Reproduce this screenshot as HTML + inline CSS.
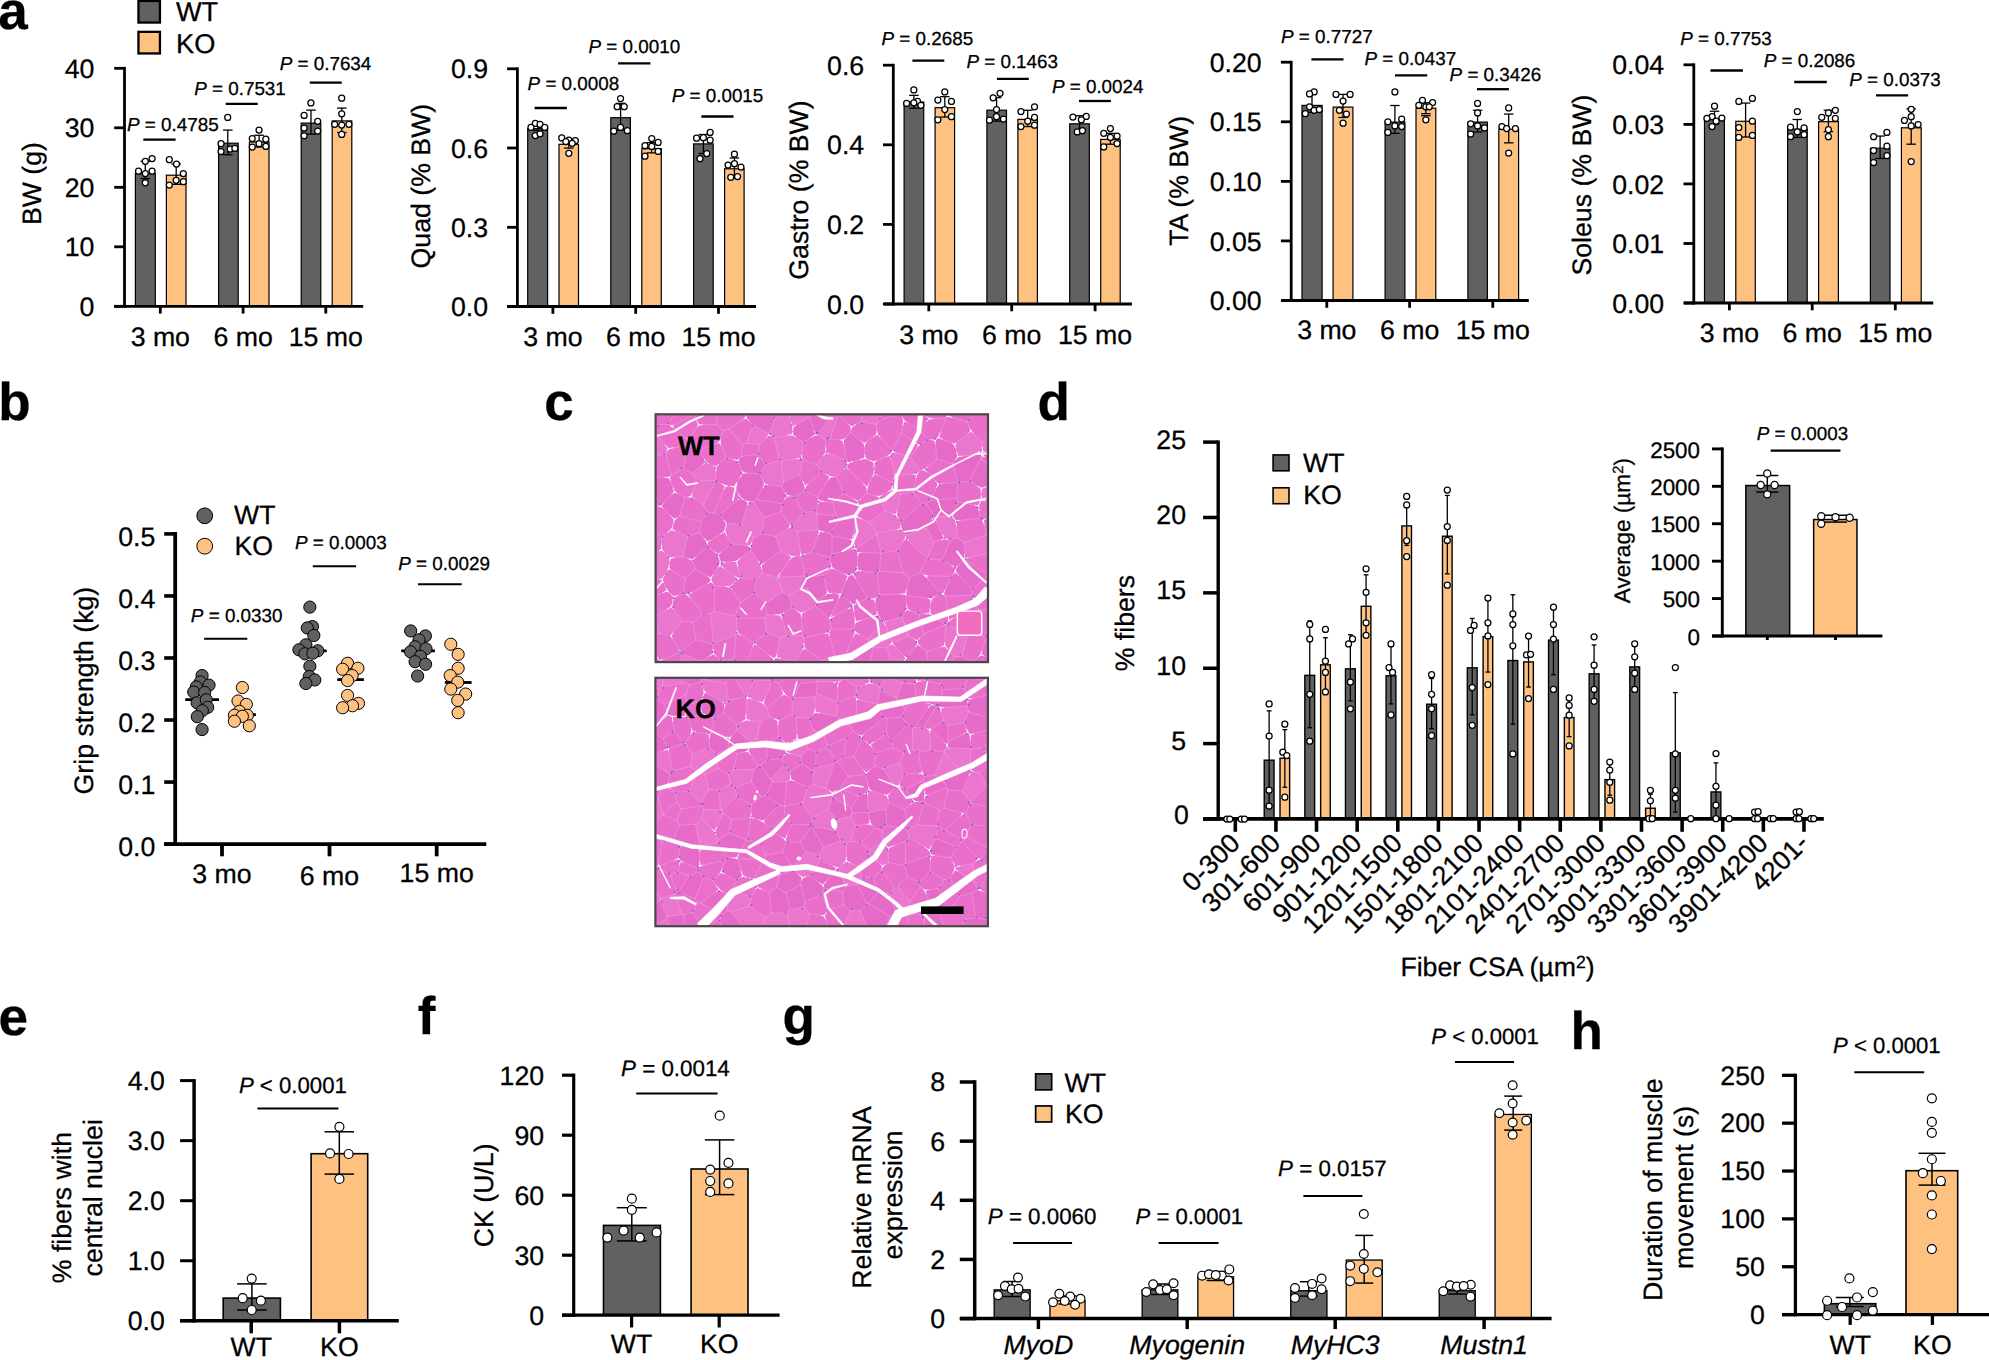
<!DOCTYPE html>
<html lang="en"><head><meta charset="utf-8"><title>Figure</title>
<style>html,body{margin:0;padding:0;background:#fff}svg{display:block}</style></head>
<body>
<svg width="1989" height="1360" viewBox="0 0 1989 1360" font-family='"Liberation Sans", Arial, Helvetica, sans-serif' fill="#000" text-rendering="geometricPrecision">
<style>text{stroke:#000;stroke-width:.28px}</style>
<rect x="135.4" y="173.5" width="19.9" height="132.7" fill="#616161" stroke="#000" stroke-width="1.2"/>
<rect x="166.4" y="175.2" width="19.6" height="131" fill="#ffc180" stroke="#000" stroke-width="1.2"/>
<rect x="218.6" y="143.2" width="19.6" height="163" fill="#616161" stroke="#000" stroke-width="1.2"/>
<rect x="249.4" y="142" width="19.6" height="164.2" fill="#ffc180" stroke="#000" stroke-width="1.2"/>
<rect x="301.2" y="123.1" width="19.6" height="183.1" fill="#616161" stroke="#000" stroke-width="1.2"/>
<rect x="332.2" y="120.9" width="19.6" height="185.3" fill="#ffc180" stroke="#000" stroke-width="1.2"/>
<line x1="124.5" y1="66.9" x2="124.5" y2="307.7" stroke="#000" stroke-width="2.8"/>
<line x1="114.4" y1="306.3" x2="363.2" y2="306.3" stroke="#000" stroke-width="2.8"/>
<line x1="114.2" y1="68.3" x2="124.5" y2="68.3" stroke="#000" stroke-width="2.8"/>
<text x="94.4" y="77.9" font-size="26.7" text-anchor="end">40</text>
<line x1="114.2" y1="127.8" x2="124.5" y2="127.8" stroke="#000" stroke-width="2.8"/>
<text x="94.4" y="137.4" font-size="26.7" text-anchor="end">30</text>
<line x1="114.2" y1="187.3" x2="124.5" y2="187.3" stroke="#000" stroke-width="2.8"/>
<text x="94.4" y="196.9" font-size="26.7" text-anchor="end">20</text>
<line x1="114.2" y1="246.8" x2="124.5" y2="246.8" stroke="#000" stroke-width="2.8"/>
<text x="94.4" y="256.4" font-size="26.7" text-anchor="end">10</text>
<line x1="114.2" y1="306.3" x2="124.5" y2="306.3" stroke="#000" stroke-width="2.8"/>
<text x="94.4" y="315.9" font-size="26.7" text-anchor="end">0</text>
<line x1="160.3" y1="306.3" x2="160.3" y2="313.6" stroke="#000" stroke-width="2.8"/>
<text x="160.3" y="345.5" font-size="26.7" text-anchor="middle">3 mo</text>
<line x1="243.1" y1="306.3" x2="243.1" y2="313.6" stroke="#000" stroke-width="2.8"/>
<text x="243.1" y="345.5" font-size="26.7" text-anchor="middle">6 mo</text>
<line x1="325.8" y1="306.3" x2="325.8" y2="313.6" stroke="#000" stroke-width="2.8"/>
<text x="325.8" y="345.5" font-size="26.7" text-anchor="middle">15 mo</text>
<line x1="145.3" y1="161.31" x2="145.3" y2="178.68" stroke="#000" stroke-width="1.3"/>
<line x1="140.55" y1="161.31" x2="150.05" y2="161.31" stroke="#000" stroke-width="1.3"/>
<line x1="140.55" y1="178.68" x2="150.05" y2="178.68" stroke="#000" stroke-width="1.3"/>
<line x1="176.2" y1="164.02" x2="176.2" y2="184.38" stroke="#000" stroke-width="1.3"/>
<line x1="171.45" y1="164.02" x2="180.95" y2="164.02" stroke="#000" stroke-width="1.3"/>
<line x1="171.45" y1="184.38" x2="180.95" y2="184.38" stroke="#000" stroke-width="1.3"/>
<line x1="227.8" y1="130.09" x2="227.8" y2="154.79" stroke="#000" stroke-width="1.3"/>
<line x1="223.05" y1="130.09" x2="232.55" y2="130.09" stroke="#000" stroke-width="1.3"/>
<line x1="223.05" y1="154.79" x2="232.55" y2="154.79" stroke="#000" stroke-width="1.3"/>
<line x1="259.1" y1="135.25" x2="259.1" y2="147.05" stroke="#000" stroke-width="1.3"/>
<line x1="254.35" y1="135.25" x2="263.85" y2="135.25" stroke="#000" stroke-width="1.3"/>
<line x1="254.35" y1="147.05" x2="263.85" y2="147.05" stroke="#000" stroke-width="1.3"/>
<line x1="311" y1="110.13" x2="311" y2="134.16" stroke="#000" stroke-width="1.3"/>
<line x1="306.25" y1="110.13" x2="315.75" y2="110.13" stroke="#000" stroke-width="1.3"/>
<line x1="306.25" y1="134.16" x2="315.75" y2="134.16" stroke="#000" stroke-width="1.3"/>
<line x1="341.8" y1="108.1" x2="341.8" y2="132.53" stroke="#000" stroke-width="1.3"/>
<line x1="337.05" y1="108.1" x2="346.55" y2="108.1" stroke="#000" stroke-width="1.3"/>
<line x1="337.05" y1="132.53" x2="346.55" y2="132.53" stroke="#000" stroke-width="1.3"/>
<circle cx="145.29" cy="161.31" r="3" fill="#fff" stroke="#000" stroke-width="1.25"/>
<circle cx="152.08" cy="158.59" r="3" fill="#fff" stroke="#000" stroke-width="1.25"/>
<circle cx="138.51" cy="171.22" r="3" fill="#fff" stroke="#000" stroke-width="1.25"/>
<circle cx="145.29" cy="173.52" r="3" fill="#fff" stroke="#000" stroke-width="1.25"/>
<circle cx="152.08" cy="171.22" r="3" fill="#fff" stroke="#000" stroke-width="1.25"/>
<circle cx="145.29" cy="182.75" r="3" fill="#fff" stroke="#000" stroke-width="1.25"/>
<circle cx="169.32" cy="159.68" r="3" fill="#fff" stroke="#000" stroke-width="1.25"/>
<circle cx="176.51" cy="164.02" r="3" fill="#fff" stroke="#000" stroke-width="1.25"/>
<circle cx="183.3" cy="173.52" r="3" fill="#fff" stroke="#000" stroke-width="1.25"/>
<circle cx="176.11" cy="180.31" r="3" fill="#fff" stroke="#000" stroke-width="1.25"/>
<circle cx="183.3" cy="181.67" r="3" fill="#fff" stroke="#000" stroke-width="1.25"/>
<circle cx="169.32" cy="185.06" r="3" fill="#fff" stroke="#000" stroke-width="1.25"/>
<circle cx="227.69" cy="117.46" r="3" fill="#fff" stroke="#000" stroke-width="1.25"/>
<circle cx="221.04" cy="143.66" r="3" fill="#fff" stroke="#000" stroke-width="1.25"/>
<circle cx="221.04" cy="151.53" r="3" fill="#fff" stroke="#000" stroke-width="1.25"/>
<circle cx="230.13" cy="149.09" r="3" fill="#fff" stroke="#000" stroke-width="1.25"/>
<circle cx="234.88" cy="148.41" r="3" fill="#fff" stroke="#000" stroke-width="1.25"/>
<circle cx="259.04" cy="130.09" r="3" fill="#fff" stroke="#000" stroke-width="1.25"/>
<circle cx="252.26" cy="138.5" r="3" fill="#fff" stroke="#000" stroke-width="1.25"/>
<circle cx="265.83" cy="139.18" r="3" fill="#fff" stroke="#000" stroke-width="1.25"/>
<circle cx="259.04" cy="143.66" r="3" fill="#fff" stroke="#000" stroke-width="1.25"/>
<circle cx="252.26" cy="147.05" r="3" fill="#fff" stroke="#000" stroke-width="1.25"/>
<circle cx="265.83" cy="146.38" r="3" fill="#fff" stroke="#000" stroke-width="1.25"/>
<circle cx="310.9" cy="102.94" r="3" fill="#fff" stroke="#000" stroke-width="1.25"/>
<circle cx="304.11" cy="115.43" r="3" fill="#fff" stroke="#000" stroke-width="1.25"/>
<circle cx="317.68" cy="121.26" r="3" fill="#fff" stroke="#000" stroke-width="1.25"/>
<circle cx="304.11" cy="128.05" r="3" fill="#fff" stroke="#000" stroke-width="1.25"/>
<circle cx="317.68" cy="131.04" r="3" fill="#fff" stroke="#000" stroke-width="1.25"/>
<circle cx="304.11" cy="135.79" r="3" fill="#fff" stroke="#000" stroke-width="1.25"/>
<circle cx="341.71" cy="98.19" r="3" fill="#fff" stroke="#000" stroke-width="1.25"/>
<circle cx="341.71" cy="113.8" r="3" fill="#fff" stroke="#000" stroke-width="1.25"/>
<circle cx="334.65" cy="124.25" r="3" fill="#fff" stroke="#000" stroke-width="1.25"/>
<circle cx="341.71" cy="125.06" r="3" fill="#fff" stroke="#000" stroke-width="1.25"/>
<circle cx="348.9" cy="124.25" r="3" fill="#fff" stroke="#000" stroke-width="1.25"/>
<circle cx="341.71" cy="134.43" r="3" fill="#fff" stroke="#000" stroke-width="1.25"/>
<text x="127" y="131" font-size="18.83"><tspan font-style="italic">P</tspan> = 0.4785</text>
<text x="194.2" y="95.2" font-size="18.83"><tspan font-style="italic">P</tspan> = 0.7531</text>
<text x="279.7" y="70" font-size="18.83"><tspan font-style="italic">P</tspan> = 0.7634</text>
<line x1="143.3" y1="139.6" x2="175.6" y2="139.6" stroke="#000" stroke-width="2.3"/>
<line x1="225.7" y1="103.9" x2="257.7" y2="103.9" stroke="#000" stroke-width="2.3"/>
<line x1="309.8" y1="82.7" x2="341.8" y2="82.7" stroke="#000" stroke-width="2.3"/>
<text x="40.9" y="183.6" font-size="26.7" text-anchor="middle" transform="rotate(-90 40.9 183.6)">BW (g)</text>
<rect x="527.7" y="128.6" width="19.9" height="177.8" fill="#616161" stroke="#000" stroke-width="1.2"/>
<rect x="559" y="144.3" width="19.5" height="162.1" fill="#ffc180" stroke="#000" stroke-width="1.2"/>
<rect x="610.8" y="117.7" width="19.6" height="188.7" fill="#616161" stroke="#000" stroke-width="1.2"/>
<rect x="641.8" y="148.7" width="19.5" height="157.7" fill="#ffc180" stroke="#000" stroke-width="1.2"/>
<rect x="693.6" y="143.9" width="19.6" height="162.5" fill="#616161" stroke="#000" stroke-width="1.2"/>
<rect x="724.6" y="168.8" width="19.5" height="137.6" fill="#ffc180" stroke="#000" stroke-width="1.2"/>
<line x1="517.4" y1="67.4" x2="517.4" y2="307.9" stroke="#000" stroke-width="2.8"/>
<line x1="507.2" y1="306.5" x2="756" y2="306.5" stroke="#000" stroke-width="2.8"/>
<line x1="507.1" y1="68.8" x2="517.4" y2="68.8" stroke="#000" stroke-width="2.8"/>
<text x="488.1" y="78.4" font-size="26.7" text-anchor="end">0.9</text>
<line x1="507.1" y1="148" x2="517.4" y2="148" stroke="#000" stroke-width="2.8"/>
<text x="488.1" y="157.6" font-size="26.7" text-anchor="end">0.6</text>
<line x1="507.1" y1="227.3" x2="517.4" y2="227.3" stroke="#000" stroke-width="2.8"/>
<text x="488.1" y="236.9" font-size="26.7" text-anchor="end">0.3</text>
<line x1="507.1" y1="306.5" x2="517.4" y2="306.5" stroke="#000" stroke-width="2.8"/>
<text x="488.1" y="316.1" font-size="26.7" text-anchor="end">0.0</text>
<line x1="552.9" y1="306.5" x2="552.9" y2="313.8" stroke="#000" stroke-width="2.8"/>
<text x="552.9" y="345.5" font-size="26.7" text-anchor="middle">3 mo</text>
<line x1="635.7" y1="306.5" x2="635.7" y2="313.8" stroke="#000" stroke-width="2.8"/>
<text x="635.7" y="345.5" font-size="26.7" text-anchor="middle">6 mo</text>
<line x1="718.5" y1="306.5" x2="718.5" y2="313.8" stroke="#000" stroke-width="2.8"/>
<text x="718.5" y="345.5" font-size="26.7" text-anchor="middle">15 mo</text>
<line x1="537.7" y1="125.02" x2="537.7" y2="130.45" stroke="#000" stroke-width="1.3"/>
<line x1="532.95" y1="125.02" x2="542.45" y2="125.02" stroke="#000" stroke-width="1.3"/>
<line x1="532.95" y1="130.45" x2="542.45" y2="130.45" stroke="#000" stroke-width="1.3"/>
<line x1="568.8" y1="139.27" x2="568.8" y2="148.09" stroke="#000" stroke-width="1.3"/>
<line x1="564.05" y1="139.27" x2="573.55" y2="139.27" stroke="#000" stroke-width="1.3"/>
<line x1="564.05" y1="148.09" x2="573.55" y2="148.09" stroke="#000" stroke-width="1.3"/>
<line x1="620.6" y1="103.3" x2="620.6" y2="129.77" stroke="#000" stroke-width="1.3"/>
<line x1="615.85" y1="103.3" x2="625.35" y2="103.3" stroke="#000" stroke-width="1.3"/>
<line x1="615.85" y1="129.77" x2="625.35" y2="129.77" stroke="#000" stroke-width="1.3"/>
<line x1="651.6" y1="142.66" x2="651.6" y2="152.85" stroke="#000" stroke-width="1.3"/>
<line x1="646.85" y1="142.66" x2="656.35" y2="142.66" stroke="#000" stroke-width="1.3"/>
<line x1="646.85" y1="152.85" x2="656.35" y2="152.85" stroke="#000" stroke-width="1.3"/>
<line x1="703.4" y1="134.52" x2="703.4" y2="153.52" stroke="#000" stroke-width="1.3"/>
<line x1="698.65" y1="134.52" x2="708.15" y2="134.52" stroke="#000" stroke-width="1.3"/>
<line x1="698.65" y1="153.52" x2="708.15" y2="153.52" stroke="#000" stroke-width="1.3"/>
<line x1="734.4" y1="158" x2="734.4" y2="177.96" stroke="#000" stroke-width="1.3"/>
<line x1="729.65" y1="158" x2="739.15" y2="158" stroke="#000" stroke-width="1.3"/>
<line x1="729.65" y1="177.96" x2="739.15" y2="177.96" stroke="#000" stroke-width="1.3"/>
<circle cx="535.29" cy="123.39" r="3" fill="#fff" stroke="#000" stroke-width="1.25"/>
<circle cx="540.04" cy="124.34" r="3" fill="#fff" stroke="#000" stroke-width="1.25"/>
<circle cx="530.95" cy="127.46" r="3" fill="#fff" stroke="#000" stroke-width="1.25"/>
<circle cx="544.79" cy="127.46" r="3" fill="#fff" stroke="#000" stroke-width="1.25"/>
<circle cx="535.29" cy="135.61" r="3" fill="#fff" stroke="#000" stroke-width="1.25"/>
<circle cx="540.04" cy="133.84" r="3" fill="#fff" stroke="#000" stroke-width="1.25"/>
<circle cx="561.76" cy="137.91" r="3" fill="#fff" stroke="#000" stroke-width="1.25"/>
<circle cx="568.96" cy="140.22" r="3" fill="#fff" stroke="#000" stroke-width="1.25"/>
<circle cx="575.34" cy="140.63" r="3" fill="#fff" stroke="#000" stroke-width="1.25"/>
<circle cx="565.83" cy="141.58" r="3" fill="#fff" stroke="#000" stroke-width="1.25"/>
<circle cx="572.21" cy="143.34" r="3" fill="#fff" stroke="#000" stroke-width="1.25"/>
<circle cx="568.82" cy="153.25" r="3" fill="#fff" stroke="#000" stroke-width="1.25"/>
<circle cx="620.54" cy="98.55" r="3" fill="#fff" stroke="#000" stroke-width="1.25"/>
<circle cx="617.14" cy="106.69" r="3" fill="#fff" stroke="#000" stroke-width="1.25"/>
<circle cx="624.2" cy="106.69" r="3" fill="#fff" stroke="#000" stroke-width="1.25"/>
<circle cx="620.54" cy="127.46" r="3" fill="#fff" stroke="#000" stroke-width="1.25"/>
<circle cx="613.75" cy="131.13" r="3" fill="#fff" stroke="#000" stroke-width="1.25"/>
<circle cx="627.32" cy="130.72" r="3" fill="#fff" stroke="#000" stroke-width="1.25"/>
<circle cx="651.76" cy="138.59" r="3" fill="#fff" stroke="#000" stroke-width="1.25"/>
<circle cx="658.14" cy="142.39" r="3" fill="#fff" stroke="#000" stroke-width="1.25"/>
<circle cx="644.97" cy="145.65" r="3" fill="#fff" stroke="#000" stroke-width="1.25"/>
<circle cx="651.76" cy="146.47" r="3" fill="#fff" stroke="#000" stroke-width="1.25"/>
<circle cx="658.14" cy="151.49" r="3" fill="#fff" stroke="#000" stroke-width="1.25"/>
<circle cx="644.97" cy="156.24" r="3" fill="#fff" stroke="#000" stroke-width="1.25"/>
<circle cx="710.13" cy="132.48" r="3" fill="#fff" stroke="#000" stroke-width="1.25"/>
<circle cx="696.55" cy="138.19" r="3" fill="#fff" stroke="#000" stroke-width="1.25"/>
<circle cx="703.34" cy="137.64" r="3" fill="#fff" stroke="#000" stroke-width="1.25"/>
<circle cx="710.13" cy="140.22" r="3" fill="#fff" stroke="#000" stroke-width="1.25"/>
<circle cx="706.73" cy="153.52" r="3" fill="#fff" stroke="#000" stroke-width="1.25"/>
<circle cx="699.95" cy="158.68" r="3" fill="#fff" stroke="#000" stroke-width="1.25"/>
<circle cx="734.42" cy="154.2" r="3" fill="#fff" stroke="#000" stroke-width="1.25"/>
<circle cx="728.04" cy="165.06" r="3" fill="#fff" stroke="#000" stroke-width="1.25"/>
<circle cx="734.42" cy="163.7" r="3" fill="#fff" stroke="#000" stroke-width="1.25"/>
<circle cx="740.94" cy="167.1" r="3" fill="#fff" stroke="#000" stroke-width="1.25"/>
<circle cx="730.76" cy="177.28" r="3" fill="#fff" stroke="#000" stroke-width="1.25"/>
<circle cx="737.55" cy="176.6" r="3" fill="#fff" stroke="#000" stroke-width="1.25"/>
<text x="527.6" y="90.4" font-size="18.83"><tspan font-style="italic">P</tspan> = 0.0008</text>
<text x="588.5" y="53.1" font-size="18.83"><tspan font-style="italic">P</tspan> = 0.0010</text>
<text x="671.7" y="102.3" font-size="18.83"><tspan font-style="italic">P</tspan> = 0.0015</text>
<line x1="534.6" y1="108" x2="566.9" y2="108" stroke="#000" stroke-width="2.3"/>
<line x1="618.1" y1="63.3" x2="650.4" y2="63.3" stroke="#000" stroke-width="2.3"/>
<line x1="701.3" y1="116.5" x2="733.5" y2="116.5" stroke="#000" stroke-width="2.3"/>
<text x="430.4" y="186.1" font-size="26.7" text-anchor="middle" transform="rotate(-90 430.4 186.1)">Quad (% BW)</text>
<rect x="904.1" y="102" width="19.6" height="201.9" fill="#616161" stroke="#000" stroke-width="1.2"/>
<rect x="935.1" y="107.7" width="19.5" height="196.2" fill="#ffc180" stroke="#000" stroke-width="1.2"/>
<rect x="986.9" y="110.2" width="19.6" height="193.7" fill="#616161" stroke="#000" stroke-width="1.2"/>
<rect x="1017.9" y="119.4" width="19.5" height="184.5" fill="#ffc180" stroke="#000" stroke-width="1.2"/>
<rect x="1069.7" y="123.8" width="19.6" height="180.1" fill="#616161" stroke="#000" stroke-width="1.2"/>
<rect x="1100.7" y="139.4" width="19.5" height="164.5" fill="#ffc180" stroke="#000" stroke-width="1.2"/>
<line x1="893.3" y1="63.8" x2="893.3" y2="305.4" stroke="#000" stroke-width="2.8"/>
<line x1="883.8" y1="304" x2="1131.9" y2="304" stroke="#000" stroke-width="2.8"/>
<line x1="883" y1="65.2" x2="893.3" y2="65.2" stroke="#000" stroke-width="2.8"/>
<text x="864.2" y="74.8" font-size="26.7" text-anchor="end">0.6</text>
<line x1="883" y1="144.8" x2="893.3" y2="144.8" stroke="#000" stroke-width="2.8"/>
<text x="864.2" y="154.4" font-size="26.7" text-anchor="end">0.4</text>
<line x1="883" y1="224.4" x2="893.3" y2="224.4" stroke="#000" stroke-width="2.8"/>
<text x="864.2" y="234" font-size="26.7" text-anchor="end">0.2</text>
<line x1="883" y1="304" x2="893.3" y2="304" stroke="#000" stroke-width="2.8"/>
<text x="864.2" y="313.6" font-size="26.7" text-anchor="end">0.0</text>
<line x1="928.8" y1="304" x2="928.8" y2="311.3" stroke="#000" stroke-width="2.8"/>
<text x="928.8" y="344.1" font-size="26.7" text-anchor="middle">3 mo</text>
<line x1="1011.7" y1="304" x2="1011.7" y2="311.3" stroke="#000" stroke-width="2.8"/>
<text x="1011.7" y="344.1" font-size="26.7" text-anchor="middle">6 mo</text>
<line x1="1095.1" y1="304" x2="1095.1" y2="311.3" stroke="#000" stroke-width="2.8"/>
<text x="1095.1" y="344.1" font-size="26.7" text-anchor="middle">15 mo</text>
<line x1="913.9" y1="95.34" x2="913.9" y2="108.23" stroke="#000" stroke-width="1.3"/>
<line x1="909.15" y1="95.34" x2="918.65" y2="95.34" stroke="#000" stroke-width="1.3"/>
<line x1="909.15" y1="108.23" x2="918.65" y2="108.23" stroke="#000" stroke-width="1.3"/>
<line x1="944.8" y1="96.69" x2="944.8" y2="117.05" stroke="#000" stroke-width="1.3"/>
<line x1="940.05" y1="96.69" x2="949.55" y2="96.69" stroke="#000" stroke-width="1.3"/>
<line x1="940.05" y1="117.05" x2="949.55" y2="117.05" stroke="#000" stroke-width="1.3"/>
<line x1="996.6" y1="97.64" x2="996.6" y2="121.13" stroke="#000" stroke-width="1.3"/>
<line x1="991.85" y1="97.64" x2="1001.35" y2="97.64" stroke="#000" stroke-width="1.3"/>
<line x1="991.85" y1="121.13" x2="1001.35" y2="121.13" stroke="#000" stroke-width="1.3"/>
<line x1="1027.7" y1="110.27" x2="1027.7" y2="126.56" stroke="#000" stroke-width="1.3"/>
<line x1="1022.95" y1="110.27" x2="1032.45" y2="110.27" stroke="#000" stroke-width="1.3"/>
<line x1="1022.95" y1="126.56" x2="1032.45" y2="126.56" stroke="#000" stroke-width="1.3"/>
<line x1="1079.5" y1="115.7" x2="1079.5" y2="131.99" stroke="#000" stroke-width="1.3"/>
<line x1="1074.75" y1="115.7" x2="1084.25" y2="115.7" stroke="#000" stroke-width="1.3"/>
<line x1="1074.75" y1="131.99" x2="1084.25" y2="131.99" stroke="#000" stroke-width="1.3"/>
<line x1="1110.4" y1="133.34" x2="1110.4" y2="144.2" stroke="#000" stroke-width="1.3"/>
<line x1="1105.65" y1="133.34" x2="1115.15" y2="133.34" stroke="#000" stroke-width="1.3"/>
<line x1="1105.65" y1="144.2" x2="1115.15" y2="144.2" stroke="#000" stroke-width="1.3"/>
<circle cx="913.84" cy="89.91" r="3" fill="#fff" stroke="#000" stroke-width="1.25"/>
<circle cx="906.65" cy="103.48" r="3" fill="#fff" stroke="#000" stroke-width="1.25"/>
<circle cx="917.51" cy="101.44" r="3" fill="#fff" stroke="#000" stroke-width="1.25"/>
<circle cx="913.84" cy="102.8" r="3" fill="#fff" stroke="#000" stroke-width="1.25"/>
<circle cx="920.9" cy="105.25" r="3" fill="#fff" stroke="#000" stroke-width="1.25"/>
<circle cx="944.79" cy="91.94" r="3" fill="#fff" stroke="#000" stroke-width="1.25"/>
<circle cx="937.87" cy="100.09" r="3" fill="#fff" stroke="#000" stroke-width="1.25"/>
<circle cx="951.44" cy="101.44" r="3" fill="#fff" stroke="#000" stroke-width="1.25"/>
<circle cx="944.79" cy="109.59" r="3" fill="#fff" stroke="#000" stroke-width="1.25"/>
<circle cx="937.87" cy="119.77" r="3" fill="#fff" stroke="#000" stroke-width="1.25"/>
<circle cx="951.44" cy="116.65" r="3" fill="#fff" stroke="#000" stroke-width="1.25"/>
<circle cx="1000.04" cy="93.3" r="3" fill="#fff" stroke="#000" stroke-width="1.25"/>
<circle cx="993.12" cy="97.78" r="3" fill="#fff" stroke="#000" stroke-width="1.25"/>
<circle cx="996.51" cy="109.59" r="3" fill="#fff" stroke="#000" stroke-width="1.25"/>
<circle cx="996.51" cy="116.65" r="3" fill="#fff" stroke="#000" stroke-width="1.25"/>
<circle cx="989.45" cy="120.18" r="3" fill="#fff" stroke="#000" stroke-width="1.25"/>
<circle cx="1003.43" cy="119.09" r="3" fill="#fff" stroke="#000" stroke-width="1.25"/>
<circle cx="1034.52" cy="106.87" r="3" fill="#fff" stroke="#000" stroke-width="1.25"/>
<circle cx="1020.94" cy="111.62" r="3" fill="#fff" stroke="#000" stroke-width="1.25"/>
<circle cx="1034.52" cy="117.46" r="3" fill="#fff" stroke="#000" stroke-width="1.25"/>
<circle cx="1027.73" cy="121.13" r="3" fill="#fff" stroke="#000" stroke-width="1.25"/>
<circle cx="1020.94" cy="126.56" r="3" fill="#fff" stroke="#000" stroke-width="1.25"/>
<circle cx="1034.52" cy="125.2" r="3" fill="#fff" stroke="#000" stroke-width="1.25"/>
<circle cx="1072.93" cy="117.05" r="3" fill="#fff" stroke="#000" stroke-width="1.25"/>
<circle cx="1086.23" cy="116.38" r="3" fill="#fff" stroke="#000" stroke-width="1.25"/>
<circle cx="1081.35" cy="119.77" r="3" fill="#fff" stroke="#000" stroke-width="1.25"/>
<circle cx="1077.28" cy="131.99" r="3" fill="#fff" stroke="#000" stroke-width="1.25"/>
<circle cx="1082.43" cy="130.63" r="3" fill="#fff" stroke="#000" stroke-width="1.25"/>
<circle cx="1110.4" cy="128.59" r="3" fill="#fff" stroke="#000" stroke-width="1.25"/>
<circle cx="1103.75" cy="133.34" r="3" fill="#fff" stroke="#000" stroke-width="1.25"/>
<circle cx="1117.05" cy="136.06" r="3" fill="#fff" stroke="#000" stroke-width="1.25"/>
<circle cx="1110.4" cy="137.42" r="3" fill="#fff" stroke="#000" stroke-width="1.25"/>
<circle cx="1117.05" cy="143.52" r="3" fill="#fff" stroke="#000" stroke-width="1.25"/>
<circle cx="1103.75" cy="146.92" r="3" fill="#fff" stroke="#000" stroke-width="1.25"/>
<text x="881.5" y="44.8" font-size="18.83"><tspan font-style="italic">P</tspan> = 0.2685</text>
<text x="966.4" y="68.2" font-size="18.83"><tspan font-style="italic">P</tspan> = 0.1463</text>
<text x="1051.9" y="93.3" font-size="18.83"><tspan font-style="italic">P</tspan> = 0.0024</text>
<line x1="912.4" y1="60.7" x2="944.3" y2="60.7" stroke="#000" stroke-width="2.3"/>
<line x1="996.9" y1="78.8" x2="1028.8" y2="78.8" stroke="#000" stroke-width="2.3"/>
<line x1="1079" y1="101" x2="1110.9" y2="101" stroke="#000" stroke-width="2.3"/>
<text x="807.8" y="190" font-size="26.7" text-anchor="middle" transform="rotate(-90 807.8 190)">Gastro (% BW)</text>
<rect x="1302" y="105.4" width="20.1" height="195" fill="#616161" stroke="#000" stroke-width="1.2"/>
<rect x="1333.1" y="107.1" width="19.8" height="193.3" fill="#ffc180" stroke="#000" stroke-width="1.2"/>
<rect x="1385.1" y="122.1" width="19.8" height="178.3" fill="#616161" stroke="#000" stroke-width="1.2"/>
<rect x="1416" y="108.2" width="19.8" height="192.2" fill="#ffc180" stroke="#000" stroke-width="1.2"/>
<rect x="1467.9" y="122.1" width="19.5" height="178.3" fill="#616161" stroke="#000" stroke-width="1.2"/>
<rect x="1498.8" y="129.2" width="19.8" height="171.2" fill="#ffc180" stroke="#000" stroke-width="1.2"/>
<line x1="1291.2" y1="60.8" x2="1291.2" y2="301.9" stroke="#000" stroke-width="2.8"/>
<line x1="1281.8" y1="300.5" x2="1528.8" y2="300.5" stroke="#000" stroke-width="2.8"/>
<line x1="1280.9" y1="62.2" x2="1291.2" y2="62.2" stroke="#000" stroke-width="2.8"/>
<text x="1261.7" y="71.8" font-size="26.7" text-anchor="end">0.20</text>
<line x1="1280.9" y1="121.8" x2="1291.2" y2="121.8" stroke="#000" stroke-width="2.8"/>
<text x="1261.7" y="131.4" font-size="26.7" text-anchor="end">0.15</text>
<line x1="1280.9" y1="181.4" x2="1291.2" y2="181.4" stroke="#000" stroke-width="2.8"/>
<text x="1261.7" y="191" font-size="26.7" text-anchor="end">0.10</text>
<line x1="1280.9" y1="240.9" x2="1291.2" y2="240.9" stroke="#000" stroke-width="2.8"/>
<text x="1261.7" y="250.5" font-size="26.7" text-anchor="end">0.05</text>
<line x1="1280.9" y1="300.5" x2="1291.2" y2="300.5" stroke="#000" stroke-width="2.8"/>
<text x="1261.7" y="310.1" font-size="26.7" text-anchor="end">0.00</text>
<line x1="1326.8" y1="300.5" x2="1326.8" y2="307.8" stroke="#000" stroke-width="2.8"/>
<text x="1326.8" y="338.9" font-size="26.7" text-anchor="middle">3 mo</text>
<line x1="1409.6" y1="300.5" x2="1409.6" y2="307.8" stroke="#000" stroke-width="2.8"/>
<text x="1409.6" y="338.9" font-size="26.7" text-anchor="middle">6 mo</text>
<line x1="1492.8" y1="300.5" x2="1492.8" y2="307.8" stroke="#000" stroke-width="2.8"/>
<text x="1492.8" y="338.9" font-size="26.7" text-anchor="middle">15 mo</text>
<line x1="1312" y1="93.98" x2="1312" y2="112.3" stroke="#000" stroke-width="1.3"/>
<line x1="1307.25" y1="93.98" x2="1316.75" y2="93.98" stroke="#000" stroke-width="1.3"/>
<line x1="1307.25" y1="112.3" x2="1316.75" y2="112.3" stroke="#000" stroke-width="1.3"/>
<line x1="1343" y1="94.39" x2="1343" y2="117.46" stroke="#000" stroke-width="1.3"/>
<line x1="1338.25" y1="94.39" x2="1347.75" y2="94.39" stroke="#000" stroke-width="1.3"/>
<line x1="1338.25" y1="117.46" x2="1347.75" y2="117.46" stroke="#000" stroke-width="1.3"/>
<line x1="1394.9" y1="105.52" x2="1394.9" y2="133.34" stroke="#000" stroke-width="1.3"/>
<line x1="1390.15" y1="105.52" x2="1399.65" y2="105.52" stroke="#000" stroke-width="1.3"/>
<line x1="1390.15" y1="133.34" x2="1399.65" y2="133.34" stroke="#000" stroke-width="1.3"/>
<line x1="1425.9" y1="102.8" x2="1425.9" y2="113.66" stroke="#000" stroke-width="1.3"/>
<line x1="1421.15" y1="102.8" x2="1430.65" y2="102.8" stroke="#000" stroke-width="1.3"/>
<line x1="1421.15" y1="113.66" x2="1430.65" y2="113.66" stroke="#000" stroke-width="1.3"/>
<line x1="1477.6" y1="110.27" x2="1477.6" y2="131.99" stroke="#000" stroke-width="1.3"/>
<line x1="1472.85" y1="110.27" x2="1482.35" y2="110.27" stroke="#000" stroke-width="1.3"/>
<line x1="1472.85" y1="131.99" x2="1482.35" y2="131.99" stroke="#000" stroke-width="1.3"/>
<line x1="1508.7" y1="114.07" x2="1508.7" y2="142.85" stroke="#000" stroke-width="1.3"/>
<line x1="1503.95" y1="114.07" x2="1513.45" y2="114.07" stroke="#000" stroke-width="1.3"/>
<line x1="1503.95" y1="142.85" x2="1513.45" y2="142.85" stroke="#000" stroke-width="1.3"/>
<circle cx="1314.14" cy="91.94" r="3" fill="#fff" stroke="#000" stroke-width="1.25"/>
<circle cx="1309.52" cy="93.98" r="3" fill="#fff" stroke="#000" stroke-width="1.25"/>
<circle cx="1309.52" cy="106.87" r="3" fill="#fff" stroke="#000" stroke-width="1.25"/>
<circle cx="1305.31" cy="113.66" r="3" fill="#fff" stroke="#000" stroke-width="1.25"/>
<circle cx="1314.14" cy="110.27" r="3" fill="#fff" stroke="#000" stroke-width="1.25"/>
<circle cx="1319.3" cy="109.59" r="3" fill="#fff" stroke="#000" stroke-width="1.25"/>
<circle cx="1335.99" cy="94.39" r="3" fill="#fff" stroke="#000" stroke-width="1.25"/>
<circle cx="1350.11" cy="94.39" r="3" fill="#fff" stroke="#000" stroke-width="1.25"/>
<circle cx="1343.05" cy="101.04" r="3" fill="#fff" stroke="#000" stroke-width="1.25"/>
<circle cx="1339.39" cy="110.27" r="3" fill="#fff" stroke="#000" stroke-width="1.25"/>
<circle cx="1346.44" cy="114.07" r="3" fill="#fff" stroke="#000" stroke-width="1.25"/>
<circle cx="1343.05" cy="123.16" r="3" fill="#fff" stroke="#000" stroke-width="1.25"/>
<circle cx="1394.9" cy="91.94" r="3" fill="#fff" stroke="#000" stroke-width="1.25"/>
<circle cx="1401.69" cy="119.09" r="3" fill="#fff" stroke="#000" stroke-width="1.25"/>
<circle cx="1387.85" cy="121.81" r="3" fill="#fff" stroke="#000" stroke-width="1.25"/>
<circle cx="1394.9" cy="125.88" r="3" fill="#fff" stroke="#000" stroke-width="1.25"/>
<circle cx="1401.69" cy="126.56" r="3" fill="#fff" stroke="#000" stroke-width="1.25"/>
<circle cx="1387.85" cy="132.39" r="3" fill="#fff" stroke="#000" stroke-width="1.25"/>
<circle cx="1422.46" cy="100.36" r="3" fill="#fff" stroke="#000" stroke-width="1.25"/>
<circle cx="1432.64" cy="102.53" r="3" fill="#fff" stroke="#000" stroke-width="1.25"/>
<circle cx="1418.79" cy="105.25" r="3" fill="#fff" stroke="#000" stroke-width="1.25"/>
<circle cx="1425.85" cy="106.87" r="3" fill="#fff" stroke="#000" stroke-width="1.25"/>
<circle cx="1429.25" cy="106.87" r="3" fill="#fff" stroke="#000" stroke-width="1.25"/>
<circle cx="1425.85" cy="119.77" r="3" fill="#fff" stroke="#000" stroke-width="1.25"/>
<circle cx="1477.57" cy="103.48" r="3" fill="#fff" stroke="#000" stroke-width="1.25"/>
<circle cx="1477.57" cy="112.98" r="3" fill="#fff" stroke="#000" stroke-width="1.25"/>
<circle cx="1470.65" cy="123.84" r="3" fill="#fff" stroke="#000" stroke-width="1.25"/>
<circle cx="1477.57" cy="125.88" r="3" fill="#fff" stroke="#000" stroke-width="1.25"/>
<circle cx="1484.49" cy="127.91" r="3" fill="#fff" stroke="#000" stroke-width="1.25"/>
<circle cx="1470.65" cy="134.02" r="3" fill="#fff" stroke="#000" stroke-width="1.25"/>
<circle cx="1508.65" cy="107.96" r="3" fill="#fff" stroke="#000" stroke-width="1.25"/>
<circle cx="1501.87" cy="126.56" r="3" fill="#fff" stroke="#000" stroke-width="1.25"/>
<circle cx="1506.62" cy="128.59" r="3" fill="#fff" stroke="#000" stroke-width="1.25"/>
<circle cx="1515.44" cy="128.59" r="3" fill="#fff" stroke="#000" stroke-width="1.25"/>
<circle cx="1508.65" cy="153.03" r="3" fill="#fff" stroke="#000" stroke-width="1.25"/>
<text x="1281" y="43.3" font-size="18.83"><tspan font-style="italic">P</tspan> = 0.7727</text>
<text x="1364.5" y="64.5" font-size="18.83"><tspan font-style="italic">P</tspan> = 0.0437</text>
<text x="1449.6" y="81.1" font-size="18.83"><tspan font-style="italic">P</tspan> = 0.3426</text>
<line x1="1311.4" y1="59.4" x2="1343.5" y2="59.4" stroke="#000" stroke-width="2.3"/>
<line x1="1395" y1="75.4" x2="1427.2" y2="75.4" stroke="#000" stroke-width="2.3"/>
<line x1="1477" y1="89.2" x2="1508.9" y2="89.2" stroke="#000" stroke-width="2.3"/>
<text x="1187.9" y="180.8" font-size="26.7" text-anchor="middle" transform="rotate(-90 1187.9 180.8)">TA (% BW)</text>
<line x1="1421.2" y1="115.7" x2="1430.6" y2="115.7" stroke="#000" stroke-width="1.3"/>
<rect x="1704.5" y="119" width="19.9" height="183.9" fill="#616161" stroke="#000" stroke-width="1.2"/>
<rect x="1735.8" y="121.3" width="19.5" height="181.6" fill="#ffc180" stroke="#000" stroke-width="1.2"/>
<rect x="1787.6" y="129.2" width="19.6" height="173.7" fill="#616161" stroke="#000" stroke-width="1.2"/>
<rect x="1818.6" y="121.7" width="19.8" height="181.2" fill="#ffc180" stroke="#000" stroke-width="1.2"/>
<rect x="1870.4" y="148.2" width="19.6" height="154.7" fill="#616161" stroke="#000" stroke-width="1.2"/>
<rect x="1901.4" y="127.8" width="19.8" height="175.1" fill="#ffc180" stroke="#000" stroke-width="1.2"/>
<line x1="1693.8" y1="63.4" x2="1693.8" y2="304.4" stroke="#000" stroke-width="2.8"/>
<line x1="1683.9" y1="303" x2="1933.2" y2="303" stroke="#000" stroke-width="2.8"/>
<line x1="1683.5" y1="64.8" x2="1693.8" y2="64.8" stroke="#000" stroke-width="2.8"/>
<text x="1664.2" y="74.4" font-size="26.7" text-anchor="end">0.04</text>
<line x1="1683.5" y1="124.4" x2="1693.8" y2="124.4" stroke="#000" stroke-width="2.8"/>
<text x="1664.2" y="134" font-size="26.7" text-anchor="end">0.03</text>
<line x1="1683.5" y1="183.9" x2="1693.8" y2="183.9" stroke="#000" stroke-width="2.8"/>
<text x="1664.2" y="193.5" font-size="26.7" text-anchor="end">0.02</text>
<line x1="1683.5" y1="243.5" x2="1693.8" y2="243.5" stroke="#000" stroke-width="2.8"/>
<text x="1664.2" y="253.1" font-size="26.7" text-anchor="end">0.01</text>
<line x1="1683.5" y1="303" x2="1693.8" y2="303" stroke="#000" stroke-width="2.8"/>
<text x="1664.2" y="312.6" font-size="26.7" text-anchor="end">0.00</text>
<line x1="1729.4" y1="303" x2="1729.4" y2="310.3" stroke="#000" stroke-width="2.8"/>
<text x="1729.4" y="342.2" font-size="26.7" text-anchor="middle">3 mo</text>
<line x1="1812.2" y1="303" x2="1812.2" y2="310.3" stroke="#000" stroke-width="2.8"/>
<text x="1812.2" y="342.2" font-size="26.7" text-anchor="middle">6 mo</text>
<line x1="1895.3" y1="303" x2="1895.3" y2="310.3" stroke="#000" stroke-width="2.8"/>
<text x="1895.3" y="342.2" font-size="26.7" text-anchor="middle">15 mo</text>
<line x1="1714.5" y1="111.22" x2="1714.5" y2="124.52" stroke="#000" stroke-width="1.3"/>
<line x1="1709.75" y1="111.22" x2="1719.25" y2="111.22" stroke="#000" stroke-width="1.3"/>
<line x1="1709.75" y1="124.52" x2="1719.25" y2="124.52" stroke="#000" stroke-width="1.3"/>
<line x1="1745.6" y1="103.07" x2="1745.6" y2="137.01" stroke="#000" stroke-width="1.3"/>
<line x1="1740.85" y1="103.07" x2="1750.35" y2="103.07" stroke="#000" stroke-width="1.3"/>
<line x1="1740.85" y1="137.01" x2="1750.35" y2="137.01" stroke="#000" stroke-width="1.3"/>
<line x1="1797.3" y1="119.5" x2="1797.3" y2="137.42" stroke="#000" stroke-width="1.3"/>
<line x1="1792.55" y1="119.5" x2="1802.05" y2="119.5" stroke="#000" stroke-width="1.3"/>
<line x1="1792.55" y1="137.42" x2="1802.05" y2="137.42" stroke="#000" stroke-width="1.3"/>
<line x1="1828.4" y1="110.27" x2="1828.4" y2="131.58" stroke="#000" stroke-width="1.3"/>
<line x1="1823.65" y1="110.27" x2="1833.15" y2="110.27" stroke="#000" stroke-width="1.3"/>
<line x1="1823.65" y1="131.58" x2="1833.15" y2="131.58" stroke="#000" stroke-width="1.3"/>
<line x1="1880.1" y1="136.06" x2="1880.1" y2="158.46" stroke="#000" stroke-width="1.3"/>
<line x1="1875.35" y1="136.06" x2="1884.85" y2="136.06" stroke="#000" stroke-width="1.3"/>
<line x1="1875.35" y1="158.46" x2="1884.85" y2="158.46" stroke="#000" stroke-width="1.3"/>
<line x1="1911.2" y1="108.91" x2="1911.2" y2="144.2" stroke="#000" stroke-width="1.3"/>
<line x1="1906.45" y1="108.91" x2="1915.95" y2="108.91" stroke="#000" stroke-width="1.3"/>
<line x1="1906.45" y1="144.2" x2="1915.95" y2="144.2" stroke="#000" stroke-width="1.3"/>
<circle cx="1714.52" cy="106.2" r="3" fill="#fff" stroke="#000" stroke-width="1.25"/>
<circle cx="1712.08" cy="116.65" r="3" fill="#fff" stroke="#000" stroke-width="1.25"/>
<circle cx="1706.92" cy="118.41" r="3" fill="#fff" stroke="#000" stroke-width="1.25"/>
<circle cx="1721.85" cy="118" r="3" fill="#fff" stroke="#000" stroke-width="1.25"/>
<circle cx="1716.15" cy="121.13" r="3" fill="#fff" stroke="#000" stroke-width="1.25"/>
<circle cx="1712.08" cy="126.56" r="3" fill="#fff" stroke="#000" stroke-width="1.25"/>
<circle cx="1738.82" cy="101.44" r="3" fill="#fff" stroke="#000" stroke-width="1.25"/>
<circle cx="1752.39" cy="98.46" r="3" fill="#fff" stroke="#000" stroke-width="1.25"/>
<circle cx="1752.39" cy="121.13" r="3" fill="#fff" stroke="#000" stroke-width="1.25"/>
<circle cx="1738.82" cy="127.51" r="3" fill="#fff" stroke="#000" stroke-width="1.25"/>
<circle cx="1738.82" cy="137.42" r="3" fill="#fff" stroke="#000" stroke-width="1.25"/>
<circle cx="1752.39" cy="135.38" r="3" fill="#fff" stroke="#000" stroke-width="1.25"/>
<circle cx="1797.32" cy="111.62" r="3" fill="#fff" stroke="#000" stroke-width="1.25"/>
<circle cx="1790.54" cy="127.23" r="3" fill="#fff" stroke="#000" stroke-width="1.25"/>
<circle cx="1804.11" cy="127.91" r="3" fill="#fff" stroke="#000" stroke-width="1.25"/>
<circle cx="1797.32" cy="131.99" r="3" fill="#fff" stroke="#000" stroke-width="1.25"/>
<circle cx="1804.11" cy="134.7" r="3" fill="#fff" stroke="#000" stroke-width="1.25"/>
<circle cx="1790.54" cy="136.74" r="3" fill="#fff" stroke="#000" stroke-width="1.25"/>
<circle cx="1835.33" cy="110.27" r="3" fill="#fff" stroke="#000" stroke-width="1.25"/>
<circle cx="1828.41" cy="112.98" r="3" fill="#fff" stroke="#000" stroke-width="1.25"/>
<circle cx="1821.76" cy="117.33" r="3" fill="#fff" stroke="#000" stroke-width="1.25"/>
<circle cx="1835.33" cy="118.41" r="3" fill="#fff" stroke="#000" stroke-width="1.25"/>
<circle cx="1828.41" cy="129.68" r="3" fill="#fff" stroke="#000" stroke-width="1.25"/>
<circle cx="1828.41" cy="136.74" r="3" fill="#fff" stroke="#000" stroke-width="1.25"/>
<circle cx="1886.91" cy="132.39" r="3" fill="#fff" stroke="#000" stroke-width="1.25"/>
<circle cx="1873.61" cy="136.74" r="3" fill="#fff" stroke="#000" stroke-width="1.25"/>
<circle cx="1886.91" cy="146.24" r="3" fill="#fff" stroke="#000" stroke-width="1.25"/>
<circle cx="1873.61" cy="150.58" r="3" fill="#fff" stroke="#000" stroke-width="1.25"/>
<circle cx="1886.91" cy="155.74" r="3" fill="#fff" stroke="#000" stroke-width="1.25"/>
<circle cx="1873.61" cy="162.53" r="3" fill="#fff" stroke="#000" stroke-width="1.25"/>
<circle cx="1911.21" cy="109.32" r="3" fill="#fff" stroke="#000" stroke-width="1.25"/>
<circle cx="1911.21" cy="116.65" r="3" fill="#fff" stroke="#000" stroke-width="1.25"/>
<circle cx="1904.42" cy="120.45" r="3" fill="#fff" stroke="#000" stroke-width="1.25"/>
<circle cx="1911.21" cy="125.88" r="3" fill="#fff" stroke="#000" stroke-width="1.25"/>
<circle cx="1918.13" cy="124.52" r="3" fill="#fff" stroke="#000" stroke-width="1.25"/>
<circle cx="1911.21" cy="161.58" r="3" fill="#fff" stroke="#000" stroke-width="1.25"/>
<text x="1680.2" y="45.4" font-size="18.83"><tspan font-style="italic">P</tspan> = 0.7753</text>
<text x="1763.7" y="66.6" font-size="18.83"><tspan font-style="italic">P</tspan> = 0.2086</text>
<text x="1849.2" y="85.8" font-size="18.83"><tspan font-style="italic">P</tspan> = 0.0373</text>
<line x1="1710.5" y1="70.5" x2="1742.9" y2="70.5" stroke="#000" stroke-width="2.3"/>
<line x1="1794.2" y1="82" x2="1826.8" y2="82" stroke="#000" stroke-width="2.3"/>
<line x1="1876" y1="95.3" x2="1908.2" y2="95.3" stroke="#000" stroke-width="2.3"/>
<text x="1591.3" y="185.1" font-size="26.7" text-anchor="middle" transform="rotate(-90 1591.3 185.1)">Soleus (% BW)</text>
<rect x="138.45" y="0.95" width="21.5" height="21.6" fill="#616161" stroke="#000" stroke-width="2.3"/>
<rect x="138.45" y="31.85" width="21.5" height="21.6" fill="#ffc180" stroke="#000" stroke-width="2.3"/>
<text x="175.9" y="21.1" font-size="27.2">WT</text>
<text x="176.1" y="52.8" font-size="27.2">KO</text>
<text x="-1.7" y="28.5" font-size="53" font-weight="bold">a</text>
<text x="-1.7" y="420" font-size="53" font-weight="bold">b</text>
<line x1="175.2" y1="532.1" x2="175.2" y2="846" stroke="#000" stroke-width="3.8"/>
<line x1="164.2" y1="844.1" x2="486.3" y2="844.1" stroke="#000" stroke-width="3.8"/>
<line x1="164.2" y1="533.9" x2="174.9" y2="533.9" stroke="#000" stroke-width="3.6"/>
<text x="155.3" y="545.7" font-size="26.7" text-anchor="end">0.5</text>
<line x1="164.2" y1="595.94" x2="174.9" y2="595.94" stroke="#000" stroke-width="3.6"/>
<text x="155.3" y="607.74" font-size="26.7" text-anchor="end">0.4</text>
<line x1="164.2" y1="657.98" x2="174.9" y2="657.98" stroke="#000" stroke-width="3.6"/>
<text x="155.3" y="669.78" font-size="26.7" text-anchor="end">0.3</text>
<line x1="164.2" y1="720.02" x2="174.9" y2="720.02" stroke="#000" stroke-width="3.6"/>
<text x="155.3" y="731.82" font-size="26.7" text-anchor="end">0.2</text>
<line x1="164.2" y1="782.06" x2="174.9" y2="782.06" stroke="#000" stroke-width="3.6"/>
<text x="155.3" y="793.86" font-size="26.7" text-anchor="end">0.1</text>
<line x1="164.2" y1="844.1" x2="174.9" y2="844.1" stroke="#000" stroke-width="3.6"/>
<text x="155.3" y="855.9" font-size="26.7" text-anchor="end">0.0</text>
<line x1="222" y1="844.1" x2="222" y2="856.3" stroke="#000" stroke-width="3.8"/>
<text x="222" y="882.7" font-size="26.7" text-anchor="middle">3 mo</text>
<line x1="329.5" y1="844.1" x2="329.5" y2="856.3" stroke="#000" stroke-width="3.8"/>
<text x="329.5" y="884.6" font-size="26.7" text-anchor="middle">6 mo</text>
<line x1="436.7" y1="844.1" x2="436.7" y2="856.3" stroke="#000" stroke-width="3.8"/>
<text x="436.7" y="882" font-size="26.7" text-anchor="middle">15 mo</text>
<line x1="185.2" y1="699.6" x2="219" y2="699.6" stroke="#000" stroke-width="2.8"/>
<circle cx="202.08" cy="675.59" r="6.1" fill="#616161" stroke="#000" stroke-width="1"/>
<circle cx="200.29" cy="681.94" r="6.1" fill="#616161" stroke="#000" stroke-width="1"/>
<circle cx="209.03" cy="685.12" r="6.1" fill="#616161" stroke="#000" stroke-width="1"/>
<circle cx="196.32" cy="686.9" r="6.1" fill="#616161" stroke="#000" stroke-width="1"/>
<circle cx="193.74" cy="692.06" r="6.1" fill="#616161" stroke="#000" stroke-width="1"/>
<circle cx="204.66" cy="692.46" r="6.1" fill="#616161" stroke="#000" stroke-width="1"/>
<circle cx="197.12" cy="702.78" r="6.1" fill="#616161" stroke="#000" stroke-width="1"/>
<circle cx="206.25" cy="699.81" r="6.1" fill="#616161" stroke="#000" stroke-width="1"/>
<circle cx="207.64" cy="707.35" r="6.1" fill="#616161" stroke="#000" stroke-width="1"/>
<circle cx="202.28" cy="710.72" r="6.1" fill="#616161" stroke="#000" stroke-width="1"/>
<circle cx="197.32" cy="716.68" r="6.1" fill="#616161" stroke="#000" stroke-width="1"/>
<circle cx="202.08" cy="729.58" r="6.1" fill="#616161" stroke="#000" stroke-width="1"/>
<line x1="228.9" y1="714.7" x2="255.9" y2="714.7" stroke="#000" stroke-width="2.8"/>
<circle cx="242.37" cy="687.5" r="6.1" fill="#ffc180" stroke="#000" stroke-width="1"/>
<circle cx="238.01" cy="701" r="6.1" fill="#ffc180" stroke="#000" stroke-width="1"/>
<circle cx="246.34" cy="704.37" r="6.1" fill="#ffc180" stroke="#000" stroke-width="1"/>
<circle cx="239.4" cy="711.32" r="6.1" fill="#ffc180" stroke="#000" stroke-width="1"/>
<circle cx="234.43" cy="715.29" r="6.1" fill="#ffc180" stroke="#000" stroke-width="1"/>
<circle cx="247.34" cy="715.29" r="6.1" fill="#ffc180" stroke="#000" stroke-width="1"/>
<circle cx="242.37" cy="716.28" r="6.1" fill="#ffc180" stroke="#000" stroke-width="1"/>
<circle cx="234.43" cy="721.24" r="6.1" fill="#ffc180" stroke="#000" stroke-width="1"/>
<circle cx="249.32" cy="725.81" r="6.1" fill="#ffc180" stroke="#000" stroke-width="1"/>
<line x1="293" y1="650.8" x2="326.7" y2="650.8" stroke="#000" stroke-width="2.8"/>
<circle cx="309.86" cy="607.11" r="6.1" fill="#616161" stroke="#000" stroke-width="1"/>
<circle cx="312.44" cy="626.56" r="6.1" fill="#616161" stroke="#000" stroke-width="1"/>
<circle cx="307.28" cy="627.95" r="6.1" fill="#616161" stroke="#000" stroke-width="1"/>
<circle cx="313.83" cy="635.49" r="6.1" fill="#616161" stroke="#000" stroke-width="1"/>
<circle cx="305.89" cy="644.82" r="6.1" fill="#616161" stroke="#000" stroke-width="1"/>
<circle cx="317.8" cy="650.78" r="6.1" fill="#616161" stroke="#000" stroke-width="1"/>
<circle cx="298.94" cy="649.79" r="6.1" fill="#616161" stroke="#000" stroke-width="1"/>
<circle cx="304.9" cy="653.76" r="6.1" fill="#616161" stroke="#000" stroke-width="1"/>
<circle cx="312.84" cy="653.16" r="6.1" fill="#616161" stroke="#000" stroke-width="1"/>
<circle cx="309.86" cy="666.26" r="6.1" fill="#616161" stroke="#000" stroke-width="1"/>
<circle cx="309.27" cy="676.58" r="6.1" fill="#616161" stroke="#000" stroke-width="1"/>
<circle cx="314.82" cy="679.96" r="6.1" fill="#616161" stroke="#000" stroke-width="1"/>
<circle cx="305.89" cy="683.53" r="6.1" fill="#616161" stroke="#000" stroke-width="1"/>
<line x1="337.3" y1="679.6" x2="363.9" y2="679.6" stroke="#000" stroke-width="2.8"/>
<circle cx="347.57" cy="663.28" r="6.1" fill="#ffc180" stroke="#000" stroke-width="1"/>
<circle cx="342.61" cy="669.24" r="6.1" fill="#ffc180" stroke="#000" stroke-width="1"/>
<circle cx="357.9" cy="668.25" r="6.1" fill="#ffc180" stroke="#000" stroke-width="1"/>
<circle cx="352.14" cy="675.59" r="6.1" fill="#ffc180" stroke="#000" stroke-width="1"/>
<circle cx="347.57" cy="680.55" r="6.1" fill="#ffc180" stroke="#000" stroke-width="1"/>
<circle cx="347.57" cy="695.44" r="6.1" fill="#ffc180" stroke="#000" stroke-width="1"/>
<circle cx="358.49" cy="703.38" r="6.1" fill="#ffc180" stroke="#000" stroke-width="1"/>
<circle cx="352.54" cy="705.76" r="6.1" fill="#ffc180" stroke="#000" stroke-width="1"/>
<circle cx="342.61" cy="707.75" r="6.1" fill="#ffc180" stroke="#000" stroke-width="1"/>
<line x1="401.2" y1="650.8" x2="434.9" y2="650.8" stroke="#000" stroke-width="2.8"/>
<circle cx="410.69" cy="630.93" r="6.1" fill="#616161" stroke="#000" stroke-width="1"/>
<circle cx="425.38" cy="635.89" r="6.1" fill="#616161" stroke="#000" stroke-width="1"/>
<circle cx="419.03" cy="639.86" r="6.1" fill="#616161" stroke="#000" stroke-width="1"/>
<circle cx="415.06" cy="646.81" r="6.1" fill="#616161" stroke="#000" stroke-width="1"/>
<circle cx="425.98" cy="648.79" r="6.1" fill="#616161" stroke="#000" stroke-width="1"/>
<circle cx="410.5" cy="651.77" r="6.1" fill="#616161" stroke="#000" stroke-width="1"/>
<circle cx="420.42" cy="656.34" r="6.1" fill="#616161" stroke="#000" stroke-width="1"/>
<circle cx="415.06" cy="661.7" r="6.1" fill="#616161" stroke="#000" stroke-width="1"/>
<circle cx="425.58" cy="664.28" r="6.1" fill="#616161" stroke="#000" stroke-width="1"/>
<circle cx="417.64" cy="675.99" r="6.1" fill="#616161" stroke="#000" stroke-width="1"/>
<line x1="444.8" y1="682.5" x2="471.6" y2="682.5" stroke="#000" stroke-width="2.8"/>
<circle cx="450.79" cy="644.23" r="6.1" fill="#ffc180" stroke="#000" stroke-width="1"/>
<circle cx="458.13" cy="654.35" r="6.1" fill="#ffc180" stroke="#000" stroke-width="1"/>
<circle cx="458.13" cy="668.25" r="6.1" fill="#ffc180" stroke="#000" stroke-width="1"/>
<circle cx="450.19" cy="675.59" r="6.1" fill="#ffc180" stroke="#000" stroke-width="1"/>
<circle cx="457.74" cy="682.14" r="6.1" fill="#ffc180" stroke="#000" stroke-width="1"/>
<circle cx="450.79" cy="689.09" r="6.1" fill="#ffc180" stroke="#000" stroke-width="1"/>
<circle cx="465.68" cy="694.05" r="6.1" fill="#ffc180" stroke="#000" stroke-width="1"/>
<circle cx="457.74" cy="700.4" r="6.1" fill="#ffc180" stroke="#000" stroke-width="1"/>
<circle cx="458.13" cy="712.71" r="6.1" fill="#ffc180" stroke="#000" stroke-width="1"/>
<text x="190.8" y="622" font-size="18.87"><tspan font-style="italic">P</tspan> = 0.0330</text>
<text x="295" y="549.2" font-size="18.87"><tspan font-style="italic">P</tspan> = 0.0003</text>
<text x="398.2" y="570.4" font-size="18.87"><tspan font-style="italic">P</tspan> = 0.0029</text>
<line x1="204.1" y1="638.7" x2="247.3" y2="638.7" stroke="#000" stroke-width="2"/>
<line x1="312.8" y1="566.2" x2="356.1" y2="566.2" stroke="#000" stroke-width="2"/>
<line x1="418" y1="584.3" x2="461.7" y2="584.3" stroke="#000" stroke-width="2"/>
<text x="92.7" y="690.6" font-size="26.7" text-anchor="middle" transform="rotate(-90 92.7 690.6)">Grip strength (kg)</text>
<circle cx="204.7" cy="515.8" r="7.9" fill="#616161" stroke="#000" stroke-width="1"/>
<circle cx="204.7" cy="546.2" r="7.9" fill="#ffc180" stroke="#000" stroke-width="1"/>
<text x="234" y="524.1" font-size="26.7">WT</text>
<text x="234.4" y="555.1" font-size="26.7">KO</text>
<text x="544.3" y="420.4" font-size="53" font-weight="bold">c</text>
<clipPath id="cpwt"><rect x="656.6" y="415.3" width="330.4" height="245.8"/></clipPath>
<rect x="655.6" y="414.3" width="332.4" height="247.8" fill="#e96fcb"/>
<g clip-path="url(#cpwt)">
<path d="M809.6 410.2L794.0 401.8L792.1 403.6L787.7 413.0L793.0 426.7L809.4 416.8ZM876.4 424.3L881.8 419.3L871.3 400.5L861.1 405.8L861.4 421.5ZM746.2 443.1L753.3 425.4L769.0 434.1L769.2 434.7L760.0 444.6ZM787.7 413.0L793.0 426.7L792.4 434.6L774.1 437.7L769.2 434.7L769.0 434.1L774.4 419.1ZM830.0 438.8L825.3 439.5L817.1 434.7L835.5 410.0L838.4 414.1ZM634.2 456.6L644.2 455.3L650.0 437.8L631.4 436.7L627.1 451.4ZM665.6 453.9L647.2 457.7L644.2 455.3L650.0 437.8L654.3 432.4L668.4 448.8ZM781.5 461.1L801.4 458.1L803.2 442.2L792.4 434.6L774.1 437.7L779.7 460.2ZM954.6 444.5L970.9 431.0L982.0 442.2L982.6 451.4L981.2 454.0L957.9 456.6ZM705.8 462.2L715.8 467.0L715.7 480.7L696.5 480.1L691.9 473.2ZM783.4 482.2L781.5 461.1L779.7 460.2L765.1 465.0L759.7 473.9L764.8 484.6L781.8 486.6ZM783.4 482.2L781.5 461.1L801.4 458.1L802.9 459.9L799.6 474.9ZM846.2 467.3L836.5 477.0L830.3 476.9L821.7 471.7L816.6 464.9L825.9 452.4L846.6 460.6L848.0 463.0ZM910.7 457.1L892.5 451.8L889.7 455.2L895.5 475.8L916.6 474.1L919.6 470.1ZM630.2 505.1L623.4 501.4L623.6 482.6L626.4 481.4L646.4 485.0L648.2 495.8ZM696.5 480.1L691.1 496.7L703.3 504.2L716.0 481.1L715.7 480.7ZM999.0 481.9L999.9 485.2L996.9 502.8L981.2 500.0L981.3 488.5ZM892.3 489.2L900.8 494.1L896.2 515.2L885.4 510.6L879.4 496.7ZM730.9 543.6L724.7 531.4L726.6 523.6L741.7 524.5L753.7 538.0L750.3 546.1ZM764.4 517.4L761.3 533.8L753.7 538.0L741.7 524.5L748.2 502.0L753.5 501.7ZM816.9 513.8L817.7 529.5L797.2 531.5L791.9 526.7L803.0 512.2L815.7 511.6ZM877.0 532.8L869.2 522.2L857.1 516.9L856.1 517.8L852.5 539.9L855.7 548.3L856.1 548.6L876.6 533.8ZM901.0 529.0L900.7 521.7L896.2 515.2L885.4 510.6L869.2 522.2L877.0 532.8ZM934.1 516.8L944.5 538.9L950.7 539.9L957.6 537.5L956.0 520.9L952.4 516.5L934.3 516.4ZM682.8 556.0L670.1 558.2L661.5 549.8L661.5 536.6L671.7 529.4L687.7 536.7ZM792.1 556.7L800.5 555.9L801.1 555.2L797.2 531.5L791.9 526.7L790.7 526.5L775.6 536.6L780.7 551.1ZM897.1 550.6L905.9 537.7L905.8 535.5L901.0 529.0L877.0 532.8L876.6 533.8L881.1 553.2L881.2 553.3ZM934.4 541.5L926.3 528.2L905.8 535.5L905.9 537.7L927.0 558.7ZM964.6 542.4L986.7 534.7L990.1 537.0L989.6 553.4L964.9 558.3ZM661.5 549.8L670.1 558.2L668.7 568.5L662.0 579.4L647.6 578.2L639.7 558.5ZM720.5 562.4L736.5 561.4L740.3 577.6L738.0 578.6L719.6 565.2ZM762.3 573.0L756.0 580.0L740.3 577.6L736.5 561.4L750.7 550.2L761.1 565.0ZM719.6 565.2L738.0 578.6L730.1 586.9L714.5 585.9L711.2 581.5L710.7 578.1ZM754.5 593.0L756.0 580.0L762.3 573.0L776.7 577.6L782.7 591.9L765.7 603.4ZM777.3 577.2L805.7 576.0L806.5 577.1L805.0 585.1L789.0 595.6L782.7 591.9L776.7 577.6ZM815.9 605.8L801.3 613.5L792.0 608.0L789.0 595.6L805.0 585.1L816.7 601.2ZM670.7 635.7L659.0 633.3L652.7 617.5L671.6 606.6L682.4 621.6ZM713.5 643.7L710.4 613.6L714.3 611.4L735.0 615.8L736.6 618.3L737.4 633.1L736.1 634.5ZM767.3 614.6L780.6 614.9L786.9 635.2L780.2 638.1L766.6 632.1L764.9 617.8ZM902.1 617.0L884.0 622.0L892.4 642.3L909.0 636.1ZM804.0 637.4L803.9 647.5L794.6 662.1L776.3 657.4L780.2 638.1L786.9 635.2L802.2 635.7ZM883.2 621.8L884.0 622.0L892.4 642.3L891.8 643.4L886.3 647.9L873.0 647.5L868.8 642.2L867.9 639.6ZM945.4 624.7L944.6 645.8L954.4 656.9L961.9 655.9L967.3 635.3L947.5 623.4L945.6 624.4ZM654.0 646.8L658.9 661.0L653.9 669.5L646.3 669.9L634.0 664.6L632.5 657.6ZM681.7 667.6L696.1 678.3L700.7 677.2L701.6 661.2L681.7 653.9ZM842.7 660.2L834.8 655.6L821.1 660.6L815.1 674.6L821.8 680.2L844.6 662.9L844.1 661.9ZM891.8 643.4L886.3 647.9L893.3 669.2L898.8 673.1L901.1 672.0L905.8 657.9ZM634.0 664.6L646.3 669.9L639.9 691.8L637.9 694.3L627.5 688.7L628.4 669.2ZM681.7 667.6L667.5 685.4L667.8 687.0L669.9 691.4L682.6 694.1L696.1 678.3ZM844.6 662.9L851.3 671.1L846.7 686.6L839.3 689.2L824.5 685.3L821.8 680.2Z" fill="#fff" fill-opacity="0.05"/>
<path d="M809.6 410.2L794.0 401.8L793.8 382.5L798.5 378.2L812.7 380.1L826.4 403.0ZM764.2 404.0L755.8 403.8L747.3 407.4L745.7 417.8L753.3 425.4L769.0 434.1L774.4 419.1ZM817.1 434.7L835.5 410.0L834.3 404.7L826.4 403.0L809.6 410.2L809.4 416.8L815.8 434.6ZM901.4 414.1L903.8 420.7L918.4 428.3L929.6 418.6L912.2 407.1L907.7 407.6L902.7 410.3ZM945.6 418.4L929.6 418.6L912.2 407.1L935.2 397.7L945.1 406.4L947.5 416.1ZM947.5 416.1L945.1 406.4L960.9 390.4L973.7 399.3L973.7 414.4L967.4 421.4ZM815.8 434.6L803.2 442.2L792.4 434.6L793.0 426.7L809.4 416.8ZM850.6 432.3L843.1 440.2L846.6 460.6L848.0 463.0L864.9 458.2L864.5 443.8ZM935.0 440.2L938.5 437.5L954.6 444.5L957.9 456.6L952.3 463.5L936.8 459.0ZM687.9 445.0L683.1 469.1L691.9 473.2L705.8 462.2L699.7 449.9ZM759.7 473.9L742.8 472.8L737.7 460.6L740.9 456.7L757.8 454.3L765.1 465.0ZM952.3 463.5L957.4 482.2L957.7 482.5L969.4 480.9L981.3 458.1L981.2 454.0L957.9 456.6ZM999.0 481.9L981.3 488.5L969.4 480.9L981.3 458.1L999.3 481.2ZM674.5 492.0L669.2 477.5L655.7 477.2L646.4 485.0L648.2 495.8L654.6 506.4L661.0 506.0ZM764.8 484.6L756.3 499.4L753.5 501.7L748.2 502.0L740.5 497.8L734.7 487.0L742.8 472.8L759.7 473.9ZM781.8 486.6L764.8 484.6L756.3 499.4L781.9 503.8L787.0 495.7ZM783.4 482.2L799.6 474.9L805.3 486.2L804.8 490.6L794.1 496.4L787.0 495.7L781.8 486.6ZM819.2 501.0L817.7 496.9L830.3 476.9L836.5 477.0L843.6 493.4L832.9 502.0ZM938.3 484.1L930.4 500.3L956.9 498.2L957.7 482.5L957.4 482.2ZM630.2 505.1L648.2 495.8L654.6 506.4L647.4 517.3L637.9 516.1ZM674.5 492.0L661.0 506.0L674.4 519.5L679.6 516.3L684.8 497.4ZM748.2 502.0L741.7 524.5L726.6 523.6L719.7 514.8L740.5 497.8ZM781.9 503.8L756.3 499.4L753.5 501.7L764.4 517.4L780.7 511.8ZM934.3 516.4L926.9 504.3L930.4 500.3L956.9 498.2L957.7 501.7L952.4 516.5ZM952.4 516.5L957.7 501.7L978.3 506.0L980.6 517.8L956.0 520.9ZM637.9 516.1L623.3 528.3L631.1 540.0L651.7 529.6L647.4 517.3ZM707.2 542.2L724.7 531.4L726.6 523.6L719.7 514.8L713.8 513.0L707.8 512.7L701.1 521.5L699.5 532.4ZM816.9 513.8L817.7 529.5L819.5 531.2L830.3 533.1L839.8 519.7L836.1 516.1ZM832.0 536.0L830.3 533.1L839.8 519.7L856.1 517.8L852.5 539.9ZM934.1 516.8L926.3 528.2L905.8 535.5L901.0 529.0L900.7 521.7L922.6 503.2L926.9 504.3L934.3 516.4ZM934.1 516.8L926.3 528.2L934.4 541.5L944.5 538.9ZM692.0 560.2L682.8 556.0L687.7 536.7L699.5 532.4L707.2 542.2L708.1 546.7ZM720.5 562.4L736.5 561.4L750.7 550.2L750.3 546.1L730.9 543.6L718.1 554.5ZM780.7 551.1L775.6 536.6L761.3 533.8L753.7 538.0L750.3 546.1L750.7 550.2L761.1 565.0ZM832.0 553.9L829.4 557.6L812.5 552.1L819.5 531.2L830.3 533.1L832.0 536.0ZM832.0 553.9L855.7 548.3L852.5 539.9L832.0 536.0ZM955.6 568.0L942.5 559.9L950.7 539.9L957.6 537.5L964.6 542.4L964.9 558.3L964.3 560.4ZM990.1 537.0L1001.1 535.9L1022.1 555.0L995.3 569.1L989.6 553.4ZM692.0 560.2L708.1 546.7L718.1 554.5L720.5 562.4L719.6 565.2L710.7 578.1L695.6 569.0ZM853.0 574.2L848.3 575.6L831.6 567.7L829.4 557.6L832.0 553.9L855.7 548.3L856.1 548.6L858.0 552.5L857.1 570.4ZM857.1 570.4L858.0 552.5L881.1 553.2L881.2 553.3L879.4 570.9L877.1 572.8ZM955.4 571.9L972.2 589.8L988.2 574.7L964.3 560.4L955.6 568.0ZM695.6 569.0L685.3 578.6L683.8 593.6L687.9 594.7L711.2 581.5L710.7 578.1ZM816.7 601.2L805.0 585.1L806.5 577.1L823.3 575.2L827.7 593.1ZM853.1 605.0L867.4 598.3L853.0 574.2L848.3 575.6L841.0 594.2ZM939.6 593.5L931.1 598.9L906.0 595.2L905.5 594.0L909.2 578.2L920.4 572.3L925.5 575.9ZM943.3 593.9L945.6 596.3L971.5 595.1L972.2 589.8L955.4 571.9L951.3 576.3ZM767.3 614.6L780.6 614.9L792.0 608.0L789.0 595.6L782.7 591.9L765.7 603.4ZM829.8 618.4L840.4 594.4L827.7 593.1L816.7 601.2L815.9 605.8L829.5 618.8ZM883.2 621.8L884.0 622.0L902.1 617.0L906.9 609.2L906.0 595.2L905.5 594.0L879.5 594.9L874.6 599.2L877.6 614.9ZM919.1 614.4L929.8 613.4L945.6 624.4L945.4 624.7L923.5 634.0ZM712.9 644.6L695.8 639.6L680.8 652.1L680.7 652.3L681.7 653.9L701.6 661.2L713.4 653.5ZM986.0 638.1L990.9 637.6L1004.7 641.2L1002.3 660.8L980.8 654.8ZM733.7 659.8L740.2 664.0L735.8 683.0L718.4 674.5L720.4 660.0ZM773.6 658.8L769.3 666.3L782.5 676.9L796.2 667.6L794.6 662.1L776.3 657.4ZM868.8 642.2L873.0 647.5L869.4 666.2L864.9 670.0L851.3 671.1L844.6 662.9L844.1 661.9ZM926.4 651.8L917.8 644.1L905.8 657.9L901.1 672.0L919.9 674.1L928.7 665.4ZM954.4 656.9L945.3 669.5L947.1 676.1L966.4 683.9L973.3 664.9L972.4 661.9L961.9 655.9ZM980.8 654.8L1002.3 660.8L1002.9 662.4L992.3 675.3L973.3 664.9L972.4 661.9ZM796.2 667.6L803.2 676.3L799.9 686.0L787.5 694.1L780.5 691.9L782.5 676.9ZM992.8 685.8L975.9 688.0L967.0 685.5L966.4 683.9L973.3 664.9L992.3 675.3ZM1017.2 682.4L996.9 690.7L992.8 685.8L992.3 675.3L1002.9 662.4L1022.2 671.2Z" fill="#b0208a" fill-opacity="0.045"/>
<path d="M656.9 424.8L655.3 427.0M656.9 424.8L654.0 413.9M656.9 424.8L668.0 424.0M681.8 403.3L668.0 424.0M698.7 424.8L693.4 414.5M698.7 424.8L716.5 424.6M716.5 424.6L717.5 400.8M687.9 439.7L671.8 426.3M687.9 439.7L698.7 424.8M671.8 426.3L693.4 414.5M668.0 424.0L671.8 426.3M658.9 661.0L653.9 669.5M658.9 661.0L654.0 646.8M659.0 633.3L652.7 617.5M659.0 633.3L654.2 639.0M659.0 633.3L670.7 635.7M652.7 617.5L671.6 606.6M671.6 606.6L682.4 621.6M682.4 621.6L670.7 635.7M658.9 661.0L680.7 652.3M680.7 652.3L680.8 652.1M670.7 635.7L680.8 652.1M671.6 606.6L673.9 596.9M673.9 596.9L667.2 590.8M667.2 590.8L643.8 601.3M667.2 590.8L662.0 579.4M662.0 579.4L647.6 578.2M683.8 593.6L673.9 596.9M683.8 593.6L685.3 578.6M662.0 579.4L668.7 568.5M685.3 578.6L668.7 568.5M723.1 430.2L729.2 429.3M723.1 430.2L716.5 424.6M747.3 407.4L745.7 417.8M745.7 417.8L729.2 429.3M801.1 555.2L797.2 531.5M801.1 555.2L812.5 552.1M797.2 531.5L817.7 529.5M817.7 529.5L819.5 531.2M812.5 552.1L819.5 531.2M983.1 520.4L1001.1 509.5M983.1 520.4L986.7 534.7M986.7 534.7L990.1 537.0M701.6 661.2L681.7 653.9M681.7 653.9L681.7 667.6M680.7 652.3L681.7 653.9M726.6 523.6L719.7 514.8M726.6 523.6L741.7 524.5M719.7 514.8L740.5 497.8M741.7 524.5L748.2 502.0M740.5 497.8L748.2 502.0M639.7 558.5L661.5 549.8M661.5 549.8L661.5 536.6M651.7 529.6L661.5 536.6M668.7 568.5L670.1 558.2M670.1 558.2L661.5 549.8M995.5 432.4L982.0 442.2M982.0 442.2L982.6 451.4M1003.3 455.2L982.6 451.4M774.4 419.1L764.2 404.0M774.4 419.1L787.7 413.0M769.0 434.1L753.3 425.4M769.0 434.1L774.4 419.1M745.7 417.8L753.3 425.4M793.0 426.7L787.7 413.0M793.0 426.7L792.4 434.6M792.4 434.6L774.1 437.7M769.0 434.1L769.2 434.7M769.2 434.7L774.1 437.7M760.0 444.6L757.8 454.3M760.0 444.6L746.2 443.1M757.8 454.3L740.9 456.7M740.9 456.7L742.6 444.7M746.2 443.1L742.6 444.7M769.2 434.7L760.0 444.6M753.3 425.4L746.2 443.1M723.1 430.2L719.8 442.3M725.6 457.9L719.8 442.3M725.6 457.9L737.7 460.6M729.2 429.3L742.6 444.7M737.7 460.6L740.9 456.7M734.7 487.0L740.5 497.8M734.7 487.0L725.5 485.7M719.7 514.8L713.8 513.0M713.8 513.0L725.5 485.7M687.9 439.7L687.9 444.9M654.3 432.4L668.4 448.8M687.9 444.9L668.4 448.8M647.2 457.7L665.6 453.9M668.4 448.8L665.6 453.9M707.8 512.7L713.8 513.0M707.8 512.7L703.3 504.2M725.5 485.7L716.0 481.1M716.0 481.1L703.3 504.2M682.4 621.6L692.8 622.1M680.8 652.1L695.8 639.6M692.8 622.1L695.8 639.6M683.8 593.6L687.9 594.7M687.9 594.7L703.0 614.1M692.8 622.1L703.0 614.1M687.9 594.7L711.2 581.5M711.2 581.5L714.5 585.9M714.3 611.4L714.5 585.9M714.3 611.4L710.4 613.6M703.0 614.1L710.4 613.6M832.9 502.0L819.2 501.0M832.9 502.0L836.1 516.1M836.1 516.1L816.9 513.8M819.2 501.0L815.7 511.6M815.7 511.6L816.9 513.8M817.7 496.9L830.3 476.9M817.7 496.9L819.2 501.0M830.3 476.9L836.5 477.0M836.5 477.0L843.6 493.4M843.6 493.4L832.9 502.0M857.1 516.9L858.1 501.4M857.1 516.9L856.1 517.8M856.1 517.8L839.8 519.7M839.8 519.7L836.1 516.1M843.6 493.4L858.1 501.4M839.8 519.7L830.3 533.1M817.7 529.5L816.9 513.8M819.5 531.2L830.3 533.1M803.0 512.2L791.9 526.7M803.0 512.2L815.7 511.6M797.2 531.5L791.9 526.7M753.5 501.7L764.4 517.4M753.5 501.7L756.3 499.4M756.3 499.4L781.9 503.8M764.4 517.4L780.7 511.8M780.7 511.8L781.9 503.8M753.7 538.0L761.3 533.8M753.7 538.0L741.7 524.5M761.3 533.8L764.4 517.4M748.2 502.0L753.5 501.7M790.7 526.5L780.7 511.8M790.7 526.5L775.6 536.6M775.6 536.6L761.3 533.8M900.7 521.7L922.6 503.2M900.7 521.7L896.2 515.2M896.2 515.2L900.8 494.1M922.6 503.2L912.8 492.6M900.8 494.1L912.8 492.6M918.4 428.3L929.6 418.6M918.4 428.3L903.8 420.7M903.8 420.7L901.4 414.1M912.2 407.1L929.6 418.6M852.5 539.9L832.0 536.0M852.5 539.9L855.7 548.3M855.7 548.3L832.0 553.9M832.0 536.0L832.0 553.9M856.1 517.8L852.5 539.9M830.3 533.1L832.0 536.0M812.5 552.1L829.4 557.6M829.4 557.6L832.0 553.9M989.6 553.4L964.9 558.3M986.7 534.7L964.6 542.4M964.9 558.3L964.6 542.4M1002.3 660.8L980.8 654.8M972.4 661.9L980.8 654.8M990.9 637.6L986.0 638.1M980.8 654.8L986.0 638.1M671.5 474.7L665.6 453.9M671.5 474.7L669.2 477.5M669.2 477.5L655.7 477.2M670.1 558.2L682.8 556.0M671.7 529.4L687.7 536.7M671.7 529.4L661.5 536.6M687.7 536.7L682.8 556.0M726.6 523.6L724.7 531.4M701.1 521.5L699.5 532.4M701.1 521.5L707.8 512.7M724.7 531.4L707.2 542.2M699.5 532.4L707.2 542.2M973.7 414.4L967.4 421.4M945.1 406.4L947.5 416.1M967.4 421.4L947.5 416.1M982.0 442.2L970.9 431.0M967.4 421.4L970.9 431.0M929.6 418.6L945.6 418.4M947.5 416.1L945.6 418.4M983.1 520.4L980.6 517.8M980.6 517.8L978.3 506.0M978.3 506.0L981.2 500.0M996.9 502.8L981.2 500.0M835.5 410.0L817.1 434.7M809.4 416.8L809.6 410.2M809.4 416.8L815.8 434.6M815.8 434.6L817.1 434.7M793.0 426.7L809.4 416.8M792.4 434.6L803.2 442.2M803.2 442.2L815.8 434.6M803.2 442.2L801.4 458.1M816.6 464.9L825.9 452.4M816.6 464.9L802.9 459.9M801.4 458.1L802.9 459.9M825.3 439.5L825.9 452.4M825.3 439.5L817.1 434.7M774.1 437.7L779.7 460.2M757.8 454.3L765.1 465.0M779.7 460.2L765.1 465.0M801.4 458.1L781.5 461.1M779.7 460.2L781.5 461.1M737.7 460.6L742.8 472.8M742.8 472.8L759.7 473.9M765.1 465.0L759.7 473.9M734.7 487.0L742.8 472.8M756.3 499.4L764.8 484.6M759.7 473.9L764.8 484.6M799.6 474.9L783.4 482.2M799.6 474.9L805.3 486.2M804.8 490.6L805.3 486.2M804.8 490.6L794.1 496.4M794.1 496.4L787.0 495.7M787.0 495.7L781.8 486.6M781.8 486.6L783.4 482.2M802.9 459.9L799.6 474.9M781.5 461.1L783.4 482.2M821.7 471.7L816.6 464.9M821.7 471.7L805.3 486.2M817.7 496.9L804.8 490.6M830.3 476.9L821.7 471.7M803.0 512.2L794.1 496.4M790.7 526.5L791.9 526.7M781.9 503.8L787.0 495.7M764.8 484.6L781.8 486.6M725.6 457.9L715.8 467.0M716.0 481.1L715.7 480.7M715.8 467.0L715.7 480.7M691.1 496.7L696.5 480.1M691.1 496.7L703.3 504.2M715.7 480.7L696.5 480.1M825.9 452.4L846.6 460.6M846.6 460.6L848.0 463.0M836.5 477.0L846.2 467.3M848.0 463.0L846.2 467.3M753.7 538.0L750.3 546.1M724.7 531.4L730.9 543.6M750.3 546.1L730.9 543.6M825.3 439.5L830.0 438.8M838.4 414.1L830.0 438.8M846.6 460.6L843.1 440.2M843.1 440.2L830.0 438.8M861.4 421.5L851.5 426.9M861.4 421.5L876.4 424.3M864.5 443.8L877.0 434.1M864.5 443.8L850.6 432.3M850.6 432.3L851.5 426.9M876.4 424.3L877.0 434.1M861.1 405.8L861.4 421.5M838.4 414.1L851.5 426.9M881.8 419.3L871.3 400.5M881.8 419.3L876.4 424.3M889.7 455.2L892.5 451.8M889.7 455.2L873.9 462.1M892.3 450.3L892.5 451.8M892.3 450.3L877.0 434.1M864.9 458.2L873.9 462.1M864.9 458.2L864.5 443.8M848.0 463.0L864.9 458.2M843.1 440.2L850.6 432.3M903.8 420.7L901.5 432.6M901.5 432.6L892.3 450.3M881.8 419.3L901.4 414.1M869.4 666.2L873.0 647.5M893.3 669.2L886.3 647.9M873.0 647.5L886.3 647.9M901.1 672.0L905.8 657.9M886.3 647.9L891.8 643.4M905.8 657.9L891.8 643.4M905.8 657.9L917.8 644.1M917.8 644.1L926.4 651.8M928.7 665.4L926.4 651.8M856.1 548.6L858.0 552.5M856.1 548.6L876.6 533.8M858.0 552.5L881.1 553.2M881.1 553.2L876.6 533.8M857.1 516.9L869.2 522.2M869.2 522.2L877.0 532.8M856.1 548.6L855.7 548.3M876.6 533.8L877.0 532.8M869.2 522.2L885.4 510.6M900.7 521.7L901.0 529.0M896.2 515.2L885.4 510.6M877.0 532.8L901.0 529.0M926.3 528.2L905.8 535.5M926.3 528.2L934.4 541.5M905.8 535.5L905.9 537.7M905.9 537.7L927.0 558.7M927.0 558.7L934.4 541.5M957.6 537.5L950.7 539.9M957.6 537.5L956.0 520.9M956.0 520.9L952.4 516.5M944.5 538.9L950.7 539.9M944.5 538.9L934.1 516.8M952.4 516.5L934.3 516.4M934.3 516.4L934.1 516.8M980.6 517.8L956.0 520.9M964.6 542.4L957.6 537.5M957.7 501.7L978.3 506.0M957.7 501.7L952.4 516.5M926.3 528.2L934.1 516.8M934.4 541.5L944.5 538.9M956.9 498.2L957.7 501.7M956.9 498.2L930.4 500.3M930.4 500.3L926.9 504.3M926.9 504.3L934.3 516.4M922.6 503.2L926.9 504.3M901.0 529.0L905.8 535.5M991.0 610.2L978.8 609.6M986.0 638.1L977.1 632.5M977.1 632.5L978.8 609.6M661.0 506.0L674.5 492.0M661.0 506.0L674.4 519.5M679.6 516.3L674.4 519.5M679.6 516.3L684.8 497.4M684.8 497.4L674.5 492.0M669.2 477.5L674.5 492.0M654.6 506.4L661.0 506.0M671.7 529.4L674.4 519.5M701.1 521.5L679.6 516.3M687.7 536.7L699.5 532.4M691.1 496.7L684.8 497.4M956.9 498.2L957.7 482.5M957.7 482.5L957.4 482.2M930.4 500.3L938.3 484.1M957.4 482.2L938.3 484.1M981.3 458.1L999.3 481.2M981.3 458.1L969.4 480.9M969.4 480.9L981.3 488.5M981.3 488.5L999.0 481.9M982.6 451.4L981.2 454.0M981.2 454.0L981.3 458.1M957.7 482.5L969.4 480.9M981.2 500.0L981.3 488.5M683.1 469.1L687.9 445.0M683.1 469.1L691.9 473.2M691.9 473.2L705.8 462.2M705.8 462.2L699.7 449.9M699.7 449.9L687.9 445.0M687.9 444.9L687.9 445.0M671.5 474.7L683.1 469.1M696.5 480.1L691.9 473.2M715.8 467.0L705.8 462.2M719.8 442.3L699.7 449.9M867.0 493.9L867.0 487.3M867.0 493.9L879.4 496.7M867.0 487.3L874.4 473.5M874.4 473.5L891.9 482.5M879.4 496.7L892.3 489.2M891.9 482.5L892.3 489.2M858.1 501.4L867.0 493.9M846.2 467.3L867.0 487.3M885.4 510.6L879.4 496.7M873.9 462.1L874.4 473.5M889.7 455.2L895.5 475.8M895.5 475.8L891.9 482.5M900.8 494.1L892.3 489.2M895.5 475.8L916.6 474.1M912.8 492.6L916.6 474.1M766.6 632.1L780.2 638.1M766.6 632.1L754.3 642.9M754.3 642.9L754.4 643.4M754.4 643.4L773.6 658.8M780.2 638.1L776.3 657.4M776.3 657.4L773.6 658.8M769.3 666.3L773.6 658.8M746.9 662.2L754.4 643.4M794.6 662.1L776.3 657.4M761.1 565.0L762.3 573.0M761.1 565.0L780.7 551.1M762.3 573.0L776.7 577.6M780.7 551.1L792.1 556.7M792.1 556.7L777.3 577.2M776.7 577.6L777.3 577.2M740.3 577.6L736.5 561.4M740.3 577.6L756.0 580.0M756.0 580.0L762.3 573.0M750.7 550.2L736.5 561.4M750.7 550.2L761.1 565.0M775.6 536.6L780.7 551.1M750.3 546.1L750.7 550.2M801.1 555.2L800.5 555.9M800.5 555.9L792.1 556.7M800.5 555.9L805.7 576.0M805.7 576.0L777.3 577.2M789.0 595.6L782.7 591.9M789.0 595.6L805.0 585.1M782.7 591.9L776.7 577.6M806.5 577.1L805.0 585.1M806.5 577.1L805.7 576.0M765.7 603.4L754.5 593.0M765.7 603.4L767.3 614.6M764.9 617.8L767.3 614.6M764.9 617.8L736.6 618.3M754.5 593.0L740.4 602.6M740.4 602.6L735.0 615.8M735.0 615.8L736.6 618.3M756.0 580.0L754.5 593.0M782.7 591.9L765.7 603.4M792.0 608.0L789.0 595.6M792.0 608.0L780.6 614.9M780.6 614.9L767.3 614.6M786.9 635.2L780.2 638.1M786.9 635.2L780.6 614.9M766.6 632.1L764.9 617.8M737.4 633.1L754.3 642.9M737.4 633.1L736.6 618.3M738.0 578.6L730.1 586.9M738.0 578.6L740.3 577.6M730.1 586.9L740.4 602.6M714.3 611.4L735.0 615.8M730.1 586.9L714.5 585.9M708.1 546.7L692.0 560.2M708.1 546.7L718.1 554.5M718.1 554.5L720.5 562.4M710.7 578.1L719.6 565.2M710.7 578.1L695.6 569.0M719.6 565.2L720.5 562.4M695.6 569.0L692.0 560.2M707.2 542.2L708.1 546.7M682.8 556.0L692.0 560.2M730.9 543.6L718.1 554.5M736.5 561.4L720.5 562.4M738.0 578.6L719.6 565.2M711.2 581.5L710.7 578.1M685.3 578.6L695.6 569.0M815.1 674.6L821.1 660.6M794.6 662.1L803.9 647.5M821.1 660.6L803.9 647.5M821.1 660.6L834.8 655.6M834.8 655.6L842.7 660.2M844.1 661.9L842.7 660.2M873.0 647.5L868.8 642.2M844.1 661.9L868.8 642.2M829.4 557.6L831.6 567.7M806.5 577.1L823.3 575.2M831.6 567.7L823.3 575.2M879.4 570.9L903.0 573.0M879.4 570.9L881.2 553.3M903.0 573.0L897.1 550.6M881.2 553.3L897.1 550.6M881.1 553.2L881.2 553.3M905.9 537.7L897.1 550.6M858.0 552.5L857.1 570.4M879.4 570.9L877.1 572.8M877.1 572.8L857.1 570.4M848.3 575.6L831.6 567.7M848.3 575.6L853.0 574.2M857.1 570.4L853.0 574.2M909.2 578.2L903.0 573.0M909.2 578.2L905.5 594.0M877.1 572.8L879.5 594.9M905.5 594.0L879.5 594.9M867.4 598.3L853.0 574.2M867.4 598.3L874.6 599.2M874.6 599.2L879.5 594.9M944.6 645.8L954.4 656.9M944.6 645.8L945.4 624.7M967.3 635.3L947.5 623.4M967.3 635.3L961.9 655.9M961.9 655.9L954.4 656.9M947.5 623.4L945.6 624.4M945.6 624.4L945.4 624.7M926.4 651.8L944.6 645.8M945.3 669.5L954.4 656.9M972.4 661.9L961.9 655.9M977.1 632.5L967.3 635.3M917.0 641.0L909.0 636.1M917.0 641.0L923.5 634.0M923.5 634.0L919.1 614.4M909.0 636.1L902.1 617.0M902.1 617.0L906.9 609.2M919.1 614.4L906.9 609.2M917.8 644.1L917.0 641.0M892.4 642.3L891.8 643.4M892.4 642.3L909.0 636.1M945.4 624.7L923.5 634.0M929.8 613.4L919.1 614.4M929.8 613.4L945.6 624.4M892.4 642.3L884.0 622.0M884.0 622.0L902.1 617.0M931.1 598.9L906.0 595.2M931.1 598.9L929.8 613.4M906.0 595.2L906.9 609.2M927.0 558.7L927.0 558.8M950.7 539.9L942.5 559.9M942.5 559.9L927.0 558.8M909.2 578.2L920.4 572.3M920.4 572.3L927.0 558.8M964.3 560.4L955.6 568.0M964.3 560.4L988.2 574.7M988.2 574.7L972.2 589.8M972.2 589.8L955.4 571.9M955.6 568.0L955.4 571.9M964.9 558.3L964.3 560.4M942.5 559.9L955.6 568.0M974.7 606.0L948.9 620.6M974.7 606.0L973.0 599.0M973.0 599.0L971.5 595.1M971.5 595.1L945.6 596.3M945.6 596.3L948.9 620.6M978.8 609.6L974.7 606.0M947.5 623.4L948.9 620.6M995.7 592.0L973.0 599.0M972.2 589.8L971.5 595.1M981.2 454.0L957.9 456.6M970.9 431.0L954.6 444.5M957.9 456.6L954.6 444.5M957.4 482.2L952.3 463.5M957.9 456.6L952.3 463.5M945.6 418.4L938.5 437.5M954.6 444.5L938.5 437.5M919.6 470.1L924.8 469.8M919.6 470.1L910.7 457.1M924.8 469.8L936.8 459.0M910.7 457.1L918.7 445.1M936.8 459.0L935.0 440.2M918.7 445.1L927.3 439.3M927.3 439.3L935.0 440.2M916.6 474.1L919.6 470.1M938.3 484.1L924.8 469.8M892.5 451.8L910.7 457.1M952.3 463.5L936.8 459.0M901.5 432.6L918.7 445.1M938.5 437.5L935.0 440.2M918.4 428.3L927.3 439.3M720.4 660.0L733.7 659.8M720.4 660.0L713.4 653.5M733.7 659.8L736.1 634.5M736.1 634.5L713.5 643.7M713.4 653.5L712.9 644.6M712.9 644.6L713.5 643.7M718.4 674.5L720.4 660.0M740.2 664.0L733.7 659.8M701.6 661.2L713.4 653.5M737.4 633.1L736.1 634.5M710.4 613.6L713.5 643.7M695.8 639.6L712.9 644.6M786.9 635.2L802.2 635.7M803.9 647.5L804.0 637.4M802.2 635.7L804.0 637.4M792.0 608.0L801.3 613.5M802.2 635.7L801.3 613.5M834.8 655.6L828.5 632.7M804.0 637.4L828.5 632.7M842.7 660.2L855.5 632.4M868.8 642.2L867.9 639.6M867.9 639.6L855.5 632.4M884.0 622.0L883.2 621.8M867.9 639.6L883.2 621.8M906.0 595.2L905.5 594.0M874.6 599.2L877.6 614.9M877.6 614.9L883.2 621.8M925.5 575.9L951.3 576.3M925.5 575.9L939.6 593.5M951.3 576.3L943.3 593.9M939.6 593.5L943.3 593.9M920.4 572.3L925.5 575.9M955.4 571.9L951.3 576.3M931.1 598.9L939.6 593.5M945.6 596.3L943.3 593.9M848.3 575.6L841.0 594.2M867.4 598.3L853.1 605.0M841.0 594.2L853.1 605.0M823.3 575.2L827.7 593.1M841.0 594.2L840.4 594.4M827.7 593.1L840.4 594.4M805.0 585.1L816.7 601.2M827.7 593.1L816.7 601.2M801.3 613.5L815.9 605.8M816.7 601.2L815.9 605.8M855.7 622.0L853.1 629.3M855.7 622.0L852.9 606.4M852.9 606.4L829.8 618.4M853.1 629.3L831.1 629.1M831.1 629.1L829.5 618.8M829.5 618.8L829.8 618.4M877.6 614.9L855.7 622.0M855.5 632.4L853.1 629.3M853.1 605.0L852.9 606.4M840.4 594.4L829.8 618.4M828.5 632.7L831.1 629.1M815.9 605.8L829.5 618.8" fill="none" stroke="#f9bdf0" stroke-opacity="0.4" stroke-width="0.9" stroke-linecap="round"/>
<path d="M687.9 439.7h0M658.9 661.0h0M671.6 606.6h0M673.9 596.9h0M983.1 520.4h0M793.0 426.7h0M792.4 434.6h0M857.1 516.9h0M671.8 426.3h0M698.7 424.8h0M734.7 487.0h0M769.2 434.7h0M719.8 442.3h0M687.9 594.7h0M801.1 555.2h0M790.7 526.5h0M903.8 420.7h0M670.7 635.7h0M680.8 652.1h0M667.2 590.8h0M662.0 579.4h0M668.7 568.5h0M670.1 558.2h0M978.3 506.0h0M745.7 417.8h0M737.7 460.6h0M742.8 472.8h0M929.6 418.6h0M830.3 476.9h0M738.0 578.6h0M711.2 581.5h0M896.2 515.2h0M889.7 455.2h0M819.5 531.2h0M858.0 552.5h0M726.6 523.6h0M740.5 497.8h0M748.2 502.0h0M671.7 529.4h0M661.5 549.8h0M724.7 531.4h0M982.6 451.4h0M981.2 454.0h0M801.4 458.1h0M725.5 485.7h0M668.4 448.8h0M691.1 496.7h0M825.9 452.4h0M858.1 501.4h0M730.1 586.9h0M819.2 501.0h0M895.5 475.8h0M916.6 474.1h0M892.5 451.8h0M852.5 539.9h0M855.7 548.3h0M931.1 598.9h0M964.9 558.3h0M980.8 654.8h0M669.2 477.5h0M707.2 542.2h0M970.9 431.0h0M947.5 416.1h0M981.2 500.0h0M815.8 434.6h0M764.8 484.6h0M805.3 486.2h0M787.0 495.7h0M715.8 467.0h0M848.0 463.0h0M846.2 467.3h0M864.9 458.2h0M873.9 462.1h0M780.6 614.9h0M750.3 546.1h0M736.5 561.4h0M843.1 440.2h0M864.5 443.8h0M851.5 426.9h0M877.0 434.1h0M905.8 657.9h0M917.8 644.1h0M891.8 643.4h0M929.8 613.4h0M901.0 529.0h0M905.9 537.7h0M956.0 520.9h0M944.5 538.9h0M952.4 516.5h0M934.1 516.8h0M661.0 506.0h0M674.4 519.5h0M674.5 492.0h0M938.3 484.1h0M981.3 488.5h0M705.8 462.2h0M687.9 445.0h0M867.0 487.3h0M874.4 473.5h0M879.4 496.7h0M892.3 489.2h0M737.4 633.1h0M754.4 643.4h0M776.3 657.4h0M773.6 658.8h0M761.1 565.0h0M792.1 556.7h0M777.3 577.2h0M718.1 554.5h0M710.7 578.1h0M719.6 565.2h0M720.5 562.4h0M692.0 560.2h0M803.9 647.5h0M848.3 575.6h0M831.6 567.7h0M857.1 570.4h0M853.0 574.2h0M905.5 594.0h0M884.0 622.0h0M874.6 599.2h0M944.6 645.8h0M917.0 641.0h0M906.9 609.2h0M955.6 568.0h0M955.4 571.9h0M973.0 599.0h0M948.9 620.6h0M957.9 456.6h0M954.6 444.5h0M938.5 437.5h0M924.8 469.8h0M918.7 445.1h0M935.0 440.2h0M713.4 653.5h0M801.3 613.5h0M828.5 632.7h0M877.6 614.9h0M855.5 632.4h0M925.5 575.9h0M943.3 593.9h0M853.1 605.0h0M827.7 593.1h0M840.4 594.4h0M855.7 622.0h0M852.9 606.4h0M829.8 618.4h0" fill="none" stroke="#fff" stroke-opacity="0.9" stroke-width="1.9" stroke-linecap="round"/>
<path d="M687.9 439.7l-1.7 -1.4M687.9 439.7l2.8 -3.8M687.9 439.7l-0.0 2.3M658.9 661.0l-2.1 3.6M658.9 661.0l-1.2 -3.5M658.9 661.0l3.6 -1.4M671.6 606.6l-4.2 2.4M671.6 606.6l1.7 2.4M671.6 606.6l0.9 -3.5M673.9 596.9l-1.1 4.3M673.9 596.9l-2.8 -2.5M673.9 596.9l3.5 -1.2M983.1 520.4l2.1 -1.3M983.1 520.4l1.0 3.9M983.1 520.4l-1.2 -1.2M793.0 426.7l-1.4 -3.7M793.0 426.7l-0.3 3.5M793.0 426.7l2.5 -1.5M792.4 434.6l0.2 -2.1M792.4 434.6l-4.2 0.7M792.4 434.6l3.0 2.1M857.1 516.9l0.1 -2.4M857.1 516.9l-0.5 0.4M857.1 516.9l4.2 1.8M671.8 426.3l1.6 1.3M671.8 426.3l1.8 -1.0M671.8 426.3l-1.7 -1.0M698.7 424.8l-2.0 -4.0M698.7 424.8l3.7 -0.0M698.7 424.8l-1.4 2.0M734.7 487.0l1.4 2.6M734.7 487.0l-4.2 -0.6M734.7 487.0l1.4 -2.5M769.2 434.7l-0.1 -0.3M769.2 434.7l2.2 1.4M769.2 434.7l-2.1 2.2M719.8 442.3l0.7 -2.6M719.8 442.3l0.8 2.2M719.8 442.3l-2.4 0.9M687.9 594.7l-1.8 -0.5M687.9 594.7l2.4 3.0M687.9 594.7l3.9 -2.2M801.1 555.2l-0.4 -2.2M801.1 555.2l4.4 -1.2M801.1 555.2l-0.2 0.3M790.7 526.5l-1.2 -1.8M790.7 526.5l-1.9 1.2M790.7 526.5l0.5 0.1M903.8 420.7l2.5 1.3M903.8 420.7l-1.1 -2.9M903.8 420.7l-0.9 4.5M670.7 635.7l-2.3 -0.5M670.7 635.7l1.9 -2.3M670.7 635.7l1.3 2.2M680.8 652.1l-0.0 0.1M680.8 652.1l-1.1 -1.8M680.8 652.1l1.6 -1.3M667.2 590.8l1.6 1.4M667.2 590.8l-3.9 1.7M667.2 590.8l-1.1 -2.5M662.0 579.4l1.4 3.1M662.0 579.4l-2.5 -0.2M662.0 579.4l2.3 -3.8M668.7 568.5l-1.2 1.9M668.7 568.5l1.8 1.1M668.7 568.5l0.5 -3.6M670.1 558.2l-0.4 3.1M670.1 558.2l-2.4 -2.3M670.1 558.2l3.9 -0.7M978.3 506.0l0.9 4.6M978.3 506.0l1.3 -2.7M978.3 506.0l-3.3 -0.7M745.7 417.8l0.6 -3.7M745.7 417.8l-2.0 1.4M745.7 417.8l2.7 2.7M737.7 460.6l-4.0 -0.9M737.7 460.6l1.4 -1.7M737.7 460.6l1.0 2.3M742.8 472.8l-0.8 -1.9M742.8 472.8l3.0 0.2M742.8 472.8l-2.3 4.0M929.6 418.6l-3.1 2.7M929.6 418.6l-2.8 -1.9M929.6 418.6l3.3 -0.0M830.3 476.9l-1.8 2.9M830.3 476.9l2.8 0.0M830.3 476.9l-3.8 -2.3M738.0 578.6l-2.7 2.8M738.0 578.6l1.1 -0.4M738.0 578.6l-2.6 -1.9M711.2 581.5l-2.9 1.6M711.2 581.5l1.5 2.0M711.2 581.5l-0.2 -1.5M896.2 515.2l2.0 2.9M896.2 515.2l0.8 -3.5M896.2 515.2l-2.8 -1.2M889.7 455.2l1.2 -1.5M889.7 455.2l-2.3 1.0M889.7 455.2l0.8 2.7M819.5 531.2l-0.8 -0.8M819.5 531.2l-1.2 3.5M819.5 531.2l4.2 0.8M858.0 552.5l-0.9 -1.7M858.0 552.5l2.4 0.1M858.0 552.5l-0.2 3.2M726.6 523.6l-2.6 -3.3M726.6 523.6l2.4 0.1M726.6 523.6l-0.8 3.5M740.5 497.8l-2.0 1.6M740.5 497.8l3.4 1.9M740.5 497.8l-2.0 -3.8M748.2 502.0l-0.8 2.8M748.2 502.0l-2.4 -1.3M748.2 502.0l2.4 -0.1M671.7 529.4l3.2 1.5M671.7 529.4l-3.9 2.7M671.7 529.4l1.0 -3.7M661.5 549.8l-2.2 0.9M661.5 549.8l0.0 -4.9M661.5 549.8l2.5 2.4M724.7 531.4l0.8 -3.5M724.7 531.4l-4.2 2.6M724.7 531.4l2.0 4.1M982.6 451.4l-0.3 -4.2M982.6 451.4l2.1 0.4M982.6 451.4l-0.6 1.1M981.2 454.0l0.6 -1.1M981.2 454.0l0.0 1.9M981.2 454.0l-4.2 0.5M801.4 458.1l0.4 -3.1M801.4 458.1l0.7 0.8M801.4 458.1l-4.3 0.6M725.5 485.7l2.1 0.3M725.5 485.7l-1.6 3.7M725.5 485.7l-3.4 -1.6M668.4 448.8l-3.0 -3.5M668.4 448.8l4.7 -1.0M668.4 448.8l-1.3 2.3M691.1 496.7l1.0 -3.2M691.1 496.7l2.6 1.6M691.1 496.7l-2.8 0.3M825.9 452.4l-2.2 3.0M825.9 452.4l-0.2 -4.7M825.9 452.4l3.2 1.2M858.1 501.4l-0.2 3.4M858.1 501.4l-3.8 -2.1M858.1 501.4l2.4 -2.0M730.1 586.9l2.7 -2.8M730.1 586.9l1.4 2.0M730.1 586.9l-4.3 -0.3M819.2 501.0l4.7 0.4M819.2 501.0l-0.9 2.7M819.2 501.0l-0.7 -1.8M895.5 475.8l-0.6 -2.1M895.5 475.8l-1.6 3.0M895.5 475.8l2.5 -0.2M916.6 474.1l-3.1 0.3M916.6 474.1l-0.7 3.5M916.6 474.1l1.4 -1.8M892.5 451.8l-1.2 1.5M892.5 451.8l-0.1 -0.7M892.5 451.8l2.6 0.7M852.5 539.9l-2.0 -0.4M852.5 539.9l0.8 2.1M852.5 539.9l0.7 -4.4M855.7 548.3l-1.5 -3.8M855.7 548.3l-3.6 0.8M855.7 548.3l0.2 0.2M931.1 598.9l-3.0 -0.4M931.1 598.9l-0.3 3.5M931.1 598.9l3.6 -2.3M964.9 558.3l3.0 -0.6M964.9 558.3l-0.1 -3.4M964.9 558.3l-0.3 0.9M980.8 654.8l2.6 0.7M980.8 654.8l-2.1 1.7M980.8 654.8l1.0 -3.3M669.2 477.5l1.1 -1.2M669.2 477.5l-4.3 -0.1M669.2 477.5l1.1 3.0M707.2 542.2l3.0 -1.9M707.2 542.2l-2.7 -3.5M707.2 542.2l0.4 2.0M970.9 431.0l2.1 2.1M970.9 431.0l-0.7 -1.9M970.9 431.0l-2.1 1.8M947.5 416.1l-1.0 -3.9M947.5 416.1l4.4 1.2M947.5 416.1l-0.9 1.0M981.2 500.0l-1.3 2.7M981.2 500.0l3.7 0.7M981.2 500.0l0.0 -4.1M815.8 434.6l-1.1 -3.0M815.8 434.6l0.6 0.1M815.8 434.6l-4.0 2.4M764.8 484.6l-1.8 3.1M764.8 484.6l-0.9 -1.9M764.8 484.6l3.0 0.4M805.3 486.2l-2.2 -4.4M805.3 486.2l-0.2 2.0M805.3 486.2l2.2 -2.0M787.0 495.7l3.2 0.3M787.0 495.7l-1.7 -3.0M787.0 495.7l-2.3 3.7M715.8 467.0l2.7 -2.4M715.8 467.0l-0.0 3.9M715.8 467.0l-2.3 -1.1M848.0 463.0l-0.6 -1.1M848.0 463.0l-0.8 1.9M848.0 463.0l4.6 -1.3M846.2 467.3l-2.1 2.1M846.2 467.3l0.8 -1.9M846.2 467.3l2.2 2.1M864.9 458.2l2.2 0.9M864.9 458.2l-0.1 -3.6M864.9 458.2l-4.8 1.3M873.9 462.1l2.5 -1.1M873.9 462.1l-4.0 -1.7M873.9 462.1l0.2 4.7M780.6 614.9l2.8 -1.7M780.6 614.9l-4.8 -0.1M780.6 614.9l1.2 3.8M750.3 546.1l1.5 -3.5M750.3 546.1l-2.7 -0.4M750.3 546.1l0.2 1.8M736.5 561.4l1.1 4.8M736.5 561.4l3.8 -3.0M736.5 561.4l-2.8 0.2M843.1 440.2l0.6 3.8M843.1 440.2l-2.4 -0.2M843.1 440.2l2.1 -2.2M864.5 443.8l2.4 -1.9M864.5 443.8l-2.7 -2.2M864.5 443.8l0.1 2.7M851.5 426.9l4.1 -2.2M851.5 426.9l-0.4 2.4M851.5 426.9l-2.3 -2.3M877.0 434.1l-3.3 2.6M877.0 434.1l-0.2 -2.6M877.0 434.1l2.8 3.0M905.8 657.9l-1.2 3.6M905.8 657.9l-1.5 -1.6M905.8 657.9l1.7 -1.9M917.8 644.1l-2.5 2.8M917.8 644.1l2.3 2.1M917.8 644.1l-0.3 -1.4M891.8 643.4l-1.9 1.5M891.8 643.4l2.3 2.4M891.8 643.4l0.3 -0.5M929.8 613.4l-4.7 0.5M929.8 613.4l2.6 1.8M929.8 613.4l0.4 -4.2M901.0 529.0l-0.2 -3.3M901.0 529.0l-3.4 0.5M901.0 529.0l1.6 2.1M905.9 537.7l-0.0 -1.0M905.9 537.7l2.6 2.6M905.9 537.7l-2.1 3.1M956.0 520.9l0.4 4.3M956.0 520.9l-1.6 -2.0M956.0 520.9l2.9 -0.4M944.5 538.9l2.8 0.5M944.5 538.9l-1.8 -3.9M944.5 538.9l-3.1 0.8M952.4 516.5l1.6 2.0M952.4 516.5l-2.3 -0.0M952.4 516.5l1.0 -2.9M934.1 516.8l1.5 3.3M934.1 516.8l0.1 -0.2M934.1 516.8l-2.3 3.3M661.0 506.0l2.1 -2.2M661.0 506.0l1.9 1.9M661.0 506.0l-2.9 0.2M674.4 519.5l-3.3 -3.3M674.4 519.5l2.3 -1.4M674.4 519.5l-1.1 3.9M674.5 492.0l-2.2 2.2M674.5 492.0l2.4 1.3M674.5 492.0l-1.5 -4.1M938.3 484.1l-1.8 3.7M938.3 484.1l3.4 -0.3M938.3 484.1l-2.3 -2.4M981.3 488.5l-3.7 -2.4M981.3 488.5l4.5 -1.7M981.3 488.5l-0.0 3.7M705.8 462.2l-2.8 2.2M705.8 462.2l-1.4 -2.8M705.8 462.2l2.3 1.1M687.9 445.0l-0.7 3.5M687.9 445.0l3.5 1.5M687.9 445.0l-0.0 -0.1M867.0 487.3l-0.0 2.7M867.0 487.3l1.5 -2.9M867.0 487.3l-3.6 -3.5M874.4 473.5l-1.7 3.2M874.4 473.5l2.5 1.3M874.4 473.5l-0.1 -2.8M879.4 496.7l-2.9 -0.7M879.4 496.7l2.0 -1.2M879.4 496.7l1.6 3.8M892.3 489.2l-3.8 2.2M892.3 489.2l-0.2 -3.1M892.3 489.2l2.9 1.6M737.4 633.1l3.4 2.0M737.4 633.1l-0.1 -2.4M737.4 633.1l-0.6 0.6M754.4 643.4l-0.0 -0.2M754.4 643.4l2.0 1.6M754.4 643.4l-1.1 2.8M776.3 657.4l0.6 -2.9M776.3 657.4l-1.2 0.6M776.3 657.4l4.1 1.1M773.6 658.8l-3.9 -3.1M773.6 658.8l1.2 -0.6M773.6 658.8l-1.8 3.1M761.1 565.0l0.6 3.6M761.1 565.0l3.3 -2.3M761.1 565.0l-2.6 -3.7M792.1 556.7l-3.0 -1.5M792.1 556.7l-2.4 3.3M792.1 556.7l2.6 -0.3M777.3 577.2l2.9 -4.0M777.3 577.2l-0.3 0.2M777.3 577.2l2.0 -0.1M718.1 554.5l-3.5 -2.7M718.1 554.5l1.1 3.5M718.1 554.5l2.2 -1.9M710.7 578.1l1.9 -2.8M710.7 578.1l-2.5 -1.5M710.7 578.1l0.2 1.5M719.6 565.2l-1.4 2.0M719.6 565.2l0.4 -1.3M719.6 565.2l4.0 2.9M720.5 562.4l-1.1 -3.5M720.5 562.4l-0.4 1.3M720.5 562.4l4.5 -0.3M692.0 560.2l3.1 -2.6M692.0 560.2l0.8 2.0M692.0 560.2l-3.1 -1.4M803.9 647.5l-1.7 2.7M803.9 647.5l1.8 1.4M803.9 647.5l0.0 -4.1M848.3 575.6l-3.4 -1.6M848.3 575.6l2.1 -0.6M848.3 575.6l-1.7 4.4M831.6 567.7l-0.8 -3.8M831.6 567.7l-2.8 2.5M831.6 567.7l2.7 1.3M857.1 570.4l0.2 -3.9M857.1 570.4l4.1 0.5M857.1 570.4l-1.8 1.7M853.0 574.2l-2.1 0.6M853.0 574.2l1.8 -1.7M853.0 574.2l2.2 3.6M905.5 594.0l1.0 -4.0M905.5 594.0l-4.5 0.1M905.5 594.0l0.2 0.5M884.0 622.0l1.2 2.8M884.0 622.0l2.0 -0.6M884.0 622.0l-0.4 -0.1M874.6 599.2l-3.2 -0.4M874.6 599.2l2.0 -1.8M874.6 599.2l0.5 2.8M944.6 645.8l3.3 3.7M944.6 645.8l0.1 -2.9M944.6 645.8l-3.1 1.0M917.0 641.0l-2.5 -1.5M917.0 641.0l2.6 -2.8M917.0 641.0l0.3 1.4M906.9 609.2l-1.2 2.0M906.9 609.2l3.0 1.3M906.9 609.2l-0.2 -3.8M955.6 568.0l2.1 -1.8M955.6 568.0l-0.1 1.8M955.6 568.0l-3.8 -2.3M955.4 571.9l2.9 3.1M955.4 571.9l0.1 -1.8M955.4 571.9l-1.8 1.9M973.0 599.0l0.6 2.8M973.0 599.0l-0.7 -1.7M973.0 599.0l4.3 -1.3M948.9 620.6l3.9 -2.2M948.9 620.6l-0.5 -3.8M948.9 620.6l-0.6 1.2M957.9 456.6l4.6 -0.5M957.9 456.6l-1.1 -4.0M957.9 456.6l-2.5 3.1M954.6 444.5l1.7 -1.4M954.6 444.5l0.8 3.0M954.6 444.5l-2.2 -0.9M938.5 437.5l1.6 -4.4M938.5 437.5l3.7 1.6M938.5 437.5l-1.5 1.2M924.8 469.8l-2.3 0.1M924.8 469.8l2.6 -2.4M924.8 469.8l1.8 1.9M918.7 445.1l-1.2 1.8M918.7 445.1l2.1 -1.5M918.7 445.1l-2.2 -1.6M935.0 440.2l0.3 3.0M935.0 440.2l-3.2 -0.4M935.0 440.2l1.5 -1.2M713.4 653.5l2.9 2.7M713.4 653.5l-0.3 -4.0M713.4 653.5l-3.5 2.3M801.3 613.5l-4.1 -2.4M801.3 613.5l0.1 2.9M801.3 613.5l2.8 -1.5M828.5 632.7l0.7 2.6M828.5 632.7l-3.0 0.6M828.5 632.7l1.1 -1.6M877.6 614.9l-0.6 -3.3M877.6 614.9l1.8 2.3M877.6 614.9l-3.4 1.1M855.5 632.4l-1.8 3.8M855.5 632.4l3.5 2.0M855.5 632.4l-1.1 -1.4M925.5 575.9l2.2 0.0M925.5 575.9l1.7 2.1M925.5 575.9l-1.8 -1.3M943.3 593.9l1.7 -3.8M943.3 593.9l-1.7 -0.2M943.3 593.9l1.0 1.1M853.1 605.0l2.7 -1.3M853.1 605.0l-2.8 -2.5M853.1 605.0l-0.1 0.6M827.7 593.1l-0.5 -2.0M827.7 593.1l4.0 0.4M827.7 593.1l-2.1 1.6M840.4 594.4l0.3 -0.1M840.4 594.4l-2.4 -0.2M840.4 594.4l-1.6 3.7M855.7 622.0l-0.7 1.9M855.7 622.0l-0.8 -4.2M855.7 622.0l4.7 -1.5M852.9 606.4l0.9 4.7M852.9 606.4l-4.3 2.2M852.9 606.4l0.1 -0.6M829.8 618.4l4.3 -2.2M829.8 618.4l-0.2 0.2M829.8 618.4l1.5 -3.3" fill="none" stroke="#fff" stroke-opacity="0.8" stroke-width="1.0" stroke-linecap="round"/>
<path d="M683.4 593.3h0M658.4 425.8h0M688.5 438.6h0M658.6 660.9h0M673.2 607.2h0M673.7 597.9h0M982.1 518.9h0M792.0 425.4h0M668.3 423.1h0M682.3 651.2h0M735.6 487.5h0M770.2 433.9h0M804.6 442.7h0M773.4 436.1h0M726.8 458.6h0M688.6 593.5h0M802.5 555.1h0M792.0 527.5h0M804.0 513.3h0M792.1 525.7h0M854.7 518.9h0M900.9 520.4h0M669.2 635.3h0M682.1 653.4h0M668.5 557.0h0M959.4 482.5h0M956.0 503.0h0M980.8 518.0h0M977.6 507.5h0M752.5 425.7h0M737.7 461.9h0M741.6 473.5h0M821.5 471.7h0M736.4 579.5h0M763.0 532.4h0M840.6 519.0h0M894.8 516.1h0M890.9 456.5h0M813.7 551.9h0M831.9 532.4h0M856.0 547.0h0M858.1 551.4h0M827.8 559.3h0M680.4 652.3h0M727.8 523.9h0M720.3 514.5h0M740.3 524.7h0M740.2 497.9h0M749.5 502.9h0M662.3 536.5h0M980.4 455.0h0M773.6 417.9h0M800.5 458.2h0M801.3 459.8h0M758.3 453.8h0M706.9 513.4h0M689.4 446.3h0M664.3 454.1h0M716.0 481.9h0M692.2 498.4h0M826.9 438.7h0M826.3 452.1h0M845.3 460.9h0M844.3 492.4h0M858.8 501.4h0M730.8 587.2h0M713.0 587.5h0M703.9 613.6h0M741.2 576.3h0M835.7 517.5h0M818.9 501.8h0M814.7 510.9h0M783.0 504.8h0M929.1 499.5h0M922.8 504.6h0M912.2 494.3h0M916.1 472.6h0M890.9 450.5h0M880.1 418.9h0M853.9 538.6h0M833.1 555.2h0M931.0 597.1h0M965.8 556.6h0M986.4 636.8h0M688.5 535.7h0M969.2 420.0h0M817.6 432.8h0M816.1 433.2h0M780.0 459.8h0M766.1 463.6h0M760.1 473.0h0M765.8 485.8h0M806.1 490.2h0M794.4 498.0h0M785.8 496.0h0M715.2 467.5h0M716.4 481.0h0M697.6 480.1h0M846.5 464.7h0M845.5 467.5h0M793.4 607.1h0M788.3 636.3h0M782.4 615.0h0M754.7 579.8h0M751.4 545.9h0M749.5 549.1h0M730.5 544.5h0M828.6 437.7h0M861.8 423.2h0M807.1 576.2h0M805.5 586.1h0M871.5 645.9h0M907.3 656.1h0M900.7 530.2h0M906.8 537.9h0M928.2 558.9h0M956.7 521.6h0M944.3 538.7h0M950.5 538.9h0M951.6 516.4h0M934.1 516.7h0M932.8 515.9h0M978.5 633.8h0M660.8 504.5h0M959.1 482.5h0M940.0 484.1h0M970.0 481.0h0M681.5 468.3h0M705.7 462.5h0M875.3 473.2h0M881.1 498.2h0M891.7 484.1h0M736.8 633.0h0M766.2 633.5h0M754.5 642.8h0M771.9 659.7h0M806.3 574.4h0M760.4 564.0h0M777.3 577.1h0M765.0 604.0h0M754.1 592.5h0M738.4 616.7h0M707.7 547.2h0M717.5 554.5h0M718.0 564.3h0M721.7 562.7h0M692.5 560.8h0M819.9 662.2h0M803.1 646.9h0M844.3 660.9h0M849.1 574.4h0M830.3 566.1h0M823.5 576.6h0M877.8 569.9h0M882.9 551.7h0M897.9 551.3h0M868.6 598.9h0M875.8 573.2h0M856.0 569.0h0M854.2 573.5h0M884.4 622.1h0M878.8 595.8h0M960.3 655.1h0M948.8 623.9h0M945.1 622.9h0M916.2 641.7h0M900.6 615.5h0M918.3 612.9h0M905.7 608.9h0M943.6 560.2h0M965.4 559.1h0M973.3 588.6h0M955.2 567.7h0M975.3 605.1h0M972.0 598.7h0M972.6 596.1h0M926.1 469.4h0M909.0 455.7h0M920.3 443.7h0M926.7 440.0h0M934.9 439.0h0M720.9 660.1h0M735.0 660.4h0M712.8 652.3h0M713.5 643.2h0M805.0 635.7h0M828.2 631.9h0M877.9 616.3h0M882.0 620.9h0M951.1 577.5h0M939.8 593.8h0M842.5 595.4h0M851.8 606.3h0M817.1 604.8h0M851.5 607.0h0M853.1 630.5h0M831.2 620.0h0" fill="none" stroke="#6f58c6" stroke-opacity="0.8" stroke-width="1.9" stroke-linecap="round"/>
<path d="M655.8 436.6L674.5 432.0L690.2 422.3L703.6 416.1L703.3 415.3L689.4 420.9L673.9 430.6L655.6 435.8ZM816.2 415.0L824.0 419.0L833.0 419.3L833.1 418.0L824.6 416.7L816.7 413.8ZM918.5 413.5L916.9 431.7L905.7 455.0L895.6 475.8L893.9 490.6L896.9 490.9L898.0 476.5L908.4 456.3L920.7 432.8L923.0 414.0ZM894.4 489.6L884.4 498.2L860.8 505.1L854.0 515.0L829.0 521.2L829.3 522.6L855.4 517.1L862.5 507.5L885.8 500.8L896.4 491.9ZM861.8 506.0L845.9 500.8L828.2 498.2L828.1 498.9L845.6 502.1L861.6 506.7ZM895.4 491.3L916.2 490.1L932.0 477.9L955.1 464.9L954.6 463.9L930.9 476.3L915.5 488.2L895.3 490.2ZM955.0 464.7L976.4 454.2L987.9 454.0L987.9 453.4L976.1 453.2L954.7 464.2ZM854.2 516.1L856.6 531.6L850.9 545.2L841.6 551.2L842.0 551.9L852.2 546.2L858.2 531.7L855.1 516.0ZM800.7 589.6L809.1 593.8L817.1 603.0L833.1 600.3L833.0 599.4L817.8 601.4L810.2 592.3L801.1 588.7ZM801.1 589.3L807.1 578.8L828.3 568.9L828.1 568.4L806.4 578.1L800.6 589.0ZM829.7 663.6L852.7 659.4L881.0 641.3L918.7 626.0L957.7 612.6L978.2 605.1L991.5 593.3L985.2 586.9L974.3 599.3L955.8 607.4L916.9 621.3L878.6 636.4L850.4 653.3L828.6 657.7ZM880.3 638.8L878.1 619.9L861.0 606.1L856.8 599.6L856.0 600.1L859.6 607.3L876.5 620.8L879.3 638.9ZM956.3 551.5L967.7 567.5L986.0 583.2L986.8 582.3L969.3 566.0L957.3 550.8ZM940.9 510.6L949.0 517.3L966.8 503.2L986.1 499.0L985.9 498.1L966.2 501.7L949.0 515.7L941.5 509.9ZM941.4 510.1L937.6 498.2L917.9 490.5L917.7 491.0L936.9 498.9L940.9 510.3ZM904.2 532.0L918.0 530.2L933.8 522.3L941.4 510.4L940.9 510.1L933.0 521.5L917.6 529.2L904.1 531.4ZM736.2 482.9L732.3 500.4L733.1 500.6L737.0 483.0ZM750.8 531.5L745.9 542.2L746.7 542.6L751.6 531.8ZM724.8 643.6L722.5 656.7L723.4 656.8L725.8 643.8ZM956.4 635.7L950.2 648.2L944.7 660.5L945.5 660.8L951.6 648.9L957.2 636.1ZM679.8 477.3L686.7 485.5L697.7 483.3L697.6 482.6L687.1 484.3L680.3 476.9ZM757.7 457.5L754.8 465.3L755.4 465.5L758.4 457.7ZM740.2 607.9L746.1 614.7L746.6 614.2L740.8 607.4ZM761.2 609.8L766.1 602.0L765.5 601.6L760.6 609.4ZM657.0 588.5L662.9 581.6L662.2 581.1L656.4 587.9ZM787.9 625.3L792.9 634.5L801.0 631.3L800.8 630.7L793.3 633.4L788.5 625.0ZM977.9 452.1L983.7 457.0L984.4 456.3L978.5 451.4Z" fill="#fff" stroke="#fff" stroke-width="0.8" stroke-linejoin="round"/>
<rect x="957.35" y="611.16" width="24.36" height="24.16" rx="3" fill="#f46cbe" stroke="#fff" stroke-width="1.4"/>
</g>
<rect x="655.6" y="414.3" width="332.4" height="247.8" fill="none" stroke="#484848" stroke-width="2.2"/>
<clipPath id="cpko"><rect x="656.4" y="678.8" width="330.5" height="246.4"/></clipPath>
<rect x="655.4" y="677.8" width="332.5" height="248.4" fill="#e96fcb"/>
<g clip-path="url(#cpko)">
<path d="M716.2 663.4L727.5 653.0L741.1 657.8L745.0 664.8L744.9 665.6L733.0 674.8L732.6 674.9ZM877.2 651.9L869.7 648.8L855.6 652.5L854.7 659.4L865.5 668.2L879.7 659.9ZM642.8 668.1L636.0 666.9L630.6 671.9L627.3 682.0L630.6 685.6L650.0 681.0ZM663.3 664.5L662.5 686.9L659.8 690.2L650.0 681.0L642.8 668.1L660.4 662.1ZM683.4 682.8L662.5 686.9L663.3 664.5L674.8 663.7ZM745.9 696.4L733.0 674.8L744.9 665.6L753.7 681.1L746.4 696.5ZM837.8 682.6L820.3 681.2L834.3 664.0L836.6 664.1L845.2 668.8L844.2 678.7ZM844.2 678.7L845.2 668.8L854.7 659.4L865.5 668.2L870.1 682.7L857.0 687.4ZM989.6 681.5L992.7 685.8L1002.0 685.3L1013.4 675.7L1012.4 668.6L1011.5 667.7L993.1 664.3ZM725.0 703.6L704.5 691.9L700.2 682.3L702.1 679.0L725.8 683.0L728.6 700.3ZM746.4 696.5L753.7 681.1L771.3 680.1L772.3 681.1L763.1 702.8L747.3 697.4ZM855.3 696.4L856.8 699.5L877.5 704.4L880.4 690.1L879.5 685.7L870.1 682.7L857.0 687.4ZM888.7 677.0L879.5 685.7L880.4 690.1L896.3 697.9L903.1 683.1ZM992.9 704.9L1005.1 701.8L1009.0 696.4L1002.0 685.3L992.7 685.8L989.3 694.7ZM769.6 716.5L760.5 722.0L745.8 719.7L747.3 697.4L763.1 702.8L766.9 707.9ZM814.9 696.8L815.1 712.2L808.9 717.8L795.9 717.0L792.0 715.1L792.4 699.7L794.6 698.0ZM837.1 701.7L816.6 693.8L814.9 696.8L815.1 712.2L836.6 715.9L837.6 702.5ZM943.4 720.9L940.3 707.8L966.9 706.2L969.2 711.9L963.8 722.5L948.1 725.3ZM736.6 724.9L736.5 730.4L750.4 741.6L756.8 738.7L760.5 722.0L745.8 719.7ZM785.9 752.5L800.9 756.2L808.2 748.9L804.9 741.2L797.3 739.0L785.8 743.6ZM912.4 728.3L914.6 727.7L923.3 727.6L929.8 729.5L930.8 749.9L917.9 752.2L912.9 749.6ZM992.9 732.5L983.2 748.4L991.7 760.1L1007.5 747.2L1004.5 739.1ZM669.9 773.8L652.7 764.1L648.4 755.7L668.2 748.8L672.6 771.0ZM697.4 772.3L690.9 766.0L692.4 754.1L709.2 748.0L717.4 754.1L717.7 768.6L704.9 774.2ZM944.4 752.7L958.0 768.3L944.6 782.6L934.5 775.6ZM944.1 751.7L944.4 752.7L958.0 768.3L970.2 770.3L970.7 748.9L970.4 748.5L946.8 748.0ZM701.1 803.1L708.8 789.2L704.9 774.2L697.4 772.3L688.8 791.5ZM734.6 788.3L751.3 781.4L753.9 769.5L734.0 769.9L728.4 774.0L730.3 783.7ZM784.7 764.0L790.3 771.3L790.6 779.4L786.8 781.7L772.2 782.1L770.7 779.0ZM813.2 784.7L825.9 788.3L833.9 764.0L815.5 767.7L813.2 770.7ZM899.7 762.9L903.7 774.2L898.6 786.0L894.6 787.5L883.6 768.7ZM987.1 785.9L987.0 786.1L970.5 801.5L962.6 791.0L970.9 771.0L979.4 772.7ZM734.6 788.3L736.7 796.4L721.8 810.2L720.6 809.8L718.9 790.3L730.3 783.7ZM832.3 792.8L825.9 788.3L813.2 784.7L808.0 787.5L802.3 802.7L812.7 817.6L827.8 809.7L832.7 796.9ZM886.0 809.2L868.4 812.4L867.9 812.0L867.5 792.3L869.3 790.1L887.4 795.5L889.1 802.7ZM1003.0 784.3L1005.8 786.5L1006.5 799.5L994.4 807.4L987.0 786.1L987.1 785.9ZM663.1 813.8L658.1 798.2L641.7 809.4L641.7 821.7L650.6 824.9L663.2 814.7ZM714.6 831.6L723.4 812.8L721.8 810.2L720.6 809.8L704.0 809.5L701.2 818.1ZM837.6 820.0L827.8 809.7L812.7 817.6L811.2 824.8L811.6 826.1L836.0 830.7ZM717.0 842.8L700.2 846.9L695.4 824.2L701.2 818.1L714.6 831.6L717.9 840.7ZM855.1 825.9L851.0 841.3L846.7 843.3L840.8 840.8L836.0 830.7L837.6 820.0L851.1 816.0ZM938.1 828.5L935.5 838.4L929.4 850.1L908.8 837.0L908.0 829.2L917.0 825.0L936.5 825.7ZM1009.8 846.7L1009.3 848.0L987.2 848.9L986.4 846.8L987.6 826.3L995.3 823.0L1008.3 828.6ZM819.2 855.1L823.4 847.2L840.8 840.8L846.7 843.3L846.3 860.8L838.1 867.9L836.9 867.9L820.6 860.2ZM888.4 847.7L888.3 862.6L882.8 866.1L869.7 856.0L868.8 849.7L883.1 842.9ZM819.2 855.1L805.8 851.8L792.4 867.1L792.5 869.3L802.3 877.5L810.4 876.1L820.6 860.2ZM846.3 860.8L857.5 866.3L862.9 877.5L857.3 884.3L845.8 886.8L838.1 867.9ZM955.4 866.6L973.0 863.8L974.2 882.2L954.9 869.5ZM652.5 884.4L661.1 898.9L660.4 900.7L643.3 908.8L637.0 901.8L642.8 885.6ZM674.3 893.8L661.1 898.9L660.4 900.7L667.1 916.8L682.7 914.2ZM726.4 893.9L727.8 910.7L731.4 911.7L749.7 906.1L750.6 897.0L731.4 890.0ZM896.8 886.3L895.1 886.8L889.9 893.3L895.5 912.8L907.7 912.4L907.7 912.4L910.0 901.3ZM750.6 934.4L748.9 934.9L731.4 911.7L749.7 906.1L765.4 917.8L762.7 927.0ZM765.7 929.9L789.4 936.3L790.8 927.0L786.2 912.8L771.3 913.2L765.4 917.8L762.7 927.0ZM803.4 907.0L790.2 909.7L786.2 912.8L790.8 927.0L807.2 925.4L809.7 914.0ZM850.6 910.8L859.8 910.7L869.0 930.1L867.2 932.1L843.8 927.3ZM986.4 919.7L991.3 929.1L1003.7 924.1L1009.3 907.7L993.3 899.3ZM829.0 928.5L825.3 934.9L825.3 939.9L831.1 946.1L848.5 944.9L843.3 927.8ZM869.0 930.1L867.2 932.1L863.4 940.4L874.6 953.9L885.3 949.9L890.3 939.2L884.7 929.5ZM950.4 931.4L962.4 928.1L966.2 934.3L965.6 945.9L958.1 948.0L951.0 941.6Z" fill="#fff" fill-opacity="0.05"/>
<path d="M702.7 675.0L687.1 653.9L674.8 663.7L683.4 682.8L689.4 685.0L700.2 682.3L702.1 679.0ZM753.7 681.1L771.3 680.1L770.1 668.2L760.7 659.6L745.0 664.8L744.9 665.6ZM790.3 675.9L791.7 671.6L778.7 662.0L770.1 668.2L771.3 680.1L772.3 681.1L778.5 682.7ZM933.9 663.1L925.1 680.5L940.4 683.8L945.6 667.0L943.5 661.4L937.6 660.5ZM816.6 693.8L817.3 681.6L799.2 683.9L794.6 698.0L814.9 696.8ZM914.6 684.5L916.0 698.6L905.0 708.6L896.3 697.9L903.1 683.1ZM937.9 705.3L943.2 689.5L964.1 688.5L968.3 699.2L966.9 706.2L940.3 707.8ZM667.9 714.6L652.4 729.8L651.5 730.0L644.2 719.4L650.0 699.0L657.8 697.1L664.0 704.6ZM687.1 704.9L685.1 716.5L672.2 716.5L667.9 714.6L664.0 704.6L685.2 695.3ZM725.0 703.6L704.5 691.9L701.8 700.4L701.5 713.6L714.3 718.5L723.5 713.2ZM887.0 718.5L884.3 717.5L878.2 709.4L877.5 704.4L880.4 690.1L896.3 697.9L905.0 708.6L901.8 716.9ZM914.6 727.7L930.6 704.6L937.0 705.3L923.3 727.6ZM966.9 706.2L968.3 699.2L989.3 694.7L992.9 704.9L990.9 717.8L990.3 718.6L969.2 711.9ZM990.9 717.8L992.9 704.9L1005.1 701.8L1010.7 715.0ZM836.6 715.9L815.1 712.2L808.9 717.8L813.6 730.4L823.9 734.5L838.7 719.0ZM884.3 717.5L878.2 709.4L856.3 715.3L849.5 724.1L853.0 731.3L861.1 736.3ZM907.6 724.3L901.8 716.9L887.0 718.5L886.5 733.7L891.8 741.1ZM947.2 745.0L930.6 729.3L943.4 720.9L948.1 725.3L948.1 742.1ZM963.8 722.5L967.7 732.1L970.3 734.7L990.7 729.0L990.3 718.6L969.2 711.9ZM990.7 729.0L990.3 718.6L990.9 717.8L1010.7 715.0L1020.0 717.0L1011.5 732.3L1004.5 739.1L992.9 732.5ZM663.1 738.6L652.4 729.8L651.5 730.0L644.4 736.8L647.4 755.1L648.4 755.7L668.2 748.8L668.3 748.7ZM674.1 731.5L663.1 738.6L668.3 748.7L683.9 743.4ZM717.4 754.1L709.2 748.0L709.5 734.2L710.9 732.8L729.6 738.0L728.4 747.8ZM737.0 753.5L748.0 751.2L750.4 741.6L736.5 730.4L729.6 738.0L728.4 747.8ZM782.1 758.5L785.9 752.5L785.8 743.6L778.9 736.7L766.5 743.0L767.2 760.1ZM947.2 745.0L946.8 748.0L970.4 748.5L970.3 734.7L967.7 732.1L948.1 742.1ZM782.1 758.5L767.2 760.1L760.7 765.5L770.7 779.0L784.7 764.0ZM802.0 764.1L813.2 770.7L815.5 767.7L815.9 751.7L808.2 748.9L800.9 756.2ZM667.1 786.8L669.9 773.8L652.7 764.1L642.8 781.2L645.2 785.2L660.2 790.4ZM760.7 765.5L758.3 765.6L753.9 769.5L751.3 781.4L760.8 796.5L765.9 795.4L772.2 782.1L770.7 779.0ZM802.0 764.1L813.2 770.7L813.2 784.7L808.0 787.5L790.6 779.4L790.3 771.3ZM837.1 761.8L836.7 761.7L833.9 764.0L825.9 788.3L832.3 792.8L839.9 788.5L848.2 776.3ZM874.6 766.0L866.0 773.3L865.5 774.5L869.3 790.1L887.4 795.5L894.6 787.5L883.6 768.7ZM934.5 775.6L944.6 782.6L946.3 787.7L925.2 795.9L923.3 780.6L924.8 776.4ZM962.6 791.0L948.0 789.9L946.3 787.7L944.6 782.6L958.0 768.3L970.2 770.3L970.9 771.0ZM660.2 790.4L645.2 785.2L635.5 796.5L636.4 802.8L641.7 809.4L658.1 798.2ZM772.2 782.1L786.8 781.7L784.5 806.0L784.5 806.0L779.0 804.8L765.9 795.4ZM867.9 812.0L867.5 792.3L858.7 795.9L851.0 808.3L852.2 813.2ZM925.2 795.9L923.3 780.6L905.8 789.1L914.1 801.4L923.6 801.8ZM751.1 817.2L751.4 805.0L760.8 796.5L765.9 795.4L779.0 804.8L763.0 821.3ZM851.1 816.0L852.2 813.2L851.0 808.3L832.7 796.9L827.8 809.7L837.6 820.0ZM881.7 829.3L875.0 828.3L870.3 823.8L868.4 812.4L886.0 809.2L886.8 825.7ZM886.8 825.7L886.0 809.2L889.1 802.7L904.6 809.5L907.9 829.2ZM700.2 846.9L699.9 847.1L680.5 845.8L673.4 839.3L679.3 825.1L695.4 824.2ZM811.6 826.2L811.6 826.1L836.0 830.7L840.8 840.8L823.4 847.2ZM629.8 856.0L636.7 863.0L644.3 862.7L646.4 844.5L635.5 842.8L630.4 849.0ZM680.3 861.0L698.6 868.6L699.7 865.8L699.9 847.1L680.5 845.8L678.5 858.6ZM727.6 857.1L717.0 842.8L717.9 840.7L729.0 833.0L746.5 840.1L736.6 858.2ZM786.4 842.0L800.6 842.2L805.8 851.8L792.4 867.1L782.2 852.0ZM819.2 855.1L823.4 847.2L811.6 826.2L800.6 842.2L805.8 851.8ZM935.5 838.4L956.8 847.1L950.9 857.7L930.8 855.0L930.8 855.0L929.4 850.1ZM981.0 858.9L990.4 868.4L999.3 868.8L1010.2 854.2L1009.3 848.0L987.2 848.9ZM657.6 867.0L657.5 866.9L644.3 862.7L636.7 863.0L629.3 879.7L642.8 885.6L652.5 884.4L657.7 867.4ZM721.2 872.2L724.6 860.7L727.6 857.1L736.6 858.2L737.1 858.7L742.7 876.0L736.9 880.8ZM776.6 874.5L764.3 859.1L765.9 855.3L782.2 852.0L792.4 867.1L792.5 869.3L779.3 876.2ZM820.6 860.2L836.9 867.9L822.9 885.3L810.4 876.1ZM918.8 882.3L908.1 877.0L904.4 865.4L905.4 864.0L930.8 855.0L930.8 855.0L929.8 871.6ZM698.6 871.7L703.4 877.9L695.2 898.7L678.4 891.4L689.2 876.1ZM779.3 876.2L792.5 869.3L802.3 877.5L800.7 884.7L785.7 892.4L776.6 887.3ZM810.4 876.1L822.9 885.3L824.1 888.3L821.6 894.2L805.1 902.2L800.7 884.7L802.3 877.5ZM822.9 885.3L824.1 888.3L842.4 891.6L845.8 886.8L838.1 867.9L836.9 867.9ZM872.9 877.7L862.9 877.5L857.3 884.3L867.2 903.8L868.6 903.5L878.2 892.6ZM950.3 878.4L954.9 869.5L974.2 882.2L977.8 889.7L972.0 892.8L960.2 895.9ZM719.2 889.6L700.8 902.9L722.4 914.6L727.8 910.7L726.4 893.9ZM776.6 887.3L785.7 892.4L790.2 909.7L786.2 912.8L771.3 913.2L769.6 892.1ZM805.1 902.2L800.7 884.7L785.7 892.4L790.2 909.7L803.4 907.0ZM843.8 905.2L842.4 891.6L845.8 886.8L857.3 884.3L867.2 903.8L859.8 910.7L850.6 910.8ZM889.9 893.3L895.5 912.8L890.2 916.6L868.6 903.5L878.2 892.6ZM924.9 890.4L932.9 911.6L939.3 911.8L947.0 906.6L938.0 888.7ZM976.0 917.8L986.4 919.7L993.3 899.3L992.7 897.4L979.7 889.8L977.8 889.7L972.0 892.8ZM666.2 919.9L646.4 927.6L645.9 927.5L642.7 910.6L643.3 908.8L660.4 900.7L667.1 916.8ZM684.5 914.7L682.7 914.2L667.1 916.8L666.2 919.9L673.8 937.7L682.1 934.2ZM692.9 912.4L701.5 926.7L698.0 935.4L682.1 934.2L684.5 914.7ZM741.6 942.5L748.9 934.9L731.4 911.7L727.8 910.7L722.4 914.6L719.6 920.3L723.0 932.6ZM868.6 903.5L890.2 916.6L884.7 929.5L869.0 930.1L859.8 910.7L867.2 903.8ZM924.5 915.9L932.9 911.6L939.3 911.8L944.9 928.6L932.8 938.8L924.5 928.4ZM966.2 934.3L990.7 933.6L991.3 929.1L986.4 919.7L976.0 917.8L965.4 919.4L962.4 928.1ZM825.3 934.9L808.6 930.4L802.6 940.4L811.5 949.7L825.3 939.9Z" fill="#b0208a" fill-opacity="0.045"/>
<path d="M643.3 908.8L660.4 900.7M646.4 927.6L666.2 919.9M660.4 900.7L667.1 916.8M667.1 916.8L666.2 919.9M673.8 937.7L666.2 919.9M970.2 770.3L970.9 771.0M970.2 770.3L958.0 768.3M948.0 789.9L946.3 787.7M948.0 789.9L962.6 791.0M946.3 787.7L944.6 782.6M958.0 768.3L944.6 782.6M970.9 771.0L962.6 791.0M991.3 929.1L986.4 919.7M993.3 899.3L986.4 919.7M825.9 788.3L833.9 764.0M825.9 788.3L813.2 784.7M815.5 767.7L833.9 764.0M815.5 767.7L813.2 770.7M813.2 770.7L813.2 784.7M791.7 824.1L785.1 815.8M791.7 824.1L811.2 824.8M802.3 802.7L784.5 806.0M802.3 802.7L812.7 817.6M785.1 815.8L784.5 806.0M812.7 817.6L811.2 824.8M784.5 806.0L784.5 806.0M786.8 781.7L784.5 806.0M786.8 781.7L790.6 779.4M790.6 779.4L808.0 787.5M808.0 787.5L802.3 802.7M659.8 690.2L662.5 686.9M659.8 690.2L650.0 681.0M662.5 686.9L663.3 664.5M650.0 699.0L657.8 697.1M657.8 697.1L659.8 690.2M991.7 760.1L983.2 748.4M983.2 748.4L992.9 732.5M970.7 748.9L983.2 748.4M970.7 748.9L970.4 748.5M970.4 748.5L970.3 734.7M970.3 734.7L990.7 729.0M905.8 789.1L923.3 780.6M905.8 789.1L914.1 801.4M923.3 780.6L925.2 795.9M914.1 801.4L923.6 801.8M923.6 801.8L925.2 795.9M948.0 789.9L943.8 808.0M946.3 787.7L925.2 795.9M939.5 810.4L943.8 808.0M939.5 810.4L924.1 802.5M924.1 802.5L923.6 801.8M944.6 782.6L934.5 775.6M923.3 780.6L924.8 776.4M924.8 776.4L934.5 775.6M958.0 768.3L944.4 752.7M934.5 775.6L944.4 752.7M970.5 803.0L994.2 807.8M970.5 803.0L970.5 801.5M970.5 801.5L987.0 786.1M991.2 762.9L979.4 772.7M979.4 772.7L987.1 785.9M970.7 748.9L970.2 770.3M970.9 771.0L979.4 772.7M962.6 791.0L970.5 801.5M986.4 846.8L987.6 826.3M986.4 846.8L965.6 836.2M987.6 826.3L971.6 824.8M965.6 836.2L971.6 824.8M970.5 803.0L965.9 813.8M971.6 824.8L965.9 813.8M943.8 808.0L963.3 813.7M965.9 813.8L963.3 813.7M990.4 868.4L981.0 858.9M987.2 848.9L981.0 858.9M992.7 897.4L979.7 889.8M979.7 889.8L990.4 868.4M986.4 919.7L976.0 917.8M979.7 889.8L977.8 889.7M977.8 889.7L972.0 892.8M972.0 892.8L976.0 917.8M851.0 808.3L858.7 795.9M851.0 808.3L832.7 796.9M858.7 795.9L839.9 788.5M839.9 788.5L832.3 792.8M832.7 796.9L832.3 792.8M825.9 788.3L832.3 792.8M827.8 809.7L812.7 817.6M827.8 809.7L832.7 796.9M813.2 784.7L808.0 787.5M815.5 767.7L815.9 751.7M833.9 764.0L836.7 761.7M815.9 751.7L826.9 747.3M836.7 761.7L826.9 747.3M709.5 734.2L709.2 748.0M709.5 734.2L692.2 731.6M709.2 748.0L692.4 754.1M692.2 731.6L685.2 743.6M685.2 743.6L692.4 754.1M710.9 732.8L714.3 718.5M710.9 732.8L709.5 734.2M688.9 718.7L701.5 713.6M688.9 718.7L692.2 731.6M714.3 718.5L701.5 713.6M771.3 680.1L770.1 668.2M771.3 680.1L753.7 681.1M744.9 665.6L753.7 681.1M790.6 779.4L790.3 771.3M813.2 770.7L802.0 764.1M790.3 771.3L802.0 764.1M808.2 748.9L815.9 751.7M808.2 748.9L800.9 756.2M800.9 756.2L802.0 764.1M736.5 730.4L729.6 738.0M736.5 730.4L750.4 741.6M729.6 738.0L728.4 747.8M748.0 751.2L750.4 741.6M748.0 751.2L737.0 753.5M728.4 747.8L737.0 753.5M710.9 732.8L729.6 738.0M709.2 748.0L717.4 754.1M728.4 747.8L717.4 754.1M786.8 781.7L772.2 782.1M779.0 804.8L784.5 806.0M779.0 804.8L765.9 795.4M765.9 795.4L772.2 782.1M808.2 748.9L804.9 741.2M800.9 756.2L785.9 752.5M797.3 739.0L804.9 741.2M797.3 739.0L785.8 743.6M785.8 743.6L785.9 752.5M690.9 766.0L697.4 772.3M690.9 766.0L692.4 754.1M717.4 754.1L717.7 768.6M717.7 768.6L704.9 774.2M704.9 774.2L697.4 772.3M660.4 900.7L661.1 898.9M661.1 898.9L674.3 893.8M667.1 916.8L682.7 914.2M682.7 914.2L674.3 893.8M867.5 792.3L858.7 795.9M867.5 792.3L867.9 812.0M851.0 808.3L852.2 813.2M852.2 813.2L867.9 812.0M862.9 877.5L857.5 866.3M862.9 877.5L857.3 884.3M857.3 884.3L845.8 886.8M845.8 886.8L838.1 867.9M857.5 866.3L846.3 860.8M838.1 867.9L846.3 860.8M884.7 929.5L890.2 916.6M890.2 916.6L868.6 903.5M869.0 930.1L859.8 910.7M859.8 910.7L867.2 903.8M867.2 903.8L868.6 903.5M898.6 786.0L905.8 789.1M898.6 786.0L894.6 787.5M894.6 787.5L887.4 795.5M887.4 795.5L889.1 802.7M914.1 801.4L904.6 809.5M904.6 809.5L889.1 802.7M867.5 792.3L869.3 790.1M869.3 790.1L887.4 795.5M867.9 812.0L868.4 812.4M868.4 812.4L886.0 809.2M889.1 802.7L886.0 809.2M965.4 919.4L976.0 917.8M965.4 919.4L962.4 928.1M842.4 891.6L824.1 888.3M842.4 891.6L845.8 886.8M824.1 888.3L822.9 885.3M838.1 867.9L836.9 867.9M836.9 867.9L822.9 885.3M779.0 804.8L763.0 821.3M785.1 815.8L770.9 829.5M770.9 829.5L763.0 821.3M751.4 805.0L760.8 796.5M751.4 805.0L751.1 817.2M765.9 795.4L760.8 796.5M763.0 821.3L751.1 817.2M751.4 805.0L736.7 796.4M736.7 796.4L721.8 810.2M721.8 810.2L723.4 812.8M731.2 819.8L723.4 812.8M731.2 819.8L750.8 817.5M750.8 817.5L751.1 817.2M648.4 755.7L668.2 748.8M652.7 764.1L669.9 773.8M668.2 748.8L672.6 771.0M672.6 771.0L669.9 773.8M657.8 697.1L664.0 704.6M652.4 729.8L667.9 714.6M664.0 704.6L667.9 714.6M688.9 718.7L685.1 716.5M701.5 713.6L701.8 700.4M685.1 716.5L687.1 704.9M701.8 700.4L687.1 704.9M685.1 716.5L672.2 716.5M672.2 716.5L667.9 714.6M664.0 704.6L685.2 695.3M685.2 695.3L687.1 704.9M668.3 748.7L663.1 738.6M668.3 748.7L683.9 743.4M663.1 738.6L674.1 731.5M683.9 743.4L674.1 731.5M652.4 729.8L663.1 738.6M668.2 748.8L668.3 748.7M690.9 766.0L672.6 771.0M685.2 743.6L683.9 743.4M672.2 716.5L674.1 731.5M662.5 686.9L683.4 682.8M674.8 663.7L683.4 682.8M685.2 695.3L689.4 685.0M683.4 682.8L689.4 685.0M704.5 691.9L701.8 700.4M704.5 691.9L700.2 682.3M689.4 685.0L700.2 682.3M725.8 683.0L732.6 674.9M725.8 683.0L702.1 679.0M702.1 679.0L702.7 675.0M700.2 682.3L702.1 679.0M827.2 746.3L826.9 747.3M827.2 746.3L823.9 734.5M804.9 741.2L813.6 730.4M823.9 734.5L813.6 730.4M898.6 786.0L903.7 774.2M924.8 776.4L922.3 773.5M903.7 774.2L922.3 773.5M986.4 846.8L987.2 848.9M869.3 790.1L865.5 774.5M839.9 788.5L848.2 776.3M848.2 776.3L865.5 774.5M836.7 761.7L837.1 761.8M848.2 776.3L837.1 761.8M989.3 694.7L968.3 699.2M989.6 681.5L968.7 676.4M968.3 699.2L964.1 688.5M964.1 688.5L968.7 676.4M970.3 734.7L967.7 732.1M990.3 718.6L969.2 711.9M967.7 732.1L963.8 722.5M969.2 711.9L963.8 722.5M968.3 699.2L966.9 706.2M969.2 711.9L966.9 706.2M840.8 840.8L836.0 830.7M840.8 840.8L846.7 843.3M851.0 841.3L855.1 825.9M851.0 841.3L846.7 843.3M836.0 830.7L837.6 820.0M837.6 820.0L851.1 816.0M851.1 816.0L855.1 825.9M827.8 809.7L837.6 820.0M811.2 824.8L811.6 826.1M811.6 826.1L836.0 830.7M852.2 813.2L851.1 816.0M870.3 823.8L868.4 812.4M870.3 823.8L855.1 825.9M747.3 697.4L746.4 696.5M747.3 697.4L745.8 719.7M723.5 713.2L725.0 703.6M723.5 713.2L736.6 724.9M728.6 700.3L745.9 696.4M728.6 700.3L725.0 703.6M746.4 696.5L745.9 696.4M745.8 719.7L736.6 724.9M763.1 702.8L747.3 697.4M763.1 702.8L772.3 681.1M772.3 681.1L771.3 680.1M753.7 681.1L746.4 696.5M714.3 718.5L723.5 713.2M704.5 691.9L725.0 703.6M736.5 730.4L736.6 724.9M733.0 674.8L745.9 696.4M725.8 683.0L728.6 700.3M760.5 722.0L756.8 738.7M760.5 722.0L745.8 719.7M756.8 738.7L750.4 741.6M753.9 769.5L751.3 781.4M753.9 769.5L734.0 769.9M751.3 781.4L734.6 788.3M728.4 774.0L734.0 769.9M728.4 774.0L730.3 783.7M730.3 783.7L734.6 788.3M748.0 751.2L758.3 765.6M737.0 753.5L734.0 769.9M758.3 765.6L753.9 769.5M760.8 796.5L751.3 781.4M736.7 796.4L734.6 788.3M717.7 768.6L728.4 774.0M718.9 790.3L730.3 783.7M718.9 790.3L708.8 789.2M708.8 789.2L704.9 774.2M721.8 810.2L720.6 809.8M720.6 809.8L718.9 790.3M770.7 779.0L760.7 765.5M770.7 779.0L784.7 764.0M760.7 765.5L767.2 760.1M767.2 760.1L782.1 758.5M784.7 764.0L782.1 758.5M772.2 782.1L770.7 779.0M758.3 765.6L760.7 765.5M790.3 771.3L784.7 764.0M756.8 738.7L766.5 743.0M766.5 743.0L767.2 760.1M766.5 743.0L778.9 736.7M785.8 743.6L778.9 736.7M785.9 752.5L782.1 758.5M797.3 739.0L795.9 717.0M813.6 730.4L808.9 717.8M795.9 717.0L808.9 717.8M645.2 785.2L660.2 790.4M641.7 809.4L658.1 798.2M658.1 798.2L660.2 790.4M669.9 773.8L667.1 786.8M660.2 790.4L667.1 786.8M708.8 789.2L701.1 803.1M697.4 772.3L688.8 791.5M688.8 791.5L701.1 803.1M667.1 786.8L675.3 792.2M688.8 791.5L675.3 792.2M720.6 809.8L704.0 809.5M704.0 809.5L701.6 805.7M701.6 805.7L701.1 803.1M661.1 898.9L652.5 884.4M650.6 824.9L658.1 838.3M658.1 838.3L646.4 844.5M658.1 838.3L662.6 841.1M662.6 841.1L657.5 866.9M657.5 866.9L644.3 862.7M727.8 910.7L722.4 914.6M727.8 910.7L731.4 911.7M731.4 911.7L748.9 934.9M722.4 914.6L719.6 920.3M719.6 920.3L723.0 932.6M731.4 911.7L749.7 906.1M749.7 906.1L765.4 917.8M765.4 917.8L762.7 927.0M786.2 912.8L771.3 913.2M786.2 912.8L790.8 927.0M765.4 917.8L771.3 913.2M786.2 912.8L790.2 909.7M807.2 925.4L809.7 914.0M790.2 909.7L803.4 907.0M809.7 914.0L803.4 907.0M800.7 884.7L805.1 902.2M800.7 884.7L785.7 892.4M785.7 892.4L790.2 909.7M803.4 907.0L805.1 902.2M878.2 892.6L889.9 893.3M878.2 892.6L872.9 877.7M872.9 877.7L881.2 870.5M881.2 870.5L895.1 886.8M889.9 893.3L895.1 886.8M890.2 916.6L895.5 912.8M868.6 903.5L878.2 892.6M895.5 912.8L889.9 893.3M862.9 877.5L872.9 877.7M857.3 884.3L867.2 903.8M869.7 856.0L882.8 866.1M869.7 856.0L857.5 866.3M882.8 866.1L881.2 870.5M870.3 823.8L875.0 828.3M851.0 841.3L861.0 842.8M875.0 828.3L861.0 842.8M869.7 856.0L868.8 849.7M846.3 860.8L846.7 843.3M861.0 842.8L868.8 849.7M811.6 826.1L811.6 826.2M840.8 840.8L823.4 847.2M823.4 847.2L811.6 826.2M802.3 877.5L810.4 876.1M802.3 877.5L792.5 869.3M810.4 876.1L820.6 860.2M792.5 869.3L792.4 867.1M792.4 867.1L805.8 851.8M805.8 851.8L819.2 855.1M820.6 860.2L819.2 855.1M824.1 888.3L821.6 894.2M822.9 885.3L810.4 876.1M800.7 884.7L802.3 877.5M821.6 894.2L805.1 902.2M836.9 867.9L820.6 860.2M823.4 847.2L819.2 855.1M811.6 826.2L800.6 842.2M800.6 842.2L805.8 851.8M771.1 830.4L760.6 844.4M771.1 830.4L785.2 839.4M782.2 852.0L786.4 842.0M782.2 852.0L765.9 855.3M765.9 855.3L760.6 844.4M785.2 839.4L786.4 842.0M770.9 829.5L771.1 830.4M750.8 817.5L747.1 839.8M747.1 839.8L760.6 844.4M791.7 824.1L785.2 839.4M800.6 842.2L786.4 842.0M792.4 867.1L782.2 852.0M731.2 819.8L729.0 833.0M747.1 839.8L746.5 840.1M746.5 840.1L729.0 833.0M823.9 734.5L838.7 719.0M815.1 712.2L808.9 717.8M815.1 712.2L836.6 715.9M838.7 719.0L836.6 715.9M974.2 882.2L973.0 863.8M974.2 882.2L954.9 869.5M973.0 863.8L955.4 866.6M954.9 869.5L955.4 866.6M977.8 889.7L974.2 882.2M981.0 858.9L978.5 859.1M978.5 859.1L973.0 863.8M843.8 927.3L850.6 910.8M850.6 910.8L843.8 905.2M843.8 905.2L828.8 909.7M829.0 928.5L824.2 915.8M824.2 915.8L828.8 909.7M859.8 910.7L850.6 910.8M842.4 891.6L843.8 905.2M821.6 894.2L828.8 909.7M809.7 914.0L824.2 915.8M924.5 928.4L924.5 915.9M924.5 915.9L907.7 912.4M908.1 925.5L907.7 912.4M907.7 912.4L907.7 912.4M944.9 928.6L939.3 911.8M939.3 911.8L932.9 911.6M932.9 911.6L924.5 915.9M895.5 912.8L907.7 912.4M772.3 681.1L778.5 682.7M778.5 682.7L790.3 675.9M701.2 818.1L695.4 824.2M701.2 818.1L714.6 831.6M695.4 824.2L700.2 846.9M700.2 846.9L717.0 842.8M714.6 831.6L717.9 840.7M717.9 840.7L717.0 842.8M723.4 812.8L714.6 831.6M704.0 809.5L701.2 818.1M699.9 847.1L700.2 846.9M699.9 847.1L680.5 845.8M679.3 825.1L695.4 824.2M679.3 825.1L673.4 839.3M673.4 839.3L680.5 845.8M729.0 833.0L717.9 840.7M681.0 809.0L677.0 801.5M681.0 809.0L677.0 820.6M677.0 801.5L663.1 813.8M677.0 820.6L663.2 814.7M663.2 814.7L663.1 813.8M675.3 792.2L677.0 801.5M701.6 805.7L681.0 809.0M679.3 825.1L677.0 820.6M658.1 798.2L663.1 813.8M650.6 824.9L663.2 814.7M662.6 841.1L673.4 839.3M701.5 926.7L692.9 912.4M682.1 934.2L684.5 914.7M684.5 914.7L692.9 912.4M719.6 920.3L701.5 926.7M722.4 914.6L700.8 902.9M700.8 902.9L697.3 902.6M697.3 902.6L692.9 912.4M682.7 914.2L684.5 914.7M674.3 893.8L677.0 891.6M695.2 898.7L678.4 891.4M695.2 898.7L697.3 902.6M677.0 891.6L678.4 891.4M746.5 840.1L736.6 858.2M717.0 842.8L727.6 857.1M736.6 858.2L727.6 857.1M699.7 865.8L724.6 860.7M699.7 865.8L699.9 847.1M724.6 860.7L727.6 857.1M895.1 886.8L896.8 886.3M907.7 912.4L910.0 901.3M910.0 901.3L896.8 886.3M972.0 892.8L960.2 895.9M965.4 919.4L954.3 904.7M954.3 904.7L960.2 895.9M939.3 911.8L947.0 906.6M954.3 904.7L947.0 906.6M954.9 869.5L950.3 878.4M960.2 895.9L950.3 878.4M904.6 809.5L907.9 829.2M886.0 809.2L886.8 825.7M907.9 829.2L886.8 825.7M875.0 828.3L881.7 829.3M886.8 825.7L881.7 829.3M868.8 849.7L883.1 842.9M881.7 829.3L883.1 842.9M882.8 866.1L888.3 862.6M888.3 862.6L888.4 847.7M883.1 842.9L888.4 847.7M856.3 715.3L878.2 709.4M856.3 715.3L856.8 699.5M878.2 709.4L877.5 704.4M856.8 699.5L877.5 704.4M813.9 669.8L817.5 681.4M834.3 664.0L820.3 681.2M817.5 681.4L820.3 681.2M827.2 746.3L846.5 738.0M837.1 761.8L843.1 757.9M846.5 738.0L843.1 757.9M838.7 719.0L849.5 724.1M849.5 724.1L853.0 731.3M846.5 738.0L853.0 731.3M964.1 688.5L943.2 689.5M966.9 706.2L940.3 707.8M943.2 689.5L937.9 705.3M940.3 707.8L937.9 705.3M944.4 752.7L944.1 751.7M922.3 773.5L917.9 752.2M917.9 752.2L930.8 749.9M930.8 749.9L944.1 751.7M970.4 748.5L946.8 748.0M946.8 748.0L944.1 751.7M784.0 693.8L792.4 699.7M784.0 693.8L766.9 707.9M792.4 699.7L792.0 715.1M792.0 715.1L777.8 720.4M777.8 720.4L769.6 716.5M766.9 707.9L769.6 716.5M763.1 702.8L766.9 707.9M778.5 682.7L784.0 693.8M778.9 736.7L777.8 720.4M795.9 717.0L792.0 715.1M760.5 722.0L769.6 716.5M799.2 683.9L794.6 698.0M799.2 683.9L817.3 681.6M794.6 698.0L814.9 696.8M817.3 681.6L816.6 693.8M814.9 696.8L816.6 693.8M790.3 675.9L799.2 683.9M792.4 699.7L794.6 698.0M817.5 681.4L817.3 681.6M815.1 712.2L814.9 696.8M703.4 877.9L695.2 898.7M703.4 877.9L698.6 871.7M678.4 891.4L689.2 876.1M689.2 876.1L698.6 871.7M750.6 897.0L756.8 887.2M750.6 897.0L749.7 906.1M771.3 913.2L769.6 892.1M756.8 887.2L769.6 892.1M785.7 892.4L776.6 887.3M769.6 892.1L776.6 887.3M792.5 869.3L779.3 876.2M776.6 887.3L779.3 876.2M765.9 855.3L764.3 859.1M764.3 859.1L776.6 874.5M779.3 876.2L776.6 874.5M742.7 876.0L737.1 858.7M742.7 876.0L753.4 879.2M753.4 879.2L753.8 878.8M753.8 878.8L763.9 859.3M763.9 859.3L737.1 858.7M756.8 887.2L753.4 879.2M776.6 874.5L753.8 878.8M764.3 859.1L763.9 859.3M736.6 858.2L737.1 858.7M731.4 890.0L736.9 880.8M731.4 890.0L726.4 893.9M736.9 880.8L721.2 872.2M726.4 893.9L719.2 889.6M719.2 889.6L712.9 880.8M712.9 880.8L721.2 872.2M750.6 897.0L731.4 890.0M742.7 876.0L736.9 880.8M727.8 910.7L726.4 893.9M724.6 860.7L721.2 872.2M700.8 902.9L719.2 889.6M703.4 877.9L712.9 880.8M699.7 865.8L698.6 868.6M698.6 868.6L698.6 871.7M896.8 886.3L908.1 877.0M888.3 862.6L904.4 865.4M908.1 877.0L904.4 865.4M905.8 841.3L888.4 847.7M905.8 841.3L905.4 864.0M904.4 865.4L905.4 864.0M944.3 879.4L938.0 888.7M944.3 879.4L929.8 871.6M938.0 888.7L924.9 890.4M929.8 871.6L918.8 882.3M918.8 882.3L920.3 887.1M924.9 890.4L920.3 887.1M947.0 906.6L938.0 888.7M950.3 878.4L944.3 879.4M955.4 866.6L950.9 857.7M950.9 857.7L930.8 855.0M930.8 855.0L929.8 871.6M932.9 911.6L924.9 890.4M908.1 877.0L918.8 882.3M905.4 864.0L930.8 855.0M930.8 855.0L930.8 855.0M910.0 901.3L920.3 887.1M978.5 859.1L961.6 841.4M950.9 857.7L956.8 847.1M956.8 847.1L961.6 841.4M965.6 836.2L961.8 840.3M963.3 813.7L945.4 829.9M961.8 840.3L945.4 829.9M961.8 840.3L961.6 841.4M929.4 850.1L935.5 838.4M929.4 850.1L908.8 837.0M917.0 825.0L908.0 829.2M917.0 825.0L936.5 825.7M935.5 838.4L938.1 828.5M908.0 829.2L908.8 837.0M936.5 825.7L938.1 828.5M930.8 855.0L929.4 850.1M956.8 847.1L935.5 838.4M905.8 841.3L908.8 837.0M924.1 802.5L917.0 825.0M907.9 829.2L908.0 829.2M939.5 810.4L936.5 825.7M945.4 829.9L938.1 828.5M857.0 687.4L855.3 696.4M857.0 687.4L844.2 678.7M855.3 696.4L837.6 702.5M844.2 678.7L837.8 682.6M837.8 682.6L837.1 701.7M837.6 702.5L837.1 701.7M856.8 699.5L855.3 696.4M870.1 682.7L879.5 685.7M870.1 682.7L857.0 687.4M877.5 704.4L880.4 690.1M880.4 690.1L879.5 685.7M865.5 668.2L870.1 682.7M836.6 715.9L837.6 702.5M849.5 724.1L856.3 715.3M820.3 681.2L837.8 682.6M816.6 693.8L837.1 701.7M865.5 774.5L866.0 773.3M843.1 757.9L853.5 756.7M853.5 756.7L866.0 773.3M948.1 725.3L943.4 720.9M948.1 725.3L948.1 742.1M943.4 720.9L930.6 729.3M930.6 729.3L947.2 745.0M948.1 742.1L947.2 745.0M963.8 722.5L948.1 725.3M940.3 707.8L943.4 720.9M967.7 732.1L948.1 742.1M930.8 749.9L929.8 729.5M929.8 729.5L930.6 729.3M946.8 748.0L947.2 745.0M678.1 871.9L680.3 861.0M678.1 871.9L670.4 874.8M670.4 874.8L657.7 867.4M678.5 858.6L657.6 867.0M678.5 858.6L680.3 861.0M657.7 867.4L657.6 867.0M689.2 876.1L678.1 871.9M698.6 868.6L680.3 861.0M677.0 891.6L670.4 874.8M652.5 884.4L657.7 867.4M680.5 845.8L678.5 858.6M657.5 866.9L657.6 867.0M853.0 731.3L861.1 736.3M853.5 756.7L862.6 739.0M861.1 736.3L862.6 739.0M878.2 709.4L884.3 717.5M861.1 736.3L884.3 717.5M937.0 705.3L923.3 727.6M937.0 705.3L930.6 704.6M930.6 704.6L914.6 727.7M923.3 727.6L914.6 727.7M937.9 705.3L937.0 705.3M929.8 729.5L923.3 727.6M940.4 683.8L925.1 680.5M940.4 683.8L945.6 667.0M925.1 680.5L933.9 663.1M943.2 689.5L940.4 683.8M866.0 773.3L874.6 766.0M862.6 739.0L870.1 744.6M870.1 744.6L875.7 752.8M875.7 752.8L874.6 766.0M894.6 787.5L883.6 768.7M883.6 768.7L874.6 766.0M903.7 774.2L899.7 762.9M883.6 768.7L899.7 762.9M880.4 690.1L896.3 697.9M884.3 717.5L887.0 718.5M896.3 697.9L905.0 708.6M905.0 708.6L901.8 716.9M901.8 716.9L887.0 718.5M870.1 744.6L886.5 733.7M887.0 718.5L886.5 733.7M914.8 667.6L916.8 681.5M903.1 683.1L914.6 684.5M903.1 683.1L888.7 677.0M916.8 681.5L914.6 684.5M925.1 680.5L916.8 681.5M916.0 698.6L905.0 708.6M916.0 698.6L914.6 684.5M896.3 697.9L903.1 683.1M879.5 685.7L888.7 677.0M930.6 704.6L916.0 698.6M893.2 747.8L903.8 753.2M893.2 747.8L891.8 741.1M891.8 741.1L907.6 724.3M903.8 753.2L912.9 749.6M912.9 749.6L912.4 728.3M912.4 728.3L907.6 724.3M875.7 752.8L893.2 747.8M899.7 762.9L903.8 753.2M886.5 733.7L891.8 741.1M901.8 716.9L907.6 724.3M917.9 752.2L912.9 749.6M914.6 727.7L912.4 728.3" fill="none" stroke="#f9bdf0" stroke-opacity="0.4" stroke-width="0.9" stroke-linecap="round"/>
<path d="M763.1 702.8h0M970.3 734.7h0M898.6 786.0h0M970.9 771.0h0M867.5 792.3h0M869.3 790.1h0M887.4 795.5h0M790.6 779.4h0M729.6 738.0h0M748.0 751.2h0M914.1 801.4h0M925.2 795.9h0M979.7 889.8h0M963.3 813.7h0M832.3 792.8h0M968.3 699.2h0M701.5 713.6h0M709.5 734.2h0M692.2 731.6h0M797.3 739.0h0M766.5 743.0h0M785.8 743.6h0M785.9 752.5h0M699.7 865.8h0M658.1 838.3h0M870.3 823.8h0M846.3 860.8h0M882.8 866.1h0M836.9 867.9h0M822.9 885.3h0M763.0 821.3h0M751.1 817.2h0M668.2 748.8h0M685.1 716.5h0M672.2 716.5h0M667.9 714.6h0M704.5 691.9h0M701.8 700.4h0M922.3 773.5h0M978.5 859.1h0M967.7 732.1h0M747.3 697.4h0M725.0 703.6h0M745.8 719.7h0M815.1 712.2h0M699.9 847.1h0M667.1 786.8h0M802.3 877.5h0M785.2 839.4h0M954.9 869.5h0M955.4 866.6h0M824.2 915.8h0M714.6 831.6h0M736.6 858.2h0M888.4 847.7h0M856.8 699.5h0M870.1 682.7h0M940.3 707.8h0M929.8 729.5h0M946.8 748.0h0M784.0 693.8h0M777.8 720.4h0M756.8 887.2h0M742.7 876.0h0M753.4 879.2h0M719.2 889.6h0M721.2 872.2h0M930.8 855.0h0M924.9 890.4h0M929.4 850.1h0M837.8 682.6h0M866.0 773.3h0M947.2 745.0h0M678.5 858.6h0M680.3 861.0h0M861.1 736.3h0M870.1 744.6h0M930.6 704.6h0M916.8 681.5h0" fill="none" stroke="#fff" stroke-opacity="0.9" stroke-width="1.9" stroke-linecap="round"/>
<path d="M763.1 702.8l-3.4 -1.2M763.1 702.8l1.3 -3.0M763.1 702.8l1.7 2.3M970.3 734.7l0.0 4.3M970.3 734.7l3.2 -0.9M970.3 734.7l-1.2 -1.1M898.6 786.0l2.7 1.1M898.6 786.0l-1.8 0.6M898.6 786.0l1.0 -2.3M970.9 771.0l-0.3 -0.3M970.9 771.0l-1.8 4.4M970.9 771.0l2.4 0.5M867.5 792.3l-3.0 1.3M867.5 792.3l0.1 2.7M867.5 792.3l0.8 -1.0M869.3 790.1l-0.8 1.0M869.3 790.1l2.2 0.6M869.3 790.1l-0.7 -2.8M887.4 795.5l2.2 -2.5M887.4 795.5l0.7 3.1M887.4 795.5l-3.1 -0.9M790.6 779.4l-1.7 1.1M790.6 779.4l3.3 1.5M790.6 779.4l-0.1 -3.6M729.6 738.0l1.6 -1.7M729.6 738.0l-0.5 4.4M729.6 738.0l-3.7 -1.0M748.0 751.2l1.0 -3.9M748.0 751.2l-2.6 0.6M748.0 751.2l2.2 3.0M914.1 801.4l-1.7 -2.6M914.1 801.4l2.8 0.1M914.1 801.4l-3.5 3.0M925.2 795.9l-0.6 -4.6M925.2 795.9l-0.8 2.6M925.2 795.9l1.9 -0.7M979.7 889.8l2.9 1.7M979.7 889.8l1.0 -2.0M979.7 889.8l-0.9 -0.0M963.3 813.7l-1.9 -0.6M963.3 813.7l1.2 0.0M963.3 813.7l-2.2 2.0M832.3 792.8l3.4 -1.9M832.3 792.8l0.2 1.8M832.3 792.8l-2.9 -2.1M968.3 699.2l3.1 -0.7M968.3 699.2l-0.9 -2.3M968.3 699.2l-0.6 3.2M701.5 713.6l-2.8 1.1M701.5 713.6l4.5 1.7M701.5 713.6l0.1 -3.4M709.5 734.2l-0.1 3.6M709.5 734.2l-2.1 -0.3M709.5 734.2l0.6 -0.6M692.2 731.6l3.6 0.5M692.2 731.6l-1.6 2.7M692.2 731.6l-0.8 -3.0M797.3 739.0l3.4 1.0M797.3 739.0l-3.5 1.4M797.3 739.0l-0.3 -4.4M766.5 743.0l-2.5 -1.1M766.5 743.0l0.2 4.9M766.5 743.0l2.8 -1.4M785.8 743.6l2.8 -1.1M785.8 743.6l0.0 2.4M785.8 743.6l-3.1 -3.1M785.9 752.5l4.1 1.0M785.9 752.5l-0.0 -4.0M785.9 752.5l-1.7 2.7M699.7 865.8l2.9 -0.6M699.7 865.8l0.1 -4.4M699.7 865.8l-0.5 1.3M658.1 838.3l-2.3 -4.0M658.1 838.3l-2.5 1.3M658.1 838.3l2.0 1.2M870.3 823.8l-0.7 -4.0M870.3 823.8l-3.4 0.5M870.3 823.8l1.8 1.8M846.3 860.8l3.6 1.8M846.3 860.8l-3.0 2.5M846.3 860.8l0.1 -3.4M882.8 866.1l-2.0 -1.6M882.8 866.1l-0.7 2.0M882.8 866.1l2.4 -1.6M836.9 867.9l0.5 -0.0M836.9 867.9l-2.6 3.2M836.9 867.9l-3.5 -1.7M822.9 885.3l0.6 1.4M822.9 885.3l2.9 -3.6M822.9 885.3l-3.2 -2.4M763.0 821.3l1.6 -1.6M763.0 821.3l1.6 1.7M763.0 821.3l-3.6 -1.2M751.1 817.2l0.1 -3.6M751.1 817.2l2.4 0.8M751.1 817.2l-0.1 0.1M668.2 748.8l-4.2 1.4M668.2 748.8l0.4 2.0M668.2 748.8l0.0 -0.0M685.1 716.5l1.7 1.0M685.1 716.5l0.6 -3.2M685.1 716.5l-4.7 -0.0M672.2 716.5l4.1 0.0M672.2 716.5l-1.9 -0.9M672.2 716.5l0.6 4.8M667.9 714.6l-3.5 3.5M667.9 714.6l-1.3 -3.4M667.9 714.6l1.9 0.9M704.5 691.9l-1.2 3.8M704.5 691.9l-1.0 -2.2M704.5 691.9l1.8 1.0M701.8 700.4l-0.1 4.3M701.8 700.4l-1.9 0.6M701.8 700.4l0.7 -2.1M922.3 773.5l1.1 1.3M922.3 773.5l-2.9 0.1M922.3 773.5l-0.5 -2.3M978.5 859.1l1.1 -0.1M978.5 859.1l-2.5 2.1M978.5 859.1l-1.7 -1.8M967.7 732.1l1.2 1.1M967.7 732.1l-1.2 -3.1M967.7 732.1l-3.8 1.9M747.3 697.4l-0.4 -0.4M747.3 697.4l-0.1 2.0M747.3 697.4l3.9 1.3M725.0 703.6l-0.6 3.8M725.0 703.6l1.6 -1.5M725.0 703.6l-2.4 -1.4M745.8 719.7l0.3 -4.8M745.8 719.7l-3.1 1.8M745.8 719.7l3.8 0.6M815.1 712.2l-1.7 1.5M815.1 712.2l4.5 0.8M815.1 712.2l-0.0 -3.1M699.9 847.1l0.1 -0.1M699.9 847.1l-3.1 -0.2M699.9 847.1l-0.1 4.4M667.1 786.8l0.7 -3.2M667.1 786.8l-2.3 1.2M667.1 786.8l2.3 1.5M802.3 877.5l3.4 -0.6M802.3 877.5l-3.7 -3.1M802.3 877.5l-0.6 2.8M785.2 839.4l-2.6 -1.7M785.2 839.4l0.5 1.2M785.2 839.4l1.7 -4.1M954.9 869.5l2.9 1.9M954.9 869.5l0.2 -1.3M954.9 869.5l-1.8 3.5M955.4 866.6l4.5 -0.7M955.4 866.6l-0.2 1.3M955.4 866.6l-2.0 -4.0M824.2 915.8l1.3 3.4M824.2 915.8l2.1 -2.7M824.2 915.8l-2.4 -0.3M714.6 831.6l-2.2 -2.3M714.6 831.6l1.0 2.8M714.6 831.6l2.1 -4.4M736.6 858.2l2.1 -3.8M736.6 858.2l-4.0 -0.5M736.6 858.2l0.2 0.2M888.4 847.7l-0.0 2.0M888.4 847.7l-2.4 -2.1M888.4 847.7l4.7 -1.7M856.8 699.5l-0.1 2.0M856.8 699.5l2.0 0.5M856.8 699.5l-0.7 -1.4M870.1 682.7l2.3 0.7M870.1 682.7l-4.5 1.6M870.1 682.7l-1.3 -4.3M940.3 707.8l3.8 -0.2M940.3 707.8l-1.1 -1.1M940.3 707.8l0.8 3.5M929.8 729.5l0.1 2.9M929.8 729.5l0.3 -0.1M929.8 729.5l-2.2 -0.6M946.8 748.0l2.2 0.1M946.8 748.0l-1.2 1.7M946.8 748.0l0.1 -1.4M784.0 693.8l2.5 1.8M784.0 693.8l-2.4 2.0M784.0 693.8l-1.8 -3.6M777.8 720.4l2.0 -0.7M777.8 720.4l-3.3 -1.5M777.8 720.4l0.3 4.1M756.8 887.2l-1.1 1.7M756.8 887.2l4.6 1.8M756.8 887.2l-1.5 -3.6M742.7 876.0l-1.5 -4.7M742.7 876.0l3.9 1.2M742.7 876.0l-2.1 1.7M753.4 879.2l-3.5 -1.1M753.4 879.2l0.2 -0.2M753.4 879.2l0.8 1.9M719.2 889.6l3.3 1.9M719.2 889.6l-2.7 -3.8M719.2 889.6l-2.5 1.8M721.2 872.2l3.4 1.8M721.2 872.2l-2.0 2.1M721.2 872.2l0.9 -3.1M930.8 855.0l3.2 0.4M930.8 855.0l-0.3 4.7M930.8 855.0l-0.0 -0.0M924.9 890.4l3.2 -0.4M924.9 890.4l-2.0 -1.5M924.9 890.4l1.2 3.2M929.4 850.1l2.2 -4.3M929.4 850.1l-3.9 -2.5M929.4 850.1l0.6 2.2M837.8 682.6l2.6 -1.6M837.8 682.6l-0.2 4.0M837.8 682.6l-4.0 -0.3M866.0 773.3l-0.3 0.5M866.0 773.3l-2.2 -2.9M866.0 773.3l3.4 -2.9M947.2 745.0l-2.1 -2.0M947.2 745.0l0.4 -1.3M947.2 745.0l-0.1 1.4M678.5 858.6l-3.7 1.5M678.5 858.6l0.8 1.1M678.5 858.6l0.3 -2.1M680.3 861.0l-0.7 3.3M680.3 861.0l-0.8 -1.1M680.3 861.0l2.8 1.2M861.1 736.3l-2.1 -1.3M861.1 736.3l0.7 1.2M861.1 736.3l2.0 -1.6M870.1 744.6l-3.3 -2.4M870.1 744.6l1.6 2.3M870.1 744.6l3.7 -2.5M930.6 704.6l2.9 0.3M930.6 704.6l-2.0 2.9M930.6 704.6l-3.0 -1.2M916.8 681.5l-0.4 -2.6M916.8 681.5l-1.0 1.3M916.8 681.5l3.7 -0.4" fill="none" stroke="#fff" stroke-opacity="0.8" stroke-width="1.0" stroke-linecap="round"/>
<path d="M661.4 902.1h0M657.5 696.7h0M969.0 769.8h0M970.9 747.3h0M772.1 681.4h0M772.0 679.3h0M983.9 748.7h0M922.6 802.9h0M946.3 781.1h0M970.6 771.7h0M985.8 918.3h0M866.4 792.6h0M815.9 766.2h0M868.6 791.3h0M895.1 786.9h0M777.2 805.4h0M812.1 772.4h0M806.6 787.6h0M791.6 822.9h0M800.6 804.3h0M785.8 816.5h0M814.1 818.2h0M810.9 824.0h0M749.8 806.1h0M816.4 752.3h0M868.7 856.1h0M663.3 687.8h0M904.9 788.7h0M912.9 801.9h0M923.3 803.2h0M926.4 797.0h0M925.2 775.0h0M970.1 804.7h0M969.0 802.4h0M980.2 888.0h0M978.3 888.4h0M972.1 824.8h0M964.2 814.1h0M981.9 860.4h0M965.1 920.4h0M976.3 917.5h0M859.9 794.2h0M839.9 789.5h0M833.0 798.4h0M833.1 794.2h0M828.3 746.9h0M967.9 699.5h0M812.6 826.1h0M715.1 718.7h0M708.9 733.6h0M708.2 749.0h0M693.9 732.7h0M683.5 742.5h0M752.4 680.8h0M788.6 769.6h0M800.3 762.6h0M716.3 754.1h0M767.4 795.3h0M738.0 796.7h0M720.1 811.7h0M719.5 791.2h0M803.2 741.8h0M768.0 744.3h0M779.9 737.8h0M785.4 753.3h0M698.5 867.6h0M657.4 837.0h0M674.5 892.1h0M785.7 913.3h0M867.4 810.9h0M825.3 889.6h0M863.7 877.1h0M866.0 904.9h0M837.5 869.6h0M770.8 829.1h0M751.7 816.6h0M748.1 838.9h0M667.8 747.5h0M672.4 770.9h0M671.3 772.8h0M686.3 717.7h0M668.3 713.7h0M700.6 700.8h0M684.7 745.0h0M672.6 731.7h0M701.8 683.7h0M700.4 677.6h0M904.2 774.2h0M976.7 858.0h0M835.5 760.2h0M962.8 687.0h0M966.2 733.6h0M968.6 704.8h0M965.4 722.5h0M841.9 839.9h0M845.0 844.3h0M835.8 832.0h0M836.5 819.0h0M856.8 826.9h0M728.8 701.2h0M725.0 703.1h0M745.7 696.3h0M738.0 726.2h0M729.2 772.9h0M735.3 768.4h0M731.7 785.4h0M735.3 787.9h0M759.8 766.9h0M767.9 760.0h0M785.2 764.8h0M780.6 757.5h0M794.6 715.8h0M810.2 719.3h0M698.8 846.8h0M656.4 799.7h0M688.7 791.2h0M676.0 792.6h0M702.6 804.1h0M700.9 803.7h0M664.3 840.8h0M678.8 846.9h0M703.6 876.2h0M721.5 915.6h0M719.4 920.6h0M750.0 896.3h0M751.4 905.3h0M821.1 894.5h0M802.6 908.7h0M939.5 911.5h0M932.1 912.4h0M871.9 877.9h0M882.0 872.3h0M890.8 893.0h0M896.0 886.6h0M860.0 842.2h0M867.8 851.4h0M810.2 826.1h0M811.5 874.6h0M793.4 870.9h0M791.2 868.1h0M821.6 860.6h0M817.6 856.2h0M761.1 844.6h0M787.7 842.3h0M730.6 831.4h0M879.2 708.6h0M917.0 752.0h0M955.6 866.0h0M943.8 688.1h0M851.9 909.1h0M828.6 909.6h0M922.8 917.3h0M908.5 911.8h0M908.2 913.4h0M701.3 848.2h0M714.8 832.6h0M718.7 843.5h0M677.9 890.4h0M679.8 892.7h0M693.0 910.6h0M723.0 860.3h0M727.2 858.3h0M959.2 894.4h0M949.3 880.0h0M908.6 828.2h0M906.8 841.2h0M885.2 824.3h0M881.3 828.0h0M887.5 849.4h0M857.6 701.0h0M871.4 681.7h0M846.7 738.0h0M842.9 756.9h0M939.2 709.0h0M938.4 705.3h0M931.9 750.8h0M947.0 748.3h0M881.6 689.7h0M879.4 684.4h0M792.8 699.2h0M779.5 718.8h0M798.6 682.6h0M690.3 876.8h0M698.4 870.4h0M756.4 886.7h0M777.4 873.5h0M752.0 879.0h0M762.8 858.7h0M731.2 891.4h0M736.9 879.9h0M718.7 891.3h0M713.5 879.1h0M722.6 870.9h0M905.5 864.9h0M930.2 856.1h0M939.8 887.6h0M930.4 872.9h0M919.1 882.3h0M956.6 847.4h0M960.8 839.9h0M943.9 830.8h0M930.9 850.9h0M935.8 836.8h0M907.5 828.6h0M937.5 824.1h0M938.1 828.8h0M858.4 687.9h0M856.6 694.8h0M837.1 682.9h0M838.2 702.7h0M865.7 774.2h0M943.5 722.6h0M677.7 872.5h0M669.1 873.7h0M679.2 856.9h0M679.8 861.0h0M658.0 868.6h0M659.1 868.3h0M859.8 736.6h0M862.4 738.5h0M869.0 742.9h0M882.7 716.7h0M936.8 704.8h0M929.9 704.6h0M922.4 728.2h0M941.9 685.3h0M926.6 679.6h0M875.6 753.6h0M885.2 767.4h0M903.1 716.2h0M885.3 733.8h0M904.8 681.4h0M915.1 682.1h0M891.4 740.7h0M904.7 751.8h0M911.6 726.5h0M906.3 724.5h0" fill="none" stroke="#6f58c6" stroke-opacity="0.8" stroke-width="1.9" stroke-linecap="round"/>
<path d="M655.1 790.7L686.8 783.3L708.8 767.9L737.4 748.7L765.7 747.0L789.6 750.6L813.8 741.3L841.0 725.8L870.7 718.3L880.1 710.1L921.9 700.9L961.3 701.4L990.3 682.2L987.5 678.1L960.0 697.1L921.5 696.0L877.5 704.7L867.5 712.1L838.7 720.2L811.3 735.9L788.8 743.7L765.9 741.0L735.8 744.0L705.9 763.8L685.1 779.6L654.4 787.8ZM736.7 746.2L723.2 736.2L703.6 726.7L703.3 727.1L722.7 737.1L736.4 746.6ZM906.3 798.7L917.4 796.7L923.0 788.5L949.9 777.5L973.5 767.7L990.4 758.3L987.4 753.2L971.2 763.2L948.0 772.9L920.4 785.4L915.1 793.5L905.9 797.3ZM654.3 837.1L691.4 848.3L726.7 851.2L745.9 852.6L768.9 866.7L781.1 871.6L806.6 869.3L831.6 874.6L847.0 878.4L878.1 891.5L895.4 905.0L902.7 913.0L905.6 910.2L897.4 902.7L879.6 888.9L848.3 874.7L832.5 870.7L806.9 864.3L781.7 866.7L770.6 863.0L746.8 849.8L727.0 848.2L692.1 844.8L655.2 834.2ZM748.8 848.6L772.7 835.4L782.5 825.0L790.1 815.1L789.0 814.1L780.3 822.9L770.6 832.7L747.8 846.8ZM703.7 930.0L720.0 912.8L734.8 895.3L755.3 885.5L780.3 873.5L778.6 869.8L752.9 880.0L730.6 889.7L714.2 907.3L697.3 923.7ZM848.8 878.2L860.8 870.8L876.8 859.2L886.6 843.5L901.6 829.7L912.9 817.1L911.8 816.0L898.9 826.8L882.8 840.2L873.1 855.7L857.9 866.7L846.5 874.9ZM895.5 929.3L901.3 917.4L906.4 915.4L939.1 905.4L962.7 887.2L977.8 875.6L990.2 869.5L987.6 864.1L974.7 870.5L958.6 881.5L935.5 898.3L903.9 907.8L895.4 910.6L887.5 925.2ZM923.1 914.1L930.6 922.3L937.8 927.4L938.7 926.3L932.3 920.4L924.1 913.1ZM845.1 926.5L840.5 920.8L829.0 907.3L825.5 894.4L832.5 889.0L847.8 884.8L847.5 883.9L831.7 887.4L823.8 893.8L827.4 908.1L839.2 922.0L844.4 927.1ZM670.3 898.7L683.7 899.2L695.7 904.9L696.4 903.6L684.3 896.7L670.3 897.3ZM656.0 727.1L667.0 713.6L676.5 687.7L675.8 687.4L665.9 712.9L655.4 726.7ZM810.7 797.9L832.2 795.2L851.6 785.5L863.2 787.2L863.3 786.6L851.5 784.5L831.9 794.2L810.6 797.4ZM793.4 695.4L797.3 681.8L796.7 681.6L792.8 695.3ZM906.3 797.9L898.6 786.6L878.9 778.9L878.7 779.3L898.0 787.3L905.9 798.2ZM905.9 744.1L909.7 753.9L910.3 753.7L906.4 743.9ZM924.9 695.4L927.8 681.7L927.3 681.6L924.3 695.3ZM658.4 865.0L670.1 888.3L670.6 888.1L658.9 864.7ZM843.5 794.7L845.5 810.3L845.9 810.3L844.0 794.7Z" fill="#fff" stroke="#fff" stroke-width="0.8" stroke-linejoin="round"/>
<ellipse cx="755.09" cy="797.63" rx="1.6" ry="3" fill="#fff" transform="rotate(10 755.09 797.63)"/>
<ellipse cx="757.04" cy="791.78" rx="1.2" ry="1.4" fill="#fff" transform="rotate(0 757.04 791.78)"/>
<ellipse cx="834.01" cy="823.94" rx="3" ry="5.6" fill="#fff" transform="rotate(-14 834.01 823.94)"/>
<ellipse cx="798.94" cy="858.62" rx="2.4" ry="2" fill="#fff" transform="rotate(0 798.94 858.62)"/>
<ellipse cx="964.56" cy="833.68" rx="2.6" ry="4.6" fill="none" stroke="#fff" stroke-width="1.1" stroke-opacity="0.9"/>
<rect x="921" y="906.4" width="42.6" height="7.6" fill="#000"/>
</g>
<rect x="655.4" y="677.8" width="332.5" height="248.4" fill="none" stroke="#484848" stroke-width="2.2"/>
<text x="678" y="455.4" font-size="26.8" font-weight="bold">WT</text>
<text x="675.6" y="717.8" font-size="26.8" font-weight="bold">KO</text>
<text x="1037.5" y="420" font-size="53" font-weight="bold">d</text>
<rect x="1264.22" y="760.17" width="9.8" height="58.43" fill="#616161" stroke="#000" stroke-width="1.4"/>
<rect x="1280.02" y="758.19" width="9.6" height="60.41" fill="#ffc180" stroke="#000" stroke-width="1.4"/>
<rect x="1304.84" y="675.36" width="9.8" height="143.24" fill="#616161" stroke="#000" stroke-width="1.4"/>
<rect x="1320.64" y="664.84" width="9.6" height="153.76" fill="#ffc180" stroke="#000" stroke-width="1.4"/>
<rect x="1345.46" y="668.81" width="9.8" height="149.79" fill="#616161" stroke="#000" stroke-width="1.4"/>
<rect x="1361.26" y="606.29" width="9.6" height="212.31" fill="#ffc180" stroke="#000" stroke-width="1.4"/>
<rect x="1386.08" y="675.76" width="9.8" height="142.84" fill="#616161" stroke="#000" stroke-width="1.4"/>
<rect x="1401.88" y="525.9" width="9.6" height="292.7" fill="#ffc180" stroke="#000" stroke-width="1.4"/>
<rect x="1426.7" y="704.2" width="9.8" height="114.4" fill="#616161" stroke="#000" stroke-width="1.4"/>
<rect x="1442.5" y="536.22" width="9.6" height="282.38" fill="#ffc180" stroke="#000" stroke-width="1.4"/>
<rect x="1467.32" y="667.82" width="9.8" height="150.78" fill="#616161" stroke="#000" stroke-width="1.4"/>
<rect x="1483.12" y="636.66" width="9.6" height="181.94" fill="#ffc180" stroke="#000" stroke-width="1.4"/>
<rect x="1507.94" y="660.54" width="9.8" height="158.06" fill="#616161" stroke="#000" stroke-width="1.4"/>
<rect x="1523.74" y="661.93" width="9.6" height="156.67" fill="#ffc180" stroke="#000" stroke-width="1.4"/>
<rect x="1548.56" y="640.1" width="9.8" height="178.5" fill="#616161" stroke="#000" stroke-width="1.4"/>
<rect x="1564.36" y="717.51" width="9.6" height="101.09" fill="#ffc180" stroke="#000" stroke-width="1.4"/>
<rect x="1589.18" y="673.84" width="9.8" height="144.76" fill="#616161" stroke="#000" stroke-width="1.4"/>
<rect x="1604.98" y="779.64" width="9.6" height="38.96" fill="#ffc180" stroke="#000" stroke-width="1.4"/>
<rect x="1629.8" y="666.89" width="9.8" height="151.71" fill="#616161" stroke="#000" stroke-width="1.4"/>
<rect x="1645.6" y="808.22" width="9.6" height="10.38" fill="#ffc180" stroke="#000" stroke-width="1.4"/>
<rect x="1670.42" y="752.84" width="9.8" height="65.76" fill="#616161" stroke="#000" stroke-width="1.4"/>
<rect x="1711.04" y="791.94" width="9.8" height="26.66" fill="#616161" stroke="#000" stroke-width="1.4"/>
<line x1="1218.2" y1="440.4" x2="1218.2" y2="820.5" stroke="#000" stroke-width="3.4"/>
<line x1="1203.1" y1="818.9" x2="1823.8" y2="818.9" stroke="#000" stroke-width="3.6"/>
<line x1="1203.1" y1="442.1" x2="1218.2" y2="442.1" stroke="#000" stroke-width="3.5"/>
<text x="1186" y="448.6" font-size="26.7" text-anchor="end">25</text>
<line x1="1203.1" y1="517.48" x2="1218.2" y2="517.48" stroke="#000" stroke-width="3.5"/>
<text x="1186" y="523.98" font-size="26.7" text-anchor="end">20</text>
<line x1="1203.1" y1="592.86" x2="1218.2" y2="592.86" stroke="#000" stroke-width="3.5"/>
<text x="1186" y="599.36" font-size="26.7" text-anchor="end">15</text>
<line x1="1203.1" y1="668.24" x2="1218.2" y2="668.24" stroke="#000" stroke-width="3.5"/>
<text x="1186" y="674.74" font-size="26.7" text-anchor="end">10</text>
<line x1="1203.1" y1="743.62" x2="1218.2" y2="743.62" stroke="#000" stroke-width="3.5"/>
<text x="1186" y="750.12" font-size="26.7" text-anchor="end">5</text>
<line x1="1203.1" y1="819" x2="1218.2" y2="819" stroke="#000" stroke-width="3.5"/>
<text x="1188.8" y="823.6" font-size="26.7" text-anchor="end">0</text>
<line x1="1235.3" y1="818.8" x2="1235.3" y2="831.8" stroke="#000" stroke-width="3.6"/>
<text x="1241.4" y="844.7" font-size="26.7" text-anchor="end" transform="rotate(-45 1241.4 844.7)">0-300</text>
<line x1="1275.92" y1="818.8" x2="1275.92" y2="831.8" stroke="#000" stroke-width="3.6"/>
<text x="1282.02" y="844.7" font-size="26.7" text-anchor="end" transform="rotate(-45 1282.02 844.7)">301-600</text>
<line x1="1316.54" y1="818.8" x2="1316.54" y2="831.8" stroke="#000" stroke-width="3.6"/>
<text x="1322.64" y="844.7" font-size="26.7" text-anchor="end" transform="rotate(-45 1322.64 844.7)">601-900</text>
<line x1="1357.16" y1="818.8" x2="1357.16" y2="831.8" stroke="#000" stroke-width="3.6"/>
<text x="1363.26" y="844.7" font-size="26.7" text-anchor="end" transform="rotate(-45 1363.26 844.7)">901-1200</text>
<line x1="1397.78" y1="818.8" x2="1397.78" y2="831.8" stroke="#000" stroke-width="3.6"/>
<text x="1403.88" y="844.7" font-size="26.7" text-anchor="end" transform="rotate(-45 1403.88 844.7)">1201-1500</text>
<line x1="1438.4" y1="818.8" x2="1438.4" y2="831.8" stroke="#000" stroke-width="3.6"/>
<text x="1444.5" y="844.7" font-size="26.7" text-anchor="end" transform="rotate(-45 1444.5 844.7)">1501-1800</text>
<line x1="1479.02" y1="818.8" x2="1479.02" y2="831.8" stroke="#000" stroke-width="3.6"/>
<text x="1485.12" y="844.7" font-size="26.7" text-anchor="end" transform="rotate(-45 1485.12 844.7)">1801-2100</text>
<line x1="1519.64" y1="818.8" x2="1519.64" y2="831.8" stroke="#000" stroke-width="3.6"/>
<text x="1525.74" y="844.7" font-size="26.7" text-anchor="end" transform="rotate(-45 1525.74 844.7)">2101-2400</text>
<line x1="1560.26" y1="818.8" x2="1560.26" y2="831.8" stroke="#000" stroke-width="3.6"/>
<text x="1566.36" y="844.7" font-size="26.7" text-anchor="end" transform="rotate(-45 1566.36 844.7)">2401-2700</text>
<line x1="1600.88" y1="818.8" x2="1600.88" y2="831.8" stroke="#000" stroke-width="3.6"/>
<text x="1606.98" y="844.7" font-size="26.7" text-anchor="end" transform="rotate(-45 1606.98 844.7)">2701-3000</text>
<line x1="1641.5" y1="818.8" x2="1641.5" y2="831.8" stroke="#000" stroke-width="3.6"/>
<text x="1647.6" y="844.7" font-size="26.7" text-anchor="end" transform="rotate(-45 1647.6 844.7)">3001-3300</text>
<line x1="1682.12" y1="818.8" x2="1682.12" y2="831.8" stroke="#000" stroke-width="3.6"/>
<text x="1688.22" y="844.7" font-size="26.7" text-anchor="end" transform="rotate(-45 1688.22 844.7)">3301-3600</text>
<line x1="1722.74" y1="818.8" x2="1722.74" y2="831.8" stroke="#000" stroke-width="3.6"/>
<text x="1728.84" y="844.7" font-size="26.7" text-anchor="end" transform="rotate(-45 1728.84 844.7)">3601-3900</text>
<line x1="1763.36" y1="818.8" x2="1763.36" y2="831.8" stroke="#000" stroke-width="3.6"/>
<text x="1769.46" y="844.7" font-size="26.7" text-anchor="end" transform="rotate(-45 1769.46 844.7)">3901-4200</text>
<line x1="1803.98" y1="818.8" x2="1803.98" y2="831.8" stroke="#000" stroke-width="3.6"/>
<text x="1810.08" y="844.7" font-size="26.7" text-anchor="end" transform="rotate(-45 1810.08 844.7)">4201-</text>
<circle cx="1226.8" cy="819" r="3" fill="#fff" stroke="#000" stroke-width="1.25"/>
<circle cx="1229.8" cy="819" r="3" fill="#fff" stroke="#000" stroke-width="1.25"/>
<circle cx="1241.2" cy="819" r="3" fill="#fff" stroke="#000" stroke-width="1.25"/>
<circle cx="1244.5" cy="819" r="3" fill="#fff" stroke="#000" stroke-width="1.25"/>
<line x1="1269.12" y1="710.84" x2="1269.12" y2="808.3" stroke="#000" stroke-width="1.3"/>
<line x1="1266.72" y1="710.84" x2="1271.52" y2="710.84" stroke="#000" stroke-width="1.3"/>
<line x1="1266.72" y1="808.3" x2="1271.52" y2="808.3" stroke="#000" stroke-width="1.3"/>
<line x1="1284.82" y1="729.7" x2="1284.82" y2="787.26" stroke="#000" stroke-width="1.3"/>
<line x1="1282.42" y1="729.7" x2="1287.22" y2="729.7" stroke="#000" stroke-width="1.3"/>
<line x1="1282.42" y1="787.26" x2="1287.22" y2="787.26" stroke="#000" stroke-width="1.3"/>
<circle cx="1269.12" cy="703.89" r="3" fill="#fff" stroke="#000" stroke-width="1.25"/>
<circle cx="1269.12" cy="736.05" r="3" fill="#fff" stroke="#000" stroke-width="1.25"/>
<circle cx="1269.12" cy="790.24" r="3" fill="#fff" stroke="#000" stroke-width="1.25"/>
<circle cx="1269.12" cy="806.12" r="3" fill="#fff" stroke="#000" stroke-width="1.25"/>
<circle cx="1284.82" cy="724.14" r="3" fill="#fff" stroke="#000" stroke-width="1.25"/>
<circle cx="1282.82" cy="752.13" r="3" fill="#fff" stroke="#000" stroke-width="1.25"/>
<circle cx="1286.82" cy="755.5" r="3" fill="#fff" stroke="#000" stroke-width="1.25"/>
<circle cx="1284.82" cy="797.19" r="3" fill="#fff" stroke="#000" stroke-width="1.25"/>
<line x1="1309.74" y1="620.87" x2="1309.74" y2="727.71" stroke="#000" stroke-width="1.3"/>
<line x1="1307.34" y1="620.87" x2="1312.14" y2="620.87" stroke="#000" stroke-width="1.3"/>
<line x1="1307.34" y1="727.71" x2="1312.14" y2="727.71" stroke="#000" stroke-width="1.3"/>
<line x1="1325.44" y1="637.75" x2="1325.44" y2="690.6" stroke="#000" stroke-width="1.3"/>
<line x1="1323.04" y1="637.75" x2="1327.84" y2="637.75" stroke="#000" stroke-width="1.3"/>
<line x1="1323.04" y1="690.6" x2="1327.84" y2="690.6" stroke="#000" stroke-width="1.3"/>
<circle cx="1309.74" cy="624.45" r="3" fill="#fff" stroke="#000" stroke-width="1.25"/>
<circle cx="1309.74" cy="638.94" r="3" fill="#fff" stroke="#000" stroke-width="1.25"/>
<circle cx="1309.74" cy="694.37" r="3" fill="#fff" stroke="#000" stroke-width="1.25"/>
<circle cx="1309.74" cy="741.21" r="3" fill="#fff" stroke="#000" stroke-width="1.25"/>
<circle cx="1325.44" cy="629.41" r="3" fill="#fff" stroke="#000" stroke-width="1.25"/>
<circle cx="1325.44" cy="661.17" r="3" fill="#fff" stroke="#000" stroke-width="1.25"/>
<circle cx="1325.44" cy="672.48" r="3" fill="#fff" stroke="#000" stroke-width="1.25"/>
<circle cx="1325.44" cy="691.98" r="3" fill="#fff" stroke="#000" stroke-width="1.25"/>
<line x1="1350.36" y1="634.77" x2="1350.36" y2="700.92" stroke="#000" stroke-width="1.3"/>
<line x1="1347.96" y1="634.77" x2="1352.76" y2="634.77" stroke="#000" stroke-width="1.3"/>
<line x1="1347.96" y1="700.92" x2="1352.76" y2="700.92" stroke="#000" stroke-width="1.3"/>
<line x1="1366.06" y1="574.82" x2="1366.06" y2="636.36" stroke="#000" stroke-width="1.3"/>
<line x1="1363.66" y1="574.82" x2="1368.46" y2="574.82" stroke="#000" stroke-width="1.3"/>
<line x1="1363.66" y1="636.36" x2="1368.46" y2="636.36" stroke="#000" stroke-width="1.3"/>
<circle cx="1352.56" cy="638.94" r="3" fill="#fff" stroke="#000" stroke-width="1.25"/>
<circle cx="1348.56" cy="643.9" r="3" fill="#fff" stroke="#000" stroke-width="1.25"/>
<circle cx="1350.36" cy="682.01" r="3" fill="#fff" stroke="#000" stroke-width="1.25"/>
<circle cx="1350.36" cy="708.86" r="3" fill="#fff" stroke="#000" stroke-width="1.25"/>
<circle cx="1366.06" cy="568.87" r="3" fill="#fff" stroke="#000" stroke-width="1.25"/>
<circle cx="1366.06" cy="592.29" r="3" fill="#fff" stroke="#000" stroke-width="1.25"/>
<circle cx="1366.06" cy="622.86" r="3" fill="#fff" stroke="#000" stroke-width="1.25"/>
<circle cx="1366.06" cy="635.36" r="3" fill="#fff" stroke="#000" stroke-width="1.25"/>
<line x1="1390.98" y1="643.9" x2="1390.98" y2="703.89" stroke="#000" stroke-width="1.3"/>
<line x1="1388.58" y1="643.9" x2="1393.38" y2="643.9" stroke="#000" stroke-width="1.3"/>
<line x1="1388.58" y1="703.89" x2="1393.38" y2="703.89" stroke="#000" stroke-width="1.3"/>
<line x1="1406.68" y1="504.95" x2="1406.68" y2="545.45" stroke="#000" stroke-width="1.3"/>
<line x1="1404.28" y1="504.95" x2="1409.08" y2="504.95" stroke="#000" stroke-width="1.3"/>
<line x1="1404.28" y1="545.45" x2="1409.08" y2="545.45" stroke="#000" stroke-width="1.3"/>
<circle cx="1390.98" cy="643.9" r="3" fill="#fff" stroke="#000" stroke-width="1.25"/>
<circle cx="1388.98" cy="667.52" r="3" fill="#fff" stroke="#000" stroke-width="1.25"/>
<circle cx="1392.58" cy="672.48" r="3" fill="#fff" stroke="#000" stroke-width="1.25"/>
<circle cx="1390.98" cy="714.81" r="3" fill="#fff" stroke="#000" stroke-width="1.25"/>
<circle cx="1406.68" cy="496.42" r="3" fill="#fff" stroke="#000" stroke-width="1.25"/>
<circle cx="1406.68" cy="504.95" r="3" fill="#fff" stroke="#000" stroke-width="1.25"/>
<circle cx="1406.68" cy="540.68" r="3" fill="#fff" stroke="#000" stroke-width="1.25"/>
<circle cx="1406.68" cy="556.56" r="3" fill="#fff" stroke="#000" stroke-width="1.25"/>
<line x1="1431.6" y1="678.49" x2="1431.6" y2="728.71" stroke="#000" stroke-width="1.3"/>
<line x1="1429.2" y1="678.49" x2="1434" y2="678.49" stroke="#000" stroke-width="1.3"/>
<line x1="1429.2" y1="728.71" x2="1434" y2="728.71" stroke="#000" stroke-width="1.3"/>
<line x1="1447.3" y1="495.43" x2="1447.3" y2="573.83" stroke="#000" stroke-width="1.3"/>
<line x1="1444.9" y1="495.43" x2="1449.7" y2="495.43" stroke="#000" stroke-width="1.3"/>
<line x1="1444.9" y1="573.83" x2="1449.7" y2="573.83" stroke="#000" stroke-width="1.3"/>
<circle cx="1431.6" cy="674.66" r="3" fill="#fff" stroke="#000" stroke-width="1.25"/>
<circle cx="1431.6" cy="694.37" r="3" fill="#fff" stroke="#000" stroke-width="1.25"/>
<circle cx="1431.6" cy="708.86" r="3" fill="#fff" stroke="#000" stroke-width="1.25"/>
<circle cx="1431.6" cy="735.65" r="3" fill="#fff" stroke="#000" stroke-width="1.25"/>
<circle cx="1447.3" cy="490.07" r="3" fill="#fff" stroke="#000" stroke-width="1.25"/>
<circle cx="1447.3" cy="526.59" r="3" fill="#fff" stroke="#000" stroke-width="1.25"/>
<circle cx="1447.3" cy="540.48" r="3" fill="#fff" stroke="#000" stroke-width="1.25"/>
<circle cx="1447.3" cy="585.14" r="3" fill="#fff" stroke="#000" stroke-width="1.25"/>
<line x1="1472.22" y1="618.49" x2="1472.22" y2="714.81" stroke="#000" stroke-width="1.3"/>
<line x1="1469.82" y1="618.49" x2="1474.62" y2="618.49" stroke="#000" stroke-width="1.3"/>
<line x1="1469.82" y1="714.81" x2="1474.62" y2="714.81" stroke="#000" stroke-width="1.3"/>
<line x1="1487.92" y1="599.63" x2="1487.92" y2="672.08" stroke="#000" stroke-width="1.3"/>
<line x1="1485.52" y1="599.63" x2="1490.32" y2="599.63" stroke="#000" stroke-width="1.3"/>
<line x1="1485.52" y1="672.08" x2="1490.32" y2="672.08" stroke="#000" stroke-width="1.3"/>
<circle cx="1474.12" cy="625.44" r="3" fill="#fff" stroke="#000" stroke-width="1.25"/>
<circle cx="1470.52" cy="630.4" r="3" fill="#fff" stroke="#000" stroke-width="1.25"/>
<circle cx="1472.22" cy="687.57" r="3" fill="#fff" stroke="#000" stroke-width="1.25"/>
<circle cx="1472.22" cy="725.33" r="3" fill="#fff" stroke="#000" stroke-width="1.25"/>
<circle cx="1487.92" cy="598.05" r="3" fill="#fff" stroke="#000" stroke-width="1.25"/>
<circle cx="1487.92" cy="622.86" r="3" fill="#fff" stroke="#000" stroke-width="1.25"/>
<circle cx="1487.92" cy="635.96" r="3" fill="#fff" stroke="#000" stroke-width="1.25"/>
<circle cx="1487.92" cy="684.59" r="3" fill="#fff" stroke="#000" stroke-width="1.25"/>
<line x1="1512.84" y1="594.74" x2="1512.84" y2="724.15" stroke="#000" stroke-width="1.3"/>
<line x1="1510.44" y1="594.74" x2="1515.24" y2="594.74" stroke="#000" stroke-width="1.3"/>
<line x1="1510.44" y1="724.15" x2="1515.24" y2="724.15" stroke="#000" stroke-width="1.3"/>
<line x1="1528.54" y1="636.42" x2="1528.54" y2="687.03" stroke="#000" stroke-width="1.3"/>
<line x1="1526.14" y1="636.42" x2="1530.94" y2="636.42" stroke="#000" stroke-width="1.3"/>
<line x1="1526.14" y1="687.03" x2="1530.94" y2="687.03" stroke="#000" stroke-width="1.3"/>
<circle cx="1512.84" cy="613.99" r="3" fill="#fff" stroke="#000" stroke-width="1.25"/>
<circle cx="1512.84" cy="624.51" r="3" fill="#fff" stroke="#000" stroke-width="1.25"/>
<circle cx="1512.84" cy="645.75" r="3" fill="#fff" stroke="#000" stroke-width="1.25"/>
<circle cx="1512.84" cy="753.93" r="3" fill="#fff" stroke="#000" stroke-width="1.25"/>
<circle cx="1528.54" cy="636.02" r="3" fill="#fff" stroke="#000" stroke-width="1.25"/>
<circle cx="1526.54" cy="654.88" r="3" fill="#fff" stroke="#000" stroke-width="1.25"/>
<circle cx="1530.54" cy="654.28" r="3" fill="#fff" stroke="#000" stroke-width="1.25"/>
<circle cx="1528.54" cy="698.55" r="3" fill="#fff" stroke="#000" stroke-width="1.25"/>
<line x1="1553.46" y1="607.24" x2="1553.46" y2="674.73" stroke="#000" stroke-width="1.3"/>
<line x1="1551.06" y1="607.24" x2="1555.86" y2="607.24" stroke="#000" stroke-width="1.3"/>
<line x1="1551.06" y1="674.73" x2="1555.86" y2="674.73" stroke="#000" stroke-width="1.3"/>
<line x1="1569.16" y1="697.95" x2="1569.16" y2="736.66" stroke="#000" stroke-width="1.3"/>
<line x1="1566.76" y1="697.95" x2="1571.56" y2="697.95" stroke="#000" stroke-width="1.3"/>
<line x1="1566.76" y1="736.66" x2="1571.56" y2="736.66" stroke="#000" stroke-width="1.3"/>
<circle cx="1553.46" cy="607.24" r="3" fill="#fff" stroke="#000" stroke-width="1.25"/>
<circle cx="1553.46" cy="624.51" r="3" fill="#fff" stroke="#000" stroke-width="1.25"/>
<circle cx="1553.46" cy="639" r="3" fill="#fff" stroke="#000" stroke-width="1.25"/>
<circle cx="1553.46" cy="689.42" r="3" fill="#fff" stroke="#000" stroke-width="1.25"/>
<circle cx="1569.16" cy="697.95" r="3" fill="#fff" stroke="#000" stroke-width="1.25"/>
<circle cx="1569.16" cy="705.49" r="3" fill="#fff" stroke="#000" stroke-width="1.25"/>
<circle cx="1569.16" cy="715.22" r="3" fill="#fff" stroke="#000" stroke-width="1.25"/>
<circle cx="1569.16" cy="745.99" r="3" fill="#fff" stroke="#000" stroke-width="1.25"/>
<line x1="1594.08" y1="644.95" x2="1594.08" y2="701.33" stroke="#000" stroke-width="1.3"/>
<line x1="1591.68" y1="644.95" x2="1596.48" y2="644.95" stroke="#000" stroke-width="1.3"/>
<line x1="1591.68" y1="701.33" x2="1596.48" y2="701.33" stroke="#000" stroke-width="1.3"/>
<line x1="1609.78" y1="763.45" x2="1609.78" y2="795.21" stroke="#000" stroke-width="1.3"/>
<line x1="1607.38" y1="763.45" x2="1612.18" y2="763.45" stroke="#000" stroke-width="1.3"/>
<line x1="1607.38" y1="795.21" x2="1612.18" y2="795.21" stroke="#000" stroke-width="1.3"/>
<circle cx="1594.08" cy="636.82" r="3" fill="#fff" stroke="#000" stroke-width="1.25"/>
<circle cx="1594.08" cy="665.2" r="3" fill="#fff" stroke="#000" stroke-width="1.25"/>
<circle cx="1594.08" cy="689.42" r="3" fill="#fff" stroke="#000" stroke-width="1.25"/>
<circle cx="1594.08" cy="701.33" r="3" fill="#fff" stroke="#000" stroke-width="1.25"/>
<circle cx="1609.78" cy="762.06" r="3" fill="#fff" stroke="#000" stroke-width="1.25"/>
<circle cx="1609.78" cy="770" r="3" fill="#fff" stroke="#000" stroke-width="1.25"/>
<circle cx="1609.78" cy="782.31" r="3" fill="#fff" stroke="#000" stroke-width="1.25"/>
<circle cx="1609.78" cy="800.17" r="3" fill="#fff" stroke="#000" stroke-width="1.25"/>
<line x1="1634.7" y1="646.34" x2="1634.7" y2="687.03" stroke="#000" stroke-width="1.3"/>
<line x1="1632.3" y1="646.34" x2="1637.1" y2="646.34" stroke="#000" stroke-width="1.3"/>
<line x1="1632.3" y1="687.03" x2="1637.1" y2="687.03" stroke="#000" stroke-width="1.3"/>
<line x1="1650.4" y1="794.22" x2="1650.4" y2="818.63" stroke="#000" stroke-width="1.3"/>
<line x1="1648" y1="794.22" x2="1652.8" y2="794.22" stroke="#000" stroke-width="1.3"/>
<line x1="1648" y1="818.63" x2="1652.8" y2="818.63" stroke="#000" stroke-width="1.3"/>
<circle cx="1634.7" cy="643.76" r="3" fill="#fff" stroke="#000" stroke-width="1.25"/>
<circle cx="1634.7" cy="656.86" r="3" fill="#fff" stroke="#000" stroke-width="1.25"/>
<circle cx="1634.7" cy="673.14" r="3" fill="#fff" stroke="#000" stroke-width="1.25"/>
<circle cx="1634.7" cy="689.42" r="3" fill="#fff" stroke="#000" stroke-width="1.25"/>
<circle cx="1650.4" cy="790.25" r="3" fill="#fff" stroke="#000" stroke-width="1.25"/>
<circle cx="1650.4" cy="800.77" r="3" fill="#fff" stroke="#000" stroke-width="1.25"/>
<circle cx="1648.9" cy="818.63" r="3" fill="#fff" stroke="#000" stroke-width="1.25"/>
<circle cx="1652.2" cy="818.63" r="3" fill="#fff" stroke="#000" stroke-width="1.25"/>
<line x1="1675.32" y1="692.59" x2="1675.32" y2="812.08" stroke="#000" stroke-width="1.3"/>
<line x1="1672.92" y1="692.59" x2="1677.72" y2="692.59" stroke="#000" stroke-width="1.3"/>
<line x1="1672.92" y1="812.08" x2="1677.72" y2="812.08" stroke="#000" stroke-width="1.3"/>
<circle cx="1675.32" cy="667.58" r="3" fill="#fff" stroke="#000" stroke-width="1.25"/>
<circle cx="1675.32" cy="753.93" r="3" fill="#fff" stroke="#000" stroke-width="1.25"/>
<circle cx="1675.32" cy="790.25" r="3" fill="#fff" stroke="#000" stroke-width="1.25"/>
<circle cx="1675.32" cy="798.19" r="3" fill="#fff" stroke="#000" stroke-width="1.25"/>
<circle cx="1690.72" cy="818.63" r="3" fill="#fff" stroke="#000" stroke-width="1.25"/>
<line x1="1715.94" y1="762.86" x2="1715.94" y2="818.04" stroke="#000" stroke-width="1.3"/>
<line x1="1713.54" y1="762.86" x2="1718.34" y2="762.86" stroke="#000" stroke-width="1.3"/>
<line x1="1713.54" y1="818.04" x2="1718.34" y2="818.04" stroke="#000" stroke-width="1.3"/>
<circle cx="1715.94" cy="753.53" r="3" fill="#fff" stroke="#000" stroke-width="1.25"/>
<circle cx="1715.94" cy="786.28" r="3" fill="#fff" stroke="#000" stroke-width="1.25"/>
<circle cx="1715.94" cy="805.14" r="3" fill="#fff" stroke="#000" stroke-width="1.25"/>
<circle cx="1715.94" cy="818.63" r="3" fill="#fff" stroke="#000" stroke-width="1.25"/>
<circle cx="1729.14" cy="818.63" r="3" fill="#fff" stroke="#000" stroke-width="1.25"/>
<circle cx="1754.56" cy="812.08" r="3" fill="#fff" stroke="#000" stroke-width="1.25"/>
<circle cx="1758.06" cy="811.69" r="3" fill="#fff" stroke="#000" stroke-width="1.25"/>
<circle cx="1754.56" cy="818.63" r="3" fill="#fff" stroke="#000" stroke-width="1.25"/>
<circle cx="1757.66" cy="818.63" r="3" fill="#fff" stroke="#000" stroke-width="1.25"/>
<circle cx="1770.26" cy="818.63" r="3" fill="#fff" stroke="#000" stroke-width="1.25"/>
<circle cx="1773.26" cy="818.63" r="3" fill="#fff" stroke="#000" stroke-width="1.25"/>
<circle cx="1796.08" cy="812.08" r="3" fill="#fff" stroke="#000" stroke-width="1.25"/>
<circle cx="1799.38" cy="811.69" r="3" fill="#fff" stroke="#000" stroke-width="1.25"/>
<circle cx="1796.08" cy="818.63" r="3" fill="#fff" stroke="#000" stroke-width="1.25"/>
<circle cx="1798.98" cy="818.63" r="3" fill="#fff" stroke="#000" stroke-width="1.25"/>
<circle cx="1810.88" cy="818.63" r="3" fill="#fff" stroke="#000" stroke-width="1.25"/>
<circle cx="1813.68" cy="818.63" r="3" fill="#fff" stroke="#000" stroke-width="1.25"/>
<text x="1133.7" y="623.1" font-size="26.7" text-anchor="middle" transform="rotate(-90 1133.7 623.1)">% fibers</text>
<text x="1497.5" y="976.4" font-size="26.7" text-anchor="middle">Fiber CSA (µm<tspan font-size="17.6" dy="-8.6">2</tspan><tspan dy="8.6">)</tspan></text>
<rect x="1273.1" y="454.9" width="15.9" height="15.9" fill="#616161" stroke="#000" stroke-width="1.6"/>
<rect x="1273.1" y="487.8" width="15.9" height="15.9" fill="#ffc180" stroke="#000" stroke-width="1.6"/>
<text x="1303" y="472.2" font-size="26.7">WT</text>
<text x="1303.3" y="504" font-size="26.7">KO</text>
<rect x="1745.85" y="485.55" width="43.8" height="150.2" fill="#616161" stroke="#000" stroke-width="1.5"/>
<rect x="1813.65" y="519.55" width="43.3" height="116.2" fill="#ffc180" stroke="#000" stroke-width="1.5"/>
<line x1="1722.3" y1="447.45" x2="1722.3" y2="637.45" stroke="#000" stroke-width="2.9"/>
<line x1="1712" y1="636" x2="1882.4" y2="636" stroke="#000" stroke-width="2.9"/>
<line x1="1712" y1="448.9" x2="1722.3" y2="448.9" stroke="#000" stroke-width="2.9"/>
<text x="1700" y="457.5" font-size="22.4" text-anchor="end">2500</text>
<line x1="1712" y1="486.32" x2="1722.3" y2="486.32" stroke="#000" stroke-width="2.9"/>
<text x="1700" y="494.92" font-size="22.4" text-anchor="end">2000</text>
<line x1="1712" y1="523.74" x2="1722.3" y2="523.74" stroke="#000" stroke-width="2.9"/>
<text x="1700" y="532.34" font-size="22.4" text-anchor="end">1500</text>
<line x1="1712" y1="561.16" x2="1722.3" y2="561.16" stroke="#000" stroke-width="2.9"/>
<text x="1700" y="569.76" font-size="22.4" text-anchor="end">1000</text>
<line x1="1712" y1="598.58" x2="1722.3" y2="598.58" stroke="#000" stroke-width="2.9"/>
<text x="1700" y="607.18" font-size="22.4" text-anchor="end">500</text>
<line x1="1712" y1="636" x2="1722.3" y2="636" stroke="#000" stroke-width="2.9"/>
<text x="1700" y="644.6" font-size="22.4" text-anchor="end">0</text>
<line x1="1767.3" y1="636" x2="1767.3" y2="640" stroke="#000" stroke-width="2.9"/>
<line x1="1835.5" y1="636" x2="1835.5" y2="640" stroke="#000" stroke-width="2.9"/>
<line x1="1767.3" y1="475.5" x2="1767.3" y2="492" stroke="#000" stroke-width="1.5"/>
<line x1="1756.3" y1="475.5" x2="1778.3" y2="475.5" stroke="#000" stroke-width="1.5"/>
<line x1="1756.3" y1="492" x2="1778.3" y2="492" stroke="#000" stroke-width="1.5"/>
<line x1="1835.5" y1="515.2" x2="1835.5" y2="522.1" stroke="#000" stroke-width="1.5"/>
<line x1="1824" y1="515.2" x2="1847" y2="515.2" stroke="#000" stroke-width="1.5"/>
<line x1="1824" y1="522.1" x2="1847" y2="522.1" stroke="#000" stroke-width="1.5"/>
<circle cx="1767.25" cy="473.52" r="3.55" fill="#fff" stroke="#000" stroke-width="1.25"/>
<circle cx="1760.7" cy="485.03" r="3.55" fill="#fff" stroke="#000" stroke-width="1.25"/>
<circle cx="1774.6" cy="485.03" r="3.55" fill="#fff" stroke="#000" stroke-width="1.25"/>
<circle cx="1767.25" cy="494.36" r="3.55" fill="#fff" stroke="#000" stroke-width="1.25"/>
<circle cx="1821.24" cy="516.19" r="3.55" fill="#fff" stroke="#000" stroke-width="1.25"/>
<circle cx="1835.53" cy="517.19" r="3.55" fill="#fff" stroke="#000" stroke-width="1.25"/>
<circle cx="1849.63" cy="517.78" r="3.55" fill="#fff" stroke="#000" stroke-width="1.25"/>
<circle cx="1821.24" cy="523.74" r="3.55" fill="#fff" stroke="#000" stroke-width="1.25"/>
<text x="1756.7" y="440.2" font-size="18.81"><tspan font-style="italic">P</tspan> = 0.0003</text>
<line x1="1770.6" y1="450.7" x2="1840.5" y2="450.7" stroke="#000" stroke-width="2.2"/>
<text x="1630.2" y="530.6" font-size="22.6" text-anchor="middle" transform="rotate(-90 1630.2 530.6)">Average (µm<tspan font-size="14.8" dy="-7.1">2</tspan><tspan dy="7.1">)</tspan></text>
<text x="-1.5" y="1034.8" font-size="53" font-weight="bold">e</text>
<rect x="223.2" y="1298.1" width="57.2" height="22.4" fill="#616161" stroke="#000" stroke-width="1.6"/>
<rect x="311.1" y="1153.7" width="56.6" height="166.8" fill="#ffc180" stroke="#000" stroke-width="1.6"/>
<line x1="194.1" y1="1079.1" x2="194.1" y2="1322.55" stroke="#000" stroke-width="3.5"/>
<line x1="180.1" y1="1320.8" x2="398.8" y2="1320.8" stroke="#000" stroke-width="3.5"/>
<line x1="180.1" y1="1080.6" x2="194.1" y2="1080.6" stroke="#000" stroke-width="3"/>
<text x="164.9" y="1090.2" font-size="26.7" text-anchor="end">4.0</text>
<line x1="180.1" y1="1140.65" x2="194.1" y2="1140.65" stroke="#000" stroke-width="3"/>
<text x="164.9" y="1150.25" font-size="26.7" text-anchor="end">3.0</text>
<line x1="180.1" y1="1200.7" x2="194.1" y2="1200.7" stroke="#000" stroke-width="3"/>
<text x="164.9" y="1210.3" font-size="26.7" text-anchor="end">2.0</text>
<line x1="180.1" y1="1260.75" x2="194.1" y2="1260.75" stroke="#000" stroke-width="3"/>
<text x="164.9" y="1270.35" font-size="26.7" text-anchor="end">1.0</text>
<line x1="180.1" y1="1320.8" x2="194.1" y2="1320.8" stroke="#000" stroke-width="3"/>
<text x="164.9" y="1330.4" font-size="26.7" text-anchor="end">0.0</text>
<line x1="251.2" y1="1320.8" x2="251.2" y2="1333.3" stroke="#000" stroke-width="3.5"/>
<text x="251.2" y="1356" font-size="26.7" text-anchor="middle">WT</text>
<line x1="339.4" y1="1320.8" x2="339.4" y2="1333.3" stroke="#000" stroke-width="3.5"/>
<text x="339.4" y="1356" font-size="26.7" text-anchor="middle">KO</text>
<line x1="251.9" y1="1283.9" x2="251.9" y2="1310" stroke="#000" stroke-width="1.5"/>
<line x1="237.1" y1="1283.9" x2="266.7" y2="1283.9" stroke="#000" stroke-width="1.5"/>
<line x1="237.1" y1="1310" x2="266.7" y2="1310" stroke="#000" stroke-width="1.5"/>
<line x1="339.3" y1="1131.8" x2="339.3" y2="1174.1" stroke="#000" stroke-width="1.5"/>
<line x1="324.55" y1="1131.8" x2="354.05" y2="1131.8" stroke="#000" stroke-width="1.5"/>
<line x1="324.55" y1="1174.1" x2="354.05" y2="1174.1" stroke="#000" stroke-width="1.5"/>
<circle cx="251.7" cy="1278.58" r="4.5" fill="#fff" stroke="#000" stroke-width="1.2"/>
<circle cx="242.7" cy="1298.16" r="4.5" fill="#fff" stroke="#000" stroke-width="1.2"/>
<circle cx="260.88" cy="1300.64" r="4.5" fill="#fff" stroke="#000" stroke-width="1.2"/>
<circle cx="251.7" cy="1309.99" r="4.5" fill="#fff" stroke="#000" stroke-width="1.2"/>
<circle cx="339.4" cy="1126.82" r="4.5" fill="#fff" stroke="#000" stroke-width="1.2"/>
<circle cx="330.05" cy="1153.47" r="4.5" fill="#fff" stroke="#000" stroke-width="1.2"/>
<circle cx="348.58" cy="1154" r="4.5" fill="#fff" stroke="#000" stroke-width="1.2"/>
<circle cx="339.4" cy="1178.88" r="4.5" fill="#fff" stroke="#000" stroke-width="1.2"/>
<text x="238.9" y="1093.4" font-size="22.2"><tspan font-style="italic">P</tspan> &lt; 0.0001</text>
<line x1="257.4" y1="1108.5" x2="338.5" y2="1108.5" stroke="#000" stroke-width="2"/>
<text x="70.9" y="1207.6" font-size="26.7" text-anchor="middle" transform="rotate(-90 70.9 1207.6)">% fibers with</text>
<text x="102.3" y="1197.8" font-size="26.7" text-anchor="middle" transform="rotate(-90 102.3 1197.8)">central nuclei</text>
<text x="417.8" y="1033.5" font-size="53" font-weight="bold">f</text>
<rect x="603.5" y="1225.4" width="56.9" height="89.5" fill="#616161" stroke="#000" stroke-width="1.6"/>
<rect x="691.1" y="1169" width="56.9" height="145.9" fill="#ffc180" stroke="#000" stroke-width="1.6"/>
<line x1="573.7" y1="1073.6" x2="573.7" y2="1316.8" stroke="#000" stroke-width="3.2"/>
<line x1="562" y1="1315.2" x2="779.6" y2="1315.2" stroke="#000" stroke-width="3.2"/>
<line x1="562" y1="1075.2" x2="573.7" y2="1075.2" stroke="#000" stroke-width="3.2"/>
<text x="544.1" y="1084.8" font-size="26.7" text-anchor="end">120</text>
<line x1="562" y1="1135.2" x2="573.7" y2="1135.2" stroke="#000" stroke-width="3.2"/>
<text x="544.1" y="1144.8" font-size="26.7" text-anchor="end">90</text>
<line x1="562" y1="1195.2" x2="573.7" y2="1195.2" stroke="#000" stroke-width="3.2"/>
<text x="544.1" y="1204.8" font-size="26.7" text-anchor="end">60</text>
<line x1="562" y1="1255.2" x2="573.7" y2="1255.2" stroke="#000" stroke-width="3.2"/>
<text x="544.1" y="1264.8" font-size="26.7" text-anchor="end">30</text>
<line x1="562" y1="1315.2" x2="573.7" y2="1315.2" stroke="#000" stroke-width="3.2"/>
<text x="544.1" y="1324.8" font-size="26.7" text-anchor="end">0</text>
<line x1="631.6" y1="1315.2" x2="631.6" y2="1327.5" stroke="#000" stroke-width="3.2"/>
<text x="631.6" y="1353.3" font-size="26.7" text-anchor="middle">WT</text>
<line x1="719.2" y1="1315.2" x2="719.2" y2="1327.5" stroke="#000" stroke-width="3.2"/>
<text x="719.2" y="1353.3" font-size="26.7" text-anchor="middle">KO</text>
<line x1="631.8" y1="1207.7" x2="631.8" y2="1240.9" stroke="#000" stroke-width="1.5"/>
<line x1="616.8" y1="1207.7" x2="646.8" y2="1207.7" stroke="#000" stroke-width="1.5"/>
<line x1="616.8" y1="1240.9" x2="646.8" y2="1240.9" stroke="#000" stroke-width="1.5"/>
<line x1="719.6" y1="1139.9" x2="719.6" y2="1194.6" stroke="#000" stroke-width="1.5"/>
<line x1="704.85" y1="1139.9" x2="734.35" y2="1139.9" stroke="#000" stroke-width="1.5"/>
<line x1="704.85" y1="1194.6" x2="734.35" y2="1194.6" stroke="#000" stroke-width="1.5"/>
<circle cx="631.84" cy="1198.71" r="4.5" fill="#fff" stroke="#000" stroke-width="1.2"/>
<circle cx="631.84" cy="1209.86" r="4.5" fill="#fff" stroke="#000" stroke-width="1.2"/>
<circle cx="623.67" cy="1230.54" r="4.5" fill="#fff" stroke="#000" stroke-width="1.2"/>
<circle cx="656.6" cy="1232.45" r="4.5" fill="#fff" stroke="#000" stroke-width="1.2"/>
<circle cx="607.35" cy="1237.62" r="4.5" fill="#fff" stroke="#000" stroke-width="1.2"/>
<circle cx="639.73" cy="1237.62" r="4.5" fill="#fff" stroke="#000" stroke-width="1.2"/>
<circle cx="719.73" cy="1115.71" r="4.5" fill="#fff" stroke="#000" stroke-width="1.2"/>
<circle cx="728.44" cy="1162.79" r="4.5" fill="#fff" stroke="#000" stroke-width="1.2"/>
<circle cx="710.2" cy="1169.59" r="4.5" fill="#fff" stroke="#000" stroke-width="1.2"/>
<circle cx="710.2" cy="1181.02" r="4.5" fill="#fff" stroke="#000" stroke-width="1.2"/>
<circle cx="728.44" cy="1183.47" r="4.5" fill="#fff" stroke="#000" stroke-width="1.2"/>
<circle cx="710.2" cy="1191.9" r="4.5" fill="#fff" stroke="#000" stroke-width="1.2"/>
<text x="621" y="1076.3" font-size="22.36"><tspan font-style="italic">P</tspan> = 0.0014</text>
<line x1="636.2" y1="1093.4" x2="717.6" y2="1093.4" stroke="#000" stroke-width="2"/>
<text x="492.8" y="1195.3" font-size="26.7" text-anchor="middle" transform="rotate(-90 492.8 1195.3)">CK (U/L)</text>
<text x="782.5" y="1034" font-size="53" font-weight="bold">g</text>
<rect x="994.15" y="1289.85" width="36" height="28.6" fill="#616161" stroke="#000" stroke-width="1.3"/>
<rect x="1049.95" y="1300.75" width="35.1" height="17.7" fill="#ffc180" stroke="#000" stroke-width="1.3"/>
<rect x="1142.15" y="1289.85" width="35.7" height="28.6" fill="#616161" stroke="#000" stroke-width="1.3"/>
<rect x="1197.85" y="1276.85" width="35.7" height="41.6" fill="#ffc180" stroke="#000" stroke-width="1.3"/>
<rect x="1290.75" y="1290.75" width="36.2" height="27.7" fill="#616161" stroke="#000" stroke-width="1.3"/>
<rect x="1346.25" y="1260.05" width="36" height="58.4" fill="#ffc180" stroke="#000" stroke-width="1.3"/>
<rect x="1439.25" y="1290.75" width="36" height="27.7" fill="#616161" stroke="#000" stroke-width="1.3"/>
<rect x="1495.05" y="1114.45" width="36.3" height="204" fill="#ffc180" stroke="#000" stroke-width="1.3"/>
<line x1="974.7" y1="1080.25" x2="974.7" y2="1320.35" stroke="#000" stroke-width="3.5"/>
<line x1="959.8" y1="1318.6" x2="1551.6" y2="1318.6" stroke="#000" stroke-width="3.5"/>
<line x1="959.8" y1="1082" x2="974.7" y2="1082" stroke="#000" stroke-width="3.5"/>
<text x="945.2" y="1091.4" font-size="26.7" text-anchor="end">8</text>
<line x1="959.8" y1="1141.15" x2="974.7" y2="1141.15" stroke="#000" stroke-width="3.5"/>
<text x="945.2" y="1150.55" font-size="26.7" text-anchor="end">6</text>
<line x1="959.8" y1="1200.3" x2="974.7" y2="1200.3" stroke="#000" stroke-width="3.5"/>
<text x="945.2" y="1209.7" font-size="26.7" text-anchor="end">4</text>
<line x1="959.8" y1="1259.45" x2="974.7" y2="1259.45" stroke="#000" stroke-width="3.5"/>
<text x="945.2" y="1268.85" font-size="26.7" text-anchor="end">2</text>
<line x1="959.8" y1="1318.6" x2="974.7" y2="1318.6" stroke="#000" stroke-width="3.5"/>
<text x="945.2" y="1328" font-size="26.7" text-anchor="end">0</text>
<line x1="1038.4" y1="1318.6" x2="1038.4" y2="1329.1" stroke="#000" stroke-width="3.5"/>
<text x="1038.4" y="1353.7" font-size="26.7" text-anchor="middle" font-style="italic">MyoD</text>
<line x1="1187.2" y1="1318.6" x2="1187.2" y2="1329.1" stroke="#000" stroke-width="3.5"/>
<text x="1187.2" y="1353.7" font-size="26.7" text-anchor="middle" font-style="italic">Myogenin</text>
<line x1="1335.2" y1="1318.6" x2="1335.2" y2="1329.1" stroke="#000" stroke-width="3.5"/>
<text x="1335.2" y="1353.7" font-size="26.7" text-anchor="middle" font-style="italic">MyHC3</text>
<line x1="1484.1" y1="1318.6" x2="1484.1" y2="1329.1" stroke="#000" stroke-width="3.5"/>
<text x="1484.1" y="1353.7" font-size="26.7" text-anchor="middle" font-style="italic">Mustn1</text>
<line x1="1012.1" y1="1281.5" x2="1012.1" y2="1296.5" stroke="#000" stroke-width="1.5"/>
<line x1="1003.1" y1="1281.5" x2="1021.1" y2="1281.5" stroke="#000" stroke-width="1.5"/>
<line x1="1003.1" y1="1296.5" x2="1021.1" y2="1296.5" stroke="#000" stroke-width="1.5"/>
<line x1="1067.5" y1="1296" x2="1067.5" y2="1304" stroke="#000" stroke-width="1.5"/>
<line x1="1058.5" y1="1296" x2="1076.5" y2="1296" stroke="#000" stroke-width="1.5"/>
<line x1="1058.5" y1="1304" x2="1076.5" y2="1304" stroke="#000" stroke-width="1.5"/>
<line x1="1160" y1="1284" x2="1160" y2="1294.5" stroke="#000" stroke-width="1.5"/>
<line x1="1151" y1="1284" x2="1169" y2="1284" stroke="#000" stroke-width="1.5"/>
<line x1="1151" y1="1294.5" x2="1169" y2="1294.5" stroke="#000" stroke-width="1.5"/>
<line x1="1215.7" y1="1271.5" x2="1215.7" y2="1280.5" stroke="#000" stroke-width="1.5"/>
<line x1="1206.7" y1="1271.5" x2="1224.7" y2="1271.5" stroke="#000" stroke-width="1.5"/>
<line x1="1206.7" y1="1280.5" x2="1224.7" y2="1280.5" stroke="#000" stroke-width="1.5"/>
<line x1="1308.8" y1="1281.7" x2="1308.8" y2="1296.1" stroke="#000" stroke-width="1.5"/>
<line x1="1299.8" y1="1281.7" x2="1317.8" y2="1281.7" stroke="#000" stroke-width="1.5"/>
<line x1="1299.8" y1="1296.1" x2="1317.8" y2="1296.1" stroke="#000" stroke-width="1.5"/>
<line x1="1364.2" y1="1235.4" x2="1364.2" y2="1283.1" stroke="#000" stroke-width="1.5"/>
<line x1="1355.2" y1="1235.4" x2="1373.2" y2="1235.4" stroke="#000" stroke-width="1.5"/>
<line x1="1355.2" y1="1283.1" x2="1373.2" y2="1283.1" stroke="#000" stroke-width="1.5"/>
<line x1="1457.2" y1="1285" x2="1457.2" y2="1294" stroke="#000" stroke-width="1.5"/>
<line x1="1448.2" y1="1285" x2="1466.2" y2="1285" stroke="#000" stroke-width="1.5"/>
<line x1="1448.2" y1="1294" x2="1466.2" y2="1294" stroke="#000" stroke-width="1.5"/>
<line x1="1513.2" y1="1096.1" x2="1513.2" y2="1130.1" stroke="#000" stroke-width="1.5"/>
<line x1="1504.2" y1="1096.1" x2="1522.2" y2="1096.1" stroke="#000" stroke-width="1.5"/>
<line x1="1504.2" y1="1130.1" x2="1522.2" y2="1130.1" stroke="#000" stroke-width="1.5"/>
<circle cx="1017.97" cy="1277.54" r="4.4" fill="#fff" stroke="#000" stroke-width="1.2"/>
<circle cx="1004.91" cy="1285.97" r="4.4" fill="#fff" stroke="#000" stroke-width="1.2"/>
<circle cx="1011.71" cy="1289.24" r="4.4" fill="#fff" stroke="#000" stroke-width="1.2"/>
<circle cx="1018.51" cy="1288.69" r="4.4" fill="#fff" stroke="#000" stroke-width="1.2"/>
<circle cx="998.11" cy="1295.22" r="4.4" fill="#fff" stroke="#000" stroke-width="1.2"/>
<circle cx="1025.31" cy="1296.58" r="4.4" fill="#fff" stroke="#000" stroke-width="1.2"/>
<circle cx="1059.31" cy="1293.86" r="4.4" fill="#fff" stroke="#000" stroke-width="1.2"/>
<circle cx="1070.2" cy="1296.58" r="4.4" fill="#fff" stroke="#000" stroke-width="1.2"/>
<circle cx="1080.53" cy="1298.76" r="4.4" fill="#fff" stroke="#000" stroke-width="1.2"/>
<circle cx="1053.06" cy="1302.3" r="4.4" fill="#fff" stroke="#000" stroke-width="1.2"/>
<circle cx="1064.76" cy="1300.94" r="4.4" fill="#fff" stroke="#000" stroke-width="1.2"/>
<circle cx="1075.09" cy="1304.74" r="4.4" fill="#fff" stroke="#000" stroke-width="1.2"/>
<circle cx="1153.17" cy="1284.34" r="4.4" fill="#fff" stroke="#000" stroke-width="1.2"/>
<circle cx="1173.57" cy="1283.25" r="4.4" fill="#fff" stroke="#000" stroke-width="1.2"/>
<circle cx="1146.37" cy="1291.96" r="4.4" fill="#fff" stroke="#000" stroke-width="1.2"/>
<circle cx="1159.97" cy="1290.05" r="4.4" fill="#fff" stroke="#000" stroke-width="1.2"/>
<circle cx="1166.77" cy="1289.24" r="4.4" fill="#fff" stroke="#000" stroke-width="1.2"/>
<circle cx="1173.57" cy="1295.22" r="4.4" fill="#fff" stroke="#000" stroke-width="1.2"/>
<circle cx="1229.34" cy="1269.38" r="4.4" fill="#fff" stroke="#000" stroke-width="1.2"/>
<circle cx="1202.13" cy="1275.64" r="4.4" fill="#fff" stroke="#000" stroke-width="1.2"/>
<circle cx="1208.93" cy="1274.28" r="4.4" fill="#fff" stroke="#000" stroke-width="1.2"/>
<circle cx="1221.72" cy="1275.64" r="4.4" fill="#fff" stroke="#000" stroke-width="1.2"/>
<circle cx="1215.73" cy="1275.09" r="4.4" fill="#fff" stroke="#000" stroke-width="1.2"/>
<circle cx="1228.52" cy="1280.53" r="4.4" fill="#fff" stroke="#000" stroke-width="1.2"/>
<circle cx="1321.63" cy="1278.44" r="4.4" fill="#fff" stroke="#000" stroke-width="1.2"/>
<circle cx="1312.11" cy="1283.88" r="4.4" fill="#fff" stroke="#000" stroke-width="1.2"/>
<circle cx="1294.97" cy="1287.96" r="4.4" fill="#fff" stroke="#000" stroke-width="1.2"/>
<circle cx="1321.63" cy="1289.32" r="4.4" fill="#fff" stroke="#000" stroke-width="1.2"/>
<circle cx="1312.11" cy="1295.31" r="4.4" fill="#fff" stroke="#000" stroke-width="1.2"/>
<circle cx="1294.97" cy="1298.03" r="4.4" fill="#fff" stroke="#000" stroke-width="1.2"/>
<circle cx="1363.81" cy="1213.95" r="4.4" fill="#fff" stroke="#000" stroke-width="1.2"/>
<circle cx="1363.81" cy="1253.95" r="4.4" fill="#fff" stroke="#000" stroke-width="1.2"/>
<circle cx="1350.2" cy="1265.65" r="4.4" fill="#fff" stroke="#000" stroke-width="1.2"/>
<circle cx="1363.81" cy="1268.91" r="4.4" fill="#fff" stroke="#000" stroke-width="1.2"/>
<circle cx="1377.41" cy="1272.18" r="4.4" fill="#fff" stroke="#000" stroke-width="1.2"/>
<circle cx="1350.2" cy="1281.16" r="4.4" fill="#fff" stroke="#000" stroke-width="1.2"/>
<circle cx="1470.75" cy="1284.69" r="4.4" fill="#fff" stroke="#000" stroke-width="1.2"/>
<circle cx="1450.07" cy="1285.24" r="4.4" fill="#fff" stroke="#000" stroke-width="1.2"/>
<circle cx="1456.87" cy="1286.6" r="4.4" fill="#fff" stroke="#000" stroke-width="1.2"/>
<circle cx="1463.67" cy="1286.05" r="4.4" fill="#fff" stroke="#000" stroke-width="1.2"/>
<circle cx="1443.27" cy="1291.22" r="4.4" fill="#fff" stroke="#000" stroke-width="1.2"/>
<circle cx="1470.48" cy="1296.67" r="4.4" fill="#fff" stroke="#000" stroke-width="1.2"/>
<circle cx="1512.65" cy="1085.24" r="4.4" fill="#fff" stroke="#000" stroke-width="1.2"/>
<circle cx="1512.65" cy="1103.47" r="4.4" fill="#fff" stroke="#000" stroke-width="1.2"/>
<circle cx="1499.32" cy="1113.27" r="4.4" fill="#fff" stroke="#000" stroke-width="1.2"/>
<circle cx="1526.26" cy="1120.61" r="4.4" fill="#fff" stroke="#000" stroke-width="1.2"/>
<circle cx="1512.65" cy="1122.52" r="4.4" fill="#fff" stroke="#000" stroke-width="1.2"/>
<circle cx="1512.65" cy="1134.76" r="4.4" fill="#fff" stroke="#000" stroke-width="1.2"/>
<text x="987.8" y="1224" font-size="22.32"><tspan font-style="italic">P</tspan> = 0.0060</text>
<text x="1135.5" y="1224" font-size="22.1"><tspan font-style="italic">P</tspan> = 0.0001</text>
<text x="1278.1" y="1175.9" font-size="22.32"><tspan font-style="italic">P</tspan> = 0.0157</text>
<text x="1431.3" y="1043.6" font-size="22.1"><tspan font-style="italic">P</tspan> &lt; 0.0001</text>
<line x1="1013.1" y1="1243" x2="1072.1" y2="1243" stroke="#000" stroke-width="2"/>
<line x1="1158.6" y1="1243" x2="1218.5" y2="1243" stroke="#000" stroke-width="2"/>
<line x1="1303.4" y1="1196" x2="1362.4" y2="1196" stroke="#000" stroke-width="2"/>
<line x1="1455" y1="1062.1" x2="1514" y2="1062.1" stroke="#000" stroke-width="2"/>
<text x="870.6" y="1197.5" font-size="26.7" text-anchor="middle" transform="rotate(-90 870.6 1197.5)">Relative mRNA</text>
<text x="902.5" y="1194.9" font-size="26.7" text-anchor="middle" transform="rotate(-90 902.5 1194.9)">expression</text>
<rect x="1035.65" y="1073.85" width="16" height="16" fill="#616161" stroke="#000" stroke-width="1.7"/>
<rect x="1035.65" y="1105.95" width="16" height="16" fill="#ffc180" stroke="#000" stroke-width="1.7"/>
<text x="1064.5" y="1091.5" font-size="26.7">WT</text>
<text x="1065" y="1123.3" font-size="26.7">KO</text>
<text x="1570.5" y="1048.5" font-size="53" font-weight="bold">h</text>
<rect x="1824.4" y="1303.7" width="51.4" height="10.6" fill="#616161" stroke="#000" stroke-width="1.6"/>
<rect x="1906" y="1170.7" width="51.7" height="143.6" fill="#ffc180" stroke="#000" stroke-width="1.6"/>
<line x1="1795.4" y1="1073.65" x2="1795.4" y2="1316.25" stroke="#000" stroke-width="3.3"/>
<line x1="1782" y1="1314.6" x2="1989" y2="1314.6" stroke="#000" stroke-width="3.3"/>
<line x1="1782" y1="1075.3" x2="1795.4" y2="1075.3" stroke="#000" stroke-width="3.3"/>
<text x="1764.9" y="1084.5" font-size="26.7" text-anchor="end">250</text>
<line x1="1782" y1="1123.16" x2="1795.4" y2="1123.16" stroke="#000" stroke-width="3.3"/>
<text x="1764.9" y="1132.36" font-size="26.7" text-anchor="end">200</text>
<line x1="1782" y1="1171.02" x2="1795.4" y2="1171.02" stroke="#000" stroke-width="3.3"/>
<text x="1764.9" y="1180.22" font-size="26.7" text-anchor="end">150</text>
<line x1="1782" y1="1218.88" x2="1795.4" y2="1218.88" stroke="#000" stroke-width="3.3"/>
<text x="1764.9" y="1228.08" font-size="26.7" text-anchor="end">100</text>
<line x1="1782" y1="1266.74" x2="1795.4" y2="1266.74" stroke="#000" stroke-width="3.3"/>
<text x="1764.9" y="1275.94" font-size="26.7" text-anchor="end">50</text>
<line x1="1782" y1="1314.6" x2="1795.4" y2="1314.6" stroke="#000" stroke-width="3.3"/>
<text x="1764.9" y="1323.8" font-size="26.7" text-anchor="end">0</text>
<line x1="1850.2" y1="1314.6" x2="1850.2" y2="1324.9" stroke="#000" stroke-width="3.3"/>
<text x="1850.2" y="1354" font-size="26.7" text-anchor="middle">WT</text>
<line x1="1932.4" y1="1314.6" x2="1932.4" y2="1324.9" stroke="#000" stroke-width="3.3"/>
<text x="1932.4" y="1354" font-size="26.7" text-anchor="middle">KO</text>
<line x1="1849.8" y1="1297.5" x2="1849.8" y2="1306.5" stroke="#000" stroke-width="1.5"/>
<line x1="1835.8" y1="1297.5" x2="1863.8" y2="1297.5" stroke="#000" stroke-width="1.5"/>
<line x1="1835.8" y1="1306.5" x2="1863.8" y2="1306.5" stroke="#000" stroke-width="1.5"/>
<line x1="1932" y1="1153.3" x2="1932" y2="1185.1" stroke="#000" stroke-width="1.5"/>
<line x1="1918.5" y1="1153.3" x2="1945.5" y2="1153.3" stroke="#000" stroke-width="1.5"/>
<line x1="1918.5" y1="1185.1" x2="1945.5" y2="1185.1" stroke="#000" stroke-width="1.5"/>
<circle cx="1849.41" cy="1278.44" r="4.5" fill="#fff" stroke="#000" stroke-width="1.2"/>
<circle cx="1872.81" cy="1292.04" r="4.5" fill="#fff" stroke="#000" stroke-width="1.2"/>
<circle cx="1857.03" cy="1297.48" r="4.5" fill="#fff" stroke="#000" stroke-width="1.2"/>
<circle cx="1827.1" cy="1300.75" r="4.5" fill="#fff" stroke="#000" stroke-width="1.2"/>
<circle cx="1842.06" cy="1307.01" r="4.5" fill="#fff" stroke="#000" stroke-width="1.2"/>
<circle cx="1872.81" cy="1310.54" r="4.5" fill="#fff" stroke="#000" stroke-width="1.2"/>
<circle cx="1827.1" cy="1315.17" r="4.5" fill="#fff" stroke="#000" stroke-width="1.2"/>
<circle cx="1857.03" cy="1315.17" r="4.5" fill="#fff" stroke="#000" stroke-width="1.2"/>
<circle cx="1931.86" cy="1098.3" r="4.5" fill="#fff" stroke="#000" stroke-width="1.2"/>
<circle cx="1931.86" cy="1121.97" r="4.5" fill="#fff" stroke="#000" stroke-width="1.2"/>
<circle cx="1931.86" cy="1132.86" r="4.5" fill="#fff" stroke="#000" stroke-width="1.2"/>
<circle cx="1931.86" cy="1159.25" r="4.5" fill="#fff" stroke="#000" stroke-width="1.2"/>
<circle cx="1922.88" cy="1173.13" r="4.5" fill="#fff" stroke="#000" stroke-width="1.2"/>
<circle cx="1940.84" cy="1181.02" r="4.5" fill="#fff" stroke="#000" stroke-width="1.2"/>
<circle cx="1931.86" cy="1195.44" r="4.5" fill="#fff" stroke="#000" stroke-width="1.2"/>
<circle cx="1931.86" cy="1214.49" r="4.5" fill="#fff" stroke="#000" stroke-width="1.2"/>
<circle cx="1931.86" cy="1249.05" r="4.5" fill="#fff" stroke="#000" stroke-width="1.2"/>
<text x="1833.1" y="1053.4" font-size="22.1"><tspan font-style="italic">P</tspan> &lt; 0.0001</text>
<line x1="1854.3" y1="1072.2" x2="1924.2" y2="1072.2" stroke="#000" stroke-width="2"/>
<text x="1661.6" y="1189.7" font-size="26.7" text-anchor="middle" transform="rotate(-90 1661.6 1189.7)">Duration of muscle</text>
<text x="1693.4" y="1187.4" font-size="26.7" text-anchor="middle" transform="rotate(-90 1693.4 1187.4)">movement (s)</text>
</svg>
</body></html>
